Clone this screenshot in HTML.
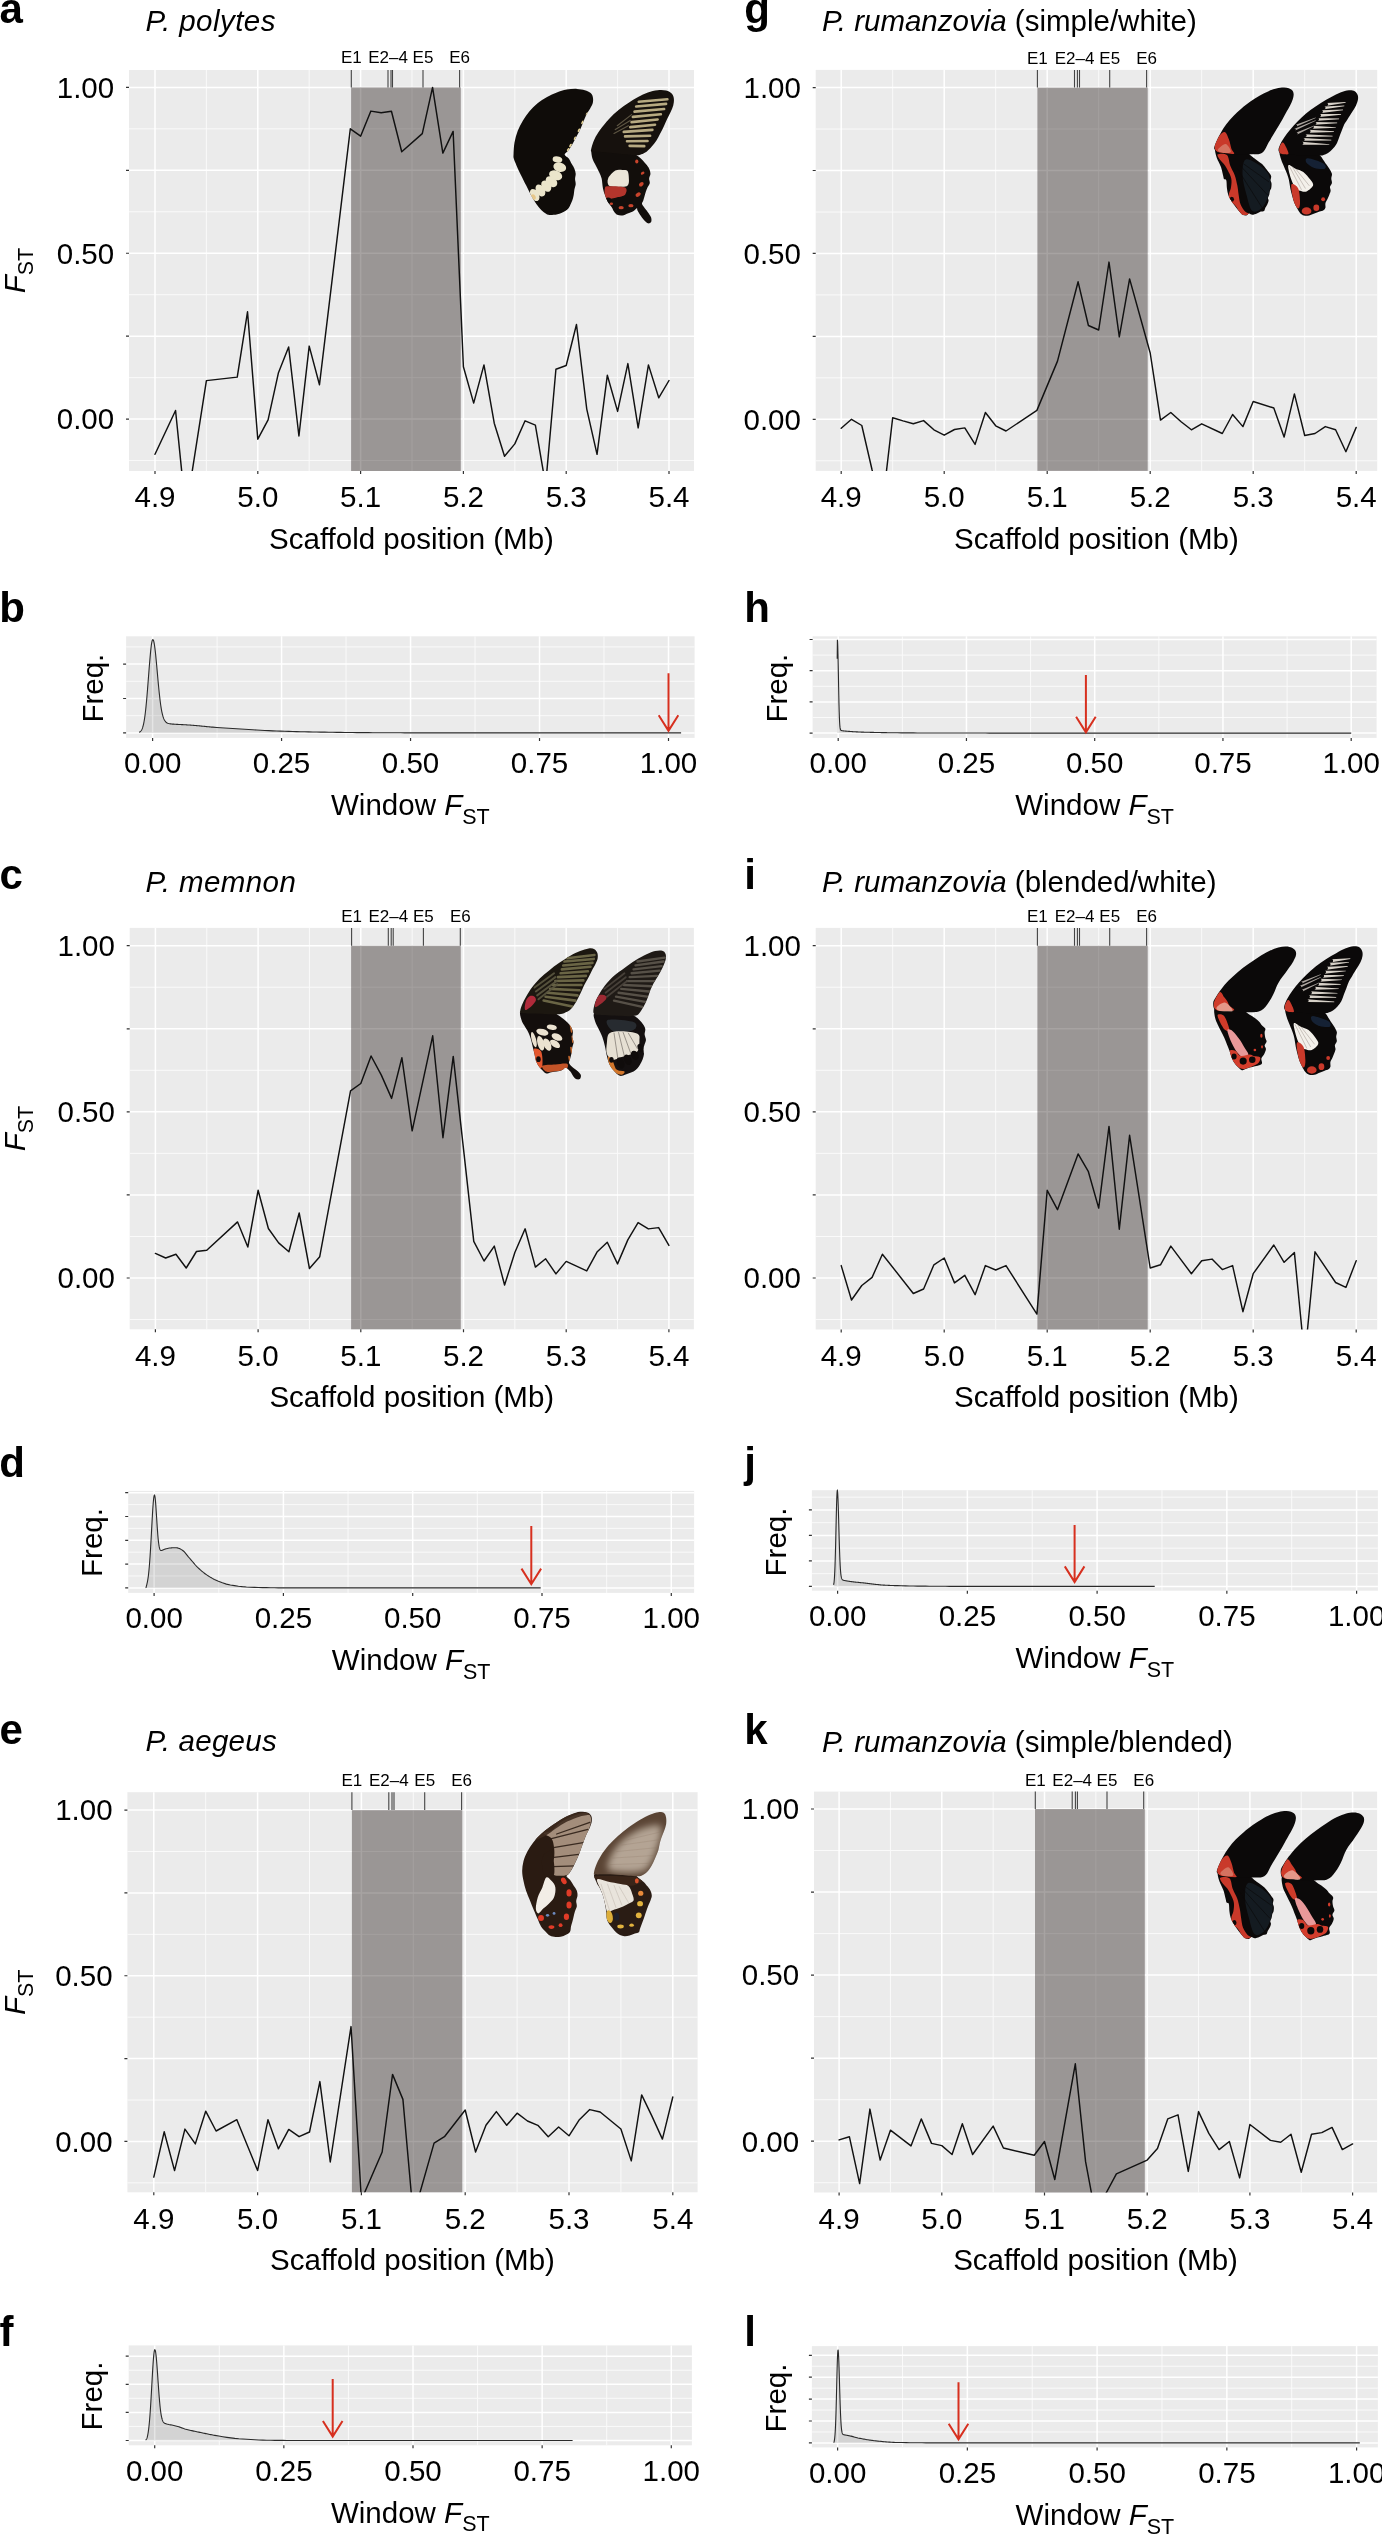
<!DOCTYPE html>
<html><head><meta charset="utf-8"><title>Figure</title>
<style>html,body{margin:0;padding:0;background:#fff;}svg{display:block;will-change:transform;}</style></head>
<body><svg width="1382" height="2535" viewBox="0 0 1382 2535">
<defs><filter id="bl60" x="-20%" y="-20%" width="140%" height="140%"><feGaussianBlur stdDeviation="60"/></filter></defs>
<rect width="1382" height="2535" fill="#fff"/>
<clipPath id="clipa"><rect x="129" y="70" width="565" height="401"/></clipPath>
<rect x="129" y="70" width="565" height="401" fill="#EBEBEB"/>
<path d="M206.4 70V471M309.2 70V471M412 70V471M514.8 70V471M617.6 70V471M129 460.56H694M129 377.64H694M129 294.71H694M129 211.79H694M129 128.86H694" stroke="#fafafa" stroke-width="1" fill="none"/>
<path d="M155 70V471M257.8 70V471M360.6 70V471M463.4 70V471M566.2 70V471M669 70V471M129 419.1H694M129 336.18H694M129 253.25H694M129 170.32H694M129 87.4H694" stroke="#ffffff" stroke-width="1.5" fill="none"/>
<rect x="351.1" y="87.4" width="109.7" height="383.6" fill="#0d0400" fill-opacity="0.365"/>
<path d="M351.3 70V87.4M388 70V87.4M391 70V87.4M392.5 70V87.4M423 70V87.4M459.6 70V87.4" stroke="#444" stroke-width="1.1" fill="none"/>
<text x="351.3" y="62.8" font-family='"Liberation Sans", sans-serif' font-size="17" text-anchor="middle">E1</text>
<text x="388" y="62.8" font-family='"Liberation Sans", sans-serif' font-size="17" text-anchor="middle">E2–4</text>
<text x="423" y="62.8" font-family='"Liberation Sans", sans-serif' font-size="17" text-anchor="middle">E5</text>
<text x="459.6" y="62.8" font-family='"Liberation Sans", sans-serif' font-size="17" text-anchor="middle">E6</text>
<path d="M155 454.3 L175.56 410.5 L185.84 512 L206.4 380.6 L237.24 377.1 L247.52 311.8 L257.8 439.2 L268.08 419.8 L278.36 373.1 L288.64 346.9 L298.92 436 L309.2 346.1 L319.48 384.7 L350.32 128.8 L360.6 136.2 L370.88 111.1 L381.16 112.7 L391.44 111.2 L401.72 151.8 L422.28 133.6 L432.56 87.4 L442.84 153.1 L453.12 131.4 L463.4 366.8 L473.68 403.1 L483.96 364.9 L494.24 423.2 L504.52 456.2 L514.8 443.9 L525.08 420.8 L535.36 425.1 L545.64 485 L555.92 369.2 L566.2 365.5 L576.48 324.5 L586.76 409.1 L597.04 454.3 L607.32 375.3 L617.6 411.4 L627.88 363.6 L638.16 427.9 L648.44 364.9 L658.72 397.8 L669 380.5" stroke="#111" stroke-width="1.45" fill="none" stroke-linejoin="round" stroke-linecap="round" clip-path="url(#clipa)"/>
<path d="M126 419.1H129M126 336.18H129M126 253.25H129M126 170.32H129M126 87.4H129M155 471V474M257.8 471V474M360.6 471V474M463.4 471V474M566.2 471V474M669 471V474" stroke="#333333" stroke-width="1.2" fill="none"/>
<text x="114.2" y="429.4" font-family='"Liberation Sans", sans-serif' font-size="29.5" text-anchor="end">0.00</text>
<text x="114.2" y="263.55" font-family='"Liberation Sans", sans-serif' font-size="29.5" text-anchor="end">0.50</text>
<text x="114.2" y="97.7" font-family='"Liberation Sans", sans-serif' font-size="29.5" text-anchor="end">1.00</text>
<text x="155" y="507.3" font-family='"Liberation Sans", sans-serif' font-size="29.5" text-anchor="middle">4.9</text>
<text x="257.8" y="507.3" font-family='"Liberation Sans", sans-serif' font-size="29.5" text-anchor="middle">5.0</text>
<text x="360.6" y="507.3" font-family='"Liberation Sans", sans-serif' font-size="29.5" text-anchor="middle">5.1</text>
<text x="463.4" y="507.3" font-family='"Liberation Sans", sans-serif' font-size="29.5" text-anchor="middle">5.2</text>
<text x="566.2" y="507.3" font-family='"Liberation Sans", sans-serif' font-size="29.5" text-anchor="middle">5.3</text>
<text x="669" y="507.3" font-family='"Liberation Sans", sans-serif' font-size="29.5" text-anchor="middle">5.4</text>
<text x="411.5" y="548.6" font-family='"Liberation Sans", sans-serif' font-size="29.5" text-anchor="middle">Scaffold position (Mb)</text>
<text transform="translate(24.6 270.5) rotate(-90)" font-family='"Liberation Sans", sans-serif' font-size="29.5" text-anchor="middle"><tspan font-style="italic">F</tspan><tspan font-size="21.5" dy="8.6">ST</tspan></text>
<text x="145.6" y="30.7" font-family='"Liberation Sans", sans-serif' font-size="29.5"><tspan font-style="italic" letter-spacing="0.45">P. polytes</tspan></text>
<g transform="translate(508 84) scale(0.065104)"><clipPath id="ca_left"><path d="M85 1080C87 1038 89 960 100 900C111 840 128 777 150 720C172 663 200 610 230 560C260 510 293 463 330 420C367 377 405 337 450 300C495 263 550 228 600 200C650 172 700 149 750 130C800 111 848 94 900 85C952 76 1013 73 1060 75C1107 77 1145 84 1180 95C1215 106 1249 121 1270 140C1291 159 1300 183 1305 210C1310 237 1308 272 1300 300C1292 328 1277 350 1260 380C1243 410 1218 443 1200 480C1182 517 1167 560 1150 600C1133 640 1118 682 1100 720C1082 758 1060 793 1040 830C1020 867 1000 907 980 940C960 973 938 1006 920 1030C902 1054 868 1067 870 1085C872 1103 912 1116 930 1140C948 1164 965 1203 980 1230C995 1257 1010 1275 1020 1300C1030 1325 1038 1353 1040 1380C1042 1407 1030 1433 1030 1460C1030 1487 1042 1513 1040 1540C1038 1567 1025 1593 1020 1620C1015 1647 1015 1673 1010 1700C1005 1727 998 1755 990 1780C982 1805 970 1828 960 1850C950 1872 943 1893 930 1910C917 1927 898 1938 880 1950C862 1962 840 1972 820 1980C800 1988 780 1995 760 2000C740 2005 723 2008 700 2010C677 2012 645 2017 620 2010C595 2003 573 1988 550 1970C527 1952 502 1925 480 1900C458 1875 442 1853 420 1820C398 1787 373 1743 350 1700C327 1657 305 1610 280 1560C255 1510 225 1452 200 1400C175 1348 148 1292 130 1250C112 1208 98 1178 90 1150C82 1122 83 1122 85 1080Z"/></clipPath><path d="M85 1080C87 1038 89 960 100 900C111 840 128 777 150 720C172 663 200 610 230 560C260 510 293 463 330 420C367 377 405 337 450 300C495 263 550 228 600 200C650 172 700 149 750 130C800 111 848 94 900 85C952 76 1013 73 1060 75C1107 77 1145 84 1180 95C1215 106 1249 121 1270 140C1291 159 1300 183 1305 210C1310 237 1308 272 1300 300C1292 328 1277 350 1260 380C1243 410 1218 443 1200 480C1182 517 1167 560 1150 600C1133 640 1118 682 1100 720C1082 758 1060 793 1040 830C1020 867 1000 907 980 940C960 973 938 1006 920 1030C902 1054 868 1067 870 1085C872 1103 912 1116 930 1140C948 1164 965 1203 980 1230C995 1257 1010 1275 1020 1300C1030 1325 1038 1353 1040 1380C1042 1407 1030 1433 1030 1460C1030 1487 1042 1513 1040 1540C1038 1567 1025 1593 1020 1620C1015 1647 1015 1673 1010 1700C1005 1727 998 1755 990 1780C982 1805 970 1828 960 1850C950 1872 943 1893 930 1910C917 1927 898 1938 880 1950C862 1962 840 1972 820 1980C800 1988 780 1995 760 2000C740 2005 723 2008 700 2010C677 2012 645 2017 620 2010C595 2003 573 1988 550 1970C527 1952 502 1925 480 1900C458 1875 442 1853 420 1820C398 1787 373 1743 350 1700C327 1657 305 1610 280 1560C255 1510 225 1452 200 1400C175 1348 148 1292 130 1250C112 1208 98 1178 90 1150C82 1122 83 1122 85 1080Z" fill="#0f0c09"/><g clip-path="url(#ca_left)"><ellipse cx="760" cy="1160" rx="75" ry="48" fill="#ebe5cb" transform="rotate(10 760 1160)"/><ellipse cx="795" cy="1278" rx="100" ry="72" fill="#ebe5cb" transform="rotate(15 795 1278)"/><ellipse cx="732" cy="1402" rx="105" ry="72" fill="#ebe5cb" transform="rotate(22 732 1402)"/><ellipse cx="668" cy="1500" rx="100" ry="72" fill="#ebe5cb" transform="rotate(40 668 1500)"/><ellipse cx="588" cy="1568" rx="95" ry="68" fill="#ebe5cb" transform="rotate(55 588 1568)"/><ellipse cx="498" cy="1635" rx="100" ry="66" fill="#ebe5cb" transform="rotate(60 498 1635)"/><ellipse cx="410" cy="1705" rx="100" ry="64" fill="#ebe5cb" transform="rotate(60 410 1705)"/><ellipse cx="385" cy="1740" rx="45" ry="40" fill="#e6c27e" opacity="0.85" transform="rotate(60 385 1740)"/><ellipse cx="1215" cy="460" rx="30" ry="16" fill="#e8d598" transform="rotate(-60 1215 460)"/><ellipse cx="1145" cy="590" rx="30" ry="16" fill="#e8d598" transform="rotate(-60 1145 590)"/><ellipse cx="1090" cy="710" rx="30" ry="16" fill="#e8d598" transform="rotate(-60 1090 710)"/><ellipse cx="1030" cy="835" rx="30" ry="16" fill="#e8d598" transform="rotate(-60 1030 835)"/><ellipse cx="960" cy="945" rx="30" ry="16" fill="#e8d598" transform="rotate(-60 960 945)"/><ellipse cx="925" cy="1010" rx="30" ry="16" fill="#e8d598" transform="rotate(-60 925 1010)"/></g></g><g transform="translate(586 84) scale(0.065104)"><clipPath id="fa_right"><path d="M80 1000C87 968 107 900 130 850C153 800 183 752 220 700C257 648 303 590 350 540C397 490 450 442 500 400C550 358 600 323 650 290C700 257 750 227 800 200C850 173 900 148 950 130C1000 112 1053 100 1100 95C1147 90 1193 91 1230 100C1267 109 1300 128 1320 150C1340 172 1347 200 1350 230C1353 260 1348 297 1340 330C1332 363 1315 397 1300 430C1285 463 1267 495 1250 530C1233 565 1218 602 1200 640C1182 678 1160 722 1140 760C1120 798 1102 837 1080 870C1058 903 1035 932 1010 960C985 988 957 1020 930 1040C903 1060 875 1071 850 1080C825 1089 822 1095 780 1095C738 1095 663 1086 600 1080C537 1074 467 1067 400 1060C333 1053 252 1043 200 1040C148 1037 110 1047 90 1040C70 1033 73 1032 80 1000Z"/></clipPath><clipPath id="ha_right"><path d="M80 1020C80 1042 88 1112 100 1150C112 1188 133 1217 150 1250C167 1283 185 1317 200 1350C215 1383 230 1408 240 1450C250 1492 252 1558 260 1600C268 1642 278 1667 290 1700C302 1733 312 1767 330 1800C348 1833 383 1873 400 1900C417 1927 417 1942 430 1960C443 1978 458 2000 480 2010C502 2020 533 2023 560 2020C587 2017 613 2000 640 1990C667 1980 697 1973 720 1960C743 1947 768 1913 780 1910C792 1907 782 1923 790 1940C798 1957 813 1985 830 2010C847 2035 870 2068 890 2090C910 2112 932 2135 950 2140C968 2145 992 2135 1000 2120C1008 2105 1008 2075 1000 2050C992 2025 968 1997 950 1970C932 1943 905 1912 890 1890C875 1868 862 1857 860 1840C858 1823 873 1810 880 1790C887 1770 893 1743 900 1720C907 1697 912 1673 920 1650C928 1627 940 1602 950 1580C960 1558 977 1542 980 1520C983 1498 968 1473 970 1450C972 1427 990 1405 990 1380C990 1355 982 1325 970 1300C958 1275 937 1252 920 1230C903 1208 890 1190 870 1170C850 1150 828 1128 800 1110C772 1092 750 1073 700 1060C650 1047 567 1037 500 1030C433 1023 367 1022 300 1020C233 1018 137 1015 100 1015C63 1015 80 998 80 1020Z"/></clipPath><path d="M80 1020C80 1042 88 1112 100 1150C112 1188 133 1217 150 1250C167 1283 185 1317 200 1350C215 1383 230 1408 240 1450C250 1492 252 1558 260 1600C268 1642 278 1667 290 1700C302 1733 312 1767 330 1800C348 1833 383 1873 400 1900C417 1927 417 1942 430 1960C443 1978 458 2000 480 2010C502 2020 533 2023 560 2020C587 2017 613 2000 640 1990C667 1980 697 1973 720 1960C743 1947 768 1913 780 1910C792 1907 782 1923 790 1940C798 1957 813 1985 830 2010C847 2035 870 2068 890 2090C910 2112 932 2135 950 2140C968 2145 992 2135 1000 2120C1008 2105 1008 2075 1000 2050C992 2025 968 1997 950 1970C932 1943 905 1912 890 1890C875 1868 862 1857 860 1840C858 1823 873 1810 880 1790C887 1770 893 1743 900 1720C907 1697 912 1673 920 1650C928 1627 940 1602 950 1580C960 1558 977 1542 980 1520C983 1498 968 1473 970 1450C972 1427 990 1405 990 1380C990 1355 982 1325 970 1300C958 1275 937 1252 920 1230C903 1208 890 1190 870 1170C850 1150 828 1128 800 1110C772 1092 750 1073 700 1060C650 1047 567 1037 500 1030C433 1023 367 1022 300 1020C233 1018 137 1015 100 1015C63 1015 80 998 80 1020Z" fill="#120e0b"/><g clip-path="url(#ha_right)"><path d="M340 1450C357 1412 413 1352 450 1330C487 1308 528 1318 560 1320C592 1322 623 1313 640 1340C657 1367 660 1443 660 1480C660 1517 657 1543 640 1560C623 1577 592 1577 560 1580C528 1583 485 1583 450 1580C415 1577 368 1582 350 1560C332 1538 323 1488 340 1450Z" fill="#ebe5d8"/><path d="M290 1600C298 1568 298 1572 350 1570C402 1568 558 1568 600 1590C642 1612 620 1675 600 1700C580 1725 513 1730 480 1740C447 1750 430 1757 400 1760C370 1763 318 1787 300 1760C282 1733 282 1632 290 1600Z" fill="#b3352c"/><ellipse cx="340" cy="1790" rx="50" ry="45" fill="#0d0a08"/><ellipse cx="780" cy="1190" rx="25" ry="30" fill="#c8442c"/><ellipse cx="870" cy="1370" rx="30" ry="20" fill="#c8442c" transform="rotate(-30 870 1370)"/><ellipse cx="850" cy="1540" rx="40" ry="28" fill="#c8442c" transform="rotate(-40 850 1540)"/><ellipse cx="800" cy="1700" rx="42" ry="30" fill="#c8442c" transform="rotate(-30 800 1700)"/><ellipse cx="690" cy="1870" rx="40" ry="25" fill="#c8442c"/><ellipse cx="540" cy="1900" rx="40" ry="25" fill="#c8442c"/><ellipse cx="390" cy="1840" rx="25" ry="20" fill="#c8442c"/></g><path d="M80 1000C87 968 107 900 130 850C153 800 183 752 220 700C257 648 303 590 350 540C397 490 450 442 500 400C550 358 600 323 650 290C700 257 750 227 800 200C850 173 900 148 950 130C1000 112 1053 100 1100 95C1147 90 1193 91 1230 100C1267 109 1300 128 1320 150C1340 172 1347 200 1350 230C1353 260 1348 297 1340 330C1332 363 1315 397 1300 430C1285 463 1267 495 1250 530C1233 565 1218 602 1200 640C1182 678 1160 722 1140 760C1120 798 1102 837 1080 870C1058 903 1035 932 1010 960C985 988 957 1020 930 1040C903 1060 875 1071 850 1080C825 1089 822 1095 780 1095C738 1095 663 1086 600 1080C537 1074 467 1067 400 1060C333 1053 252 1043 200 1040C148 1037 110 1047 90 1040C70 1033 73 1032 80 1000Z" fill="#16110d"/><g clip-path="url(#fa_right)"><path d="M580 735L1020 705M600 805L985 795M630 880L945 875M670 950L895 955M680 662L1060 625M700 585L1100 545M720 505L1150 465M745 425L1200 385M770 345L1230 305M810 272L1250 235" stroke="#c5b78c" stroke-width="40" stroke-linecap="round" fill="none" opacity="0.92"/><path d="M480 640L700 470M450 700L680 560M430 760L650 640" stroke="#8c8266" stroke-width="18" stroke-linecap="round" fill="none" opacity="0.6"/></g></g>
<clipPath id="clipc"><rect x="129.7" y="927.9" width="564.2" height="401.4"/></clipPath>
<rect x="129.7" y="927.9" width="564.2" height="401.4" fill="#EBEBEB"/>
<path d="M206.75 927.9V1329.3M309.45 927.9V1329.3M412.15 927.9V1329.3M514.85 927.9V1329.3M617.55 927.9V1329.3M129.7 1319.54H693.9M129.7 1236.46H693.9M129.7 1153.39H693.9M129.7 1070.31H693.9M129.7 987.24H693.9" stroke="#fafafa" stroke-width="1" fill="none"/>
<path d="M155.4 927.9V1329.3M258.1 927.9V1329.3M360.8 927.9V1329.3M463.5 927.9V1329.3M566.2 927.9V1329.3M668.9 927.9V1329.3M129.7 1278H693.9M129.7 1194.92H693.9M129.7 1111.85H693.9M129.7 1028.78H693.9M129.7 945.7H693.9" stroke="#ffffff" stroke-width="1.5" fill="none"/>
<rect x="351.1" y="945.7" width="109.7" height="383.6" fill="#0d0400" fill-opacity="0.365"/>
<path d="M351.6 927.9V945.7M388.3 927.9V945.7M391.2 927.9V945.7M393.2 927.9V945.7M423.4 927.9V945.7M460.3 927.9V945.7" stroke="#444" stroke-width="1.1" fill="none"/>
<text x="351.6" y="921.6" font-family='"Liberation Sans", sans-serif' font-size="17" text-anchor="middle">E1</text>
<text x="388.3" y="921.6" font-family='"Liberation Sans", sans-serif' font-size="17" text-anchor="middle">E2–4</text>
<text x="423.4" y="921.6" font-family='"Liberation Sans", sans-serif' font-size="17" text-anchor="middle">E5</text>
<text x="460.3" y="921.6" font-family='"Liberation Sans", sans-serif' font-size="17" text-anchor="middle">E6</text>
<path d="M155.4 1253.4 L165.67 1258 L175.94 1254.2 L186.21 1268 L196.48 1251.5 L206.75 1250.2 L237.56 1221.9 L247.83 1247 L258.1 1190.3 L268.37 1228.5 L278.64 1242.9 L288.91 1251.8 L299.18 1213 L309.45 1268.5 L319.72 1256.7 L350.53 1090.8 L360.8 1083.5 L371.07 1056 L381.34 1075.1 L391.61 1098.4 L401.88 1057.7 L412.15 1130.8 L432.69 1035.8 L442.96 1137.7 L453.23 1056.4 L473.77 1241.3 L484.04 1261 L494.31 1246.1 L504.58 1285 L514.85 1252.5 L525.12 1228.8 L535.39 1267.1 L545.66 1258.8 L555.93 1273.9 L566.2 1261.4 L586.74 1270.9 L597.01 1252.1 L607.28 1242.3 L617.55 1263.9 L627.82 1239.9 L638.09 1222.6 L648.36 1228.9 L658.63 1227.6 L668.9 1245.4" stroke="#111" stroke-width="1.45" fill="none" stroke-linejoin="round" stroke-linecap="round" clip-path="url(#clipc)"/>
<path d="M126.7 1278H129.7M126.7 1194.92H129.7M126.7 1111.85H129.7M126.7 1028.78H129.7M126.7 945.7H129.7M155.4 1329.3V1332.3M258.1 1329.3V1332.3M360.8 1329.3V1332.3M463.5 1329.3V1332.3M566.2 1329.3V1332.3M668.9 1329.3V1332.3" stroke="#333333" stroke-width="1.2" fill="none"/>
<text x="114.9" y="1288.3" font-family='"Liberation Sans", sans-serif' font-size="29.5" text-anchor="end">0.00</text>
<text x="114.9" y="1122.15" font-family='"Liberation Sans", sans-serif' font-size="29.5" text-anchor="end">0.50</text>
<text x="114.9" y="956" font-family='"Liberation Sans", sans-serif' font-size="29.5" text-anchor="end">1.00</text>
<text x="155.4" y="1365.6" font-family='"Liberation Sans", sans-serif' font-size="29.5" text-anchor="middle">4.9</text>
<text x="258.1" y="1365.6" font-family='"Liberation Sans", sans-serif' font-size="29.5" text-anchor="middle">5.0</text>
<text x="360.8" y="1365.6" font-family='"Liberation Sans", sans-serif' font-size="29.5" text-anchor="middle">5.1</text>
<text x="463.5" y="1365.6" font-family='"Liberation Sans", sans-serif' font-size="29.5" text-anchor="middle">5.2</text>
<text x="566.2" y="1365.6" font-family='"Liberation Sans", sans-serif' font-size="29.5" text-anchor="middle">5.3</text>
<text x="668.9" y="1365.6" font-family='"Liberation Sans", sans-serif' font-size="29.5" text-anchor="middle">5.4</text>
<text x="411.8" y="1406.9" font-family='"Liberation Sans", sans-serif' font-size="29.5" text-anchor="middle">Scaffold position (Mb)</text>
<text transform="translate(24.6 1128.6) rotate(-90)" font-family='"Liberation Sans", sans-serif' font-size="29.5" text-anchor="middle"><tspan font-style="italic">F</tspan><tspan font-size="21.5" dy="8.6">ST</tspan></text>
<text x="145.6" y="891.6" font-family='"Liberation Sans", sans-serif' font-size="29.5"><tspan font-style="italic" letter-spacing="0.4">P. memnon</tspan></text>
<g transform="translate(515 942) scale(0.065104)"><clipPath id="fc_left"><path d="M80 1060C82 1038 95 997 110 960C125 923 145 883 170 840C195 797 225 747 260 700C295 653 337 603 380 560C423 517 470 480 520 440C570 400 625 358 680 320C735 282 797 240 850 210C903 180 953 158 1000 140C1047 122 1093 105 1130 100C1167 95 1198 98 1220 110C1242 122 1257 147 1265 170C1273 193 1274 223 1270 250C1266 277 1255 298 1240 330C1225 362 1200 402 1180 440C1160 478 1140 522 1120 560C1100 598 1078 633 1060 670C1042 707 1027 745 1010 780C993 815 978 847 960 880C942 913 920 952 900 980C880 1008 863 1032 840 1050C817 1068 787 1080 760 1090C733 1100 723 1107 680 1110C637 1113 563 1112 500 1110C437 1108 367 1103 300 1100C233 1097 137 1097 100 1090C63 1083 78 1082 80 1060Z"/></clipPath><clipPath id="hc_left"><path d="M90 1065C57 1088 92 1164 100 1200C108 1236 123 1250 140 1280C157 1310 183 1347 200 1380C217 1413 228 1443 240 1480C252 1517 260 1560 270 1600C280 1640 292 1683 300 1720C308 1757 310 1790 320 1820C330 1850 343 1875 360 1900C377 1925 400 1950 420 1970C440 1990 457 2015 480 2020C503 2025 533 2005 560 2000C587 1995 613 1995 640 1990C667 1985 697 1980 720 1970C743 1960 758 1927 780 1930C802 1933 830 1967 850 1990C870 2013 883 2050 900 2070C917 2090 933 2105 950 2110C967 2115 990 2112 1000 2100C1010 2088 1017 2060 1010 2040C1003 2020 982 2000 960 1980C938 1960 902 1940 880 1920C858 1900 835 1883 830 1860C825 1837 843 1807 850 1780C857 1753 865 1727 870 1700C875 1673 875 1647 880 1620C885 1593 900 1567 900 1540C900 1513 882 1487 880 1460C878 1433 893 1407 890 1380C887 1353 873 1323 860 1300C847 1277 830 1260 810 1240C790 1220 765 1200 740 1180C715 1160 692 1138 660 1120C628 1102 610 1079 550 1070C490 1061 377 1066 300 1065C223 1064 123 1042 90 1065Z"/></clipPath><path d="M90 1065C57 1088 92 1164 100 1200C108 1236 123 1250 140 1280C157 1310 183 1347 200 1380C217 1413 228 1443 240 1480C252 1517 260 1560 270 1600C280 1640 292 1683 300 1720C308 1757 310 1790 320 1820C330 1850 343 1875 360 1900C377 1925 400 1950 420 1970C440 1990 457 2015 480 2020C503 2025 533 2005 560 2000C587 1995 613 1995 640 1990C667 1985 697 1980 720 1970C743 1960 758 1927 780 1930C802 1933 830 1967 850 1990C870 2013 883 2050 900 2070C917 2090 933 2105 950 2110C967 2115 990 2112 1000 2100C1010 2088 1017 2060 1010 2040C1003 2020 982 2000 960 1980C938 1960 902 1940 880 1920C858 1900 835 1883 830 1860C825 1837 843 1807 850 1780C857 1753 865 1727 870 1700C875 1673 875 1647 880 1620C885 1593 900 1567 900 1540C900 1513 882 1487 880 1460C878 1433 893 1407 890 1380C887 1353 873 1323 860 1300C847 1277 830 1260 810 1240C790 1220 765 1200 740 1180C715 1160 692 1138 660 1120C628 1102 610 1079 550 1070C490 1061 377 1066 300 1065C223 1064 123 1042 90 1065Z" fill="#130e0c"/><g clip-path="url(#hc_left)"><ellipse cx="420" cy="1385" rx="95" ry="50" fill="#ebe2d0" transform="rotate(15 420 1385)"/><ellipse cx="565" cy="1310" rx="78" ry="38" fill="#ebe2d0" transform="rotate(10 565 1310)"/><ellipse cx="645" cy="1460" rx="88" ry="50" fill="#ebe2d0" transform="rotate(25 645 1460)"/><ellipse cx="395" cy="1555" rx="50" ry="115" fill="#ebe2d0" transform="rotate(-15 395 1555)"/><ellipse cx="495" cy="1575" rx="55" ry="100" fill="#ebe2d0" transform="rotate(-25 495 1575)"/><ellipse cx="615" cy="1565" rx="88" ry="48" fill="#ebe2d0" transform="rotate(35 615 1565)"/><ellipse cx="290" cy="1500" rx="34" ry="120" fill="#ebe2d0" transform="rotate(-15 290 1500)"/><path d="M280 1650C297 1622 377 1638 400 1680C423 1722 428 1855 420 1900C412 1945 370 1958 350 1950C330 1942 312 1900 300 1850C288 1800 263 1678 280 1650Z" fill="#e4572e"/><path d="M420 1900C443 1882 557 1885 620 1880C683 1875 773 1857 800 1870C827 1883 813 1940 780 1960C747 1980 650 1985 600 1990C550 1995 510 2005 480 1990C450 1975 397 1918 420 1900Z" fill="#e4602e" opacity="0.85"/><path d="M850 1260L870 1380M880 1450L890 1540M860 1620L870 1700M830 1760L840 1820" stroke="#e87a36" stroke-width="25" stroke-linecap="round" fill="none" opacity="0.85"/><ellipse cx="360" cy="1800" rx="35" ry="45" fill="#0f0b0a"/></g><path d="M80 1060C82 1038 95 997 110 960C125 923 145 883 170 840C195 797 225 747 260 700C295 653 337 603 380 560C423 517 470 480 520 440C570 400 625 358 680 320C735 282 797 240 850 210C903 180 953 158 1000 140C1047 122 1093 105 1130 100C1167 95 1198 98 1220 110C1242 122 1257 147 1265 170C1273 193 1274 223 1270 250C1266 277 1255 298 1240 330C1225 362 1200 402 1180 440C1160 478 1140 522 1120 560C1100 598 1078 633 1060 670C1042 707 1027 745 1010 780C993 815 978 847 960 880C942 913 920 952 900 980C880 1008 863 1032 840 1050C817 1068 787 1080 760 1090C733 1100 723 1107 680 1110C637 1113 563 1112 500 1110C437 1108 367 1103 300 1100C233 1097 137 1097 100 1090C63 1083 78 1082 80 1060Z" fill="#1c1710"/><g clip-path="url(#fc_left)"><path d="M440 900L880 990M470 840L930 900M500 780L960 820M540 720L990 740M580 660L1020 660M620 600L1050 590M660 540L1090 520M700 480L1120 450M720 420L1160 380M740 360L1190 320M760 300L1210 260M800 250L1220 200" stroke="#6f6949" stroke-width="40" stroke-linecap="round" fill="none" opacity="0.95"/><path d="M300 700L600 480M320 760L620 540M340 820L640 600M360 880L650 650" stroke="#5b5640" stroke-width="30" stroke-linecap="round" fill="none" opacity="0.9"/><path d="M150 1020C148 997 157 932 170 900C183 868 208 840 230 830C252 820 285 828 300 840C315 852 327 877 320 900C313 923 283 957 260 980C237 1003 198 1033 180 1040C162 1047 152 1043 150 1020Z" fill="#b02a3a"/></g></g><g transform="translate(588 942) scale(0.065104)"><clipPath id="fc_right"><path d="M90 1100C73 1073 88 1007 100 960C112 913 133 868 160 820C187 772 220 720 260 670C300 620 350 565 400 520C450 475 505 440 560 400C615 360 673 315 730 280C787 245 850 213 900 190C950 167 990 149 1030 140C1070 131 1113 128 1140 135C1167 142 1181 159 1190 180C1199 201 1200 230 1195 260C1190 290 1176 323 1160 360C1144 397 1120 443 1100 480C1080 517 1058 548 1040 580C1022 612 1007 635 990 670C973 705 955 752 940 790C925 828 915 865 900 900C885 935 867 970 850 1000C833 1030 818 1058 800 1080C782 1102 773 1120 740 1130C707 1140 657 1140 600 1140C543 1140 467 1133 400 1130C333 1127 252 1125 200 1120C148 1115 107 1127 90 1100Z"/></clipPath><clipPath id="hc_right"><path d="M100 1095C68 1116 100 1181 110 1220C120 1259 142 1290 160 1330C178 1370 203 1415 220 1460C237 1505 248 1552 260 1600C272 1648 278 1703 290 1750C302 1797 312 1842 330 1880C348 1918 375 1952 400 1980C425 2008 457 2038 480 2050C503 2062 517 2055 540 2050C563 2045 593 2030 620 2020C647 2010 677 2003 700 1990C723 1977 743 1958 760 1940C777 1922 787 1903 800 1880C813 1857 830 1827 840 1800C850 1773 858 1745 860 1720C862 1695 848 1675 850 1650C852 1625 863 1595 870 1570C877 1545 890 1525 890 1500C890 1475 872 1447 870 1420C868 1393 883 1365 880 1340C877 1315 865 1293 850 1270C835 1247 812 1222 790 1200C768 1178 752 1157 720 1140C688 1123 670 1108 600 1100C530 1092 383 1096 300 1095C217 1094 132 1074 100 1095Z"/></clipPath><path d="M100 1095C68 1116 100 1181 110 1220C120 1259 142 1290 160 1330C178 1370 203 1415 220 1460C237 1505 248 1552 260 1600C272 1648 278 1703 290 1750C302 1797 312 1842 330 1880C348 1918 375 1952 400 1980C425 2008 457 2038 480 2050C503 2062 517 2055 540 2050C563 2045 593 2030 620 2020C647 2010 677 2003 700 1990C723 1977 743 1958 760 1940C777 1922 787 1903 800 1880C813 1857 830 1827 840 1800C850 1773 858 1745 860 1720C862 1695 848 1675 850 1650C852 1625 863 1595 870 1570C877 1545 890 1525 890 1500C890 1475 872 1447 870 1420C868 1393 883 1365 880 1340C877 1315 865 1293 850 1270C835 1247 812 1222 790 1200C768 1178 752 1157 720 1140C688 1123 670 1108 600 1100C530 1092 383 1096 300 1095C217 1094 132 1074 100 1095Z" fill="#141010"/><g clip-path="url(#hc_right)"><path d="M300 1200C350 1175 633 1205 700 1230C767 1255 750 1325 700 1350C650 1375 467 1405 400 1380C333 1355 250 1225 300 1200Z" fill="#3a4650" opacity="0.5"/><path d="M330 1400C368 1370 448 1368 520 1370C592 1372 715 1385 760 1410C805 1435 790 1475 790 1520C790 1565 785 1645 760 1680C735 1715 683 1715 640 1730C597 1745 543 1757 500 1770C457 1783 415 1818 380 1810C345 1802 305 1763 290 1720C275 1677 283 1603 290 1550C297 1497 292 1430 330 1400Z" fill="#e6e0d3"/><path d="M400 1400L460 1800M470 1390L560 1760M540 1390L660 1720M620 1400L760 1640" stroke="#2a2320" stroke-width="7" stroke-linecap="round" fill="none" opacity="0.9"/><ellipse cx="500" cy="1860" rx="55" ry="90" fill="#100c0b" transform="rotate(-20 500 1860)"/><ellipse cx="610" cy="1810" rx="55" ry="85" fill="#100c0b" transform="rotate(-25 610 1810)"/><ellipse cx="720" cy="1740" rx="55" ry="75" fill="#100c0b" transform="rotate(-30 720 1740)"/><ellipse cx="810" cy="1630" rx="40" ry="70" fill="#100c0b" transform="rotate(-30 810 1630)"/><path d="M310 1760C318 1748 358 1797 380 1830C402 1863 410 1933 440 1960C470 1987 547 1977 560 1990C573 2003 543 2037 520 2040C497 2043 452 2033 420 2010C388 1987 348 1942 330 1900C312 1858 302 1772 310 1760Z" fill="#e7822f" opacity="0.9"/><ellipse cx="360" cy="1810" rx="35" ry="45" fill="#100c0b"/></g><path d="M90 1100C73 1073 88 1007 100 960C112 913 133 868 160 820C187 772 220 720 260 670C300 620 350 565 400 520C450 475 505 440 560 400C615 360 673 315 730 280C787 245 850 213 900 190C950 167 990 149 1030 140C1070 131 1113 128 1140 135C1167 142 1181 159 1190 180C1199 201 1200 230 1195 260C1190 290 1176 323 1160 360C1144 397 1120 443 1100 480C1080 517 1058 548 1040 580C1022 612 1007 635 990 670C973 705 955 752 940 790C925 828 915 865 900 900C885 935 867 970 850 1000C833 1030 818 1058 800 1080C782 1102 773 1120 740 1130C707 1140 657 1140 600 1140C543 1140 467 1133 400 1130C333 1127 252 1125 200 1120C148 1115 107 1127 90 1100Z" fill="#1f1a16"/><g clip-path="url(#fc_right)"><path d="M400 900L850 1000M430 840L880 920M470 780L910 840M510 720L940 760M550 660L980 680M600 600L1020 600M640 540L1060 520M670 480L1100 440M700 420L1130 370M730 360L1160 300M760 300L1180 240" stroke="#5a534a" stroke-width="36" stroke-linecap="round" fill="none" opacity="0.95"/><path d="M250 720L560 480M270 780L580 540M290 840L600 600" stroke="#4a443c" stroke-width="28" stroke-linecap="round" fill="none" opacity="0.9"/><path d="M110 1000C97 992 110 930 120 900C130 870 147 833 170 820C193 807 242 812 260 820C278 828 290 848 280 870C270 892 228 928 200 950C172 972 123 1008 110 1000Z" fill="#9c2a33"/></g></g>
<clipPath id="clipe"><rect x="127.4" y="1792.2" width="570.2" height="400.1"/></clipPath>
<rect x="127.4" y="1792.2" width="570.2" height="400.1" fill="#EBEBEB"/>
<path d="M205.7 1792.2V2192.3M309.5 1792.2V2192.3M413.3 1792.2V2192.3M517.1 1792.2V2192.3M620.9 1792.2V2192.3M127.4 2182.81H697.6M127.4 2099.99H697.6M127.4 2017.16H697.6M127.4 1934.34H697.6M127.4 1851.51H697.6" stroke="#fafafa" stroke-width="1" fill="none"/>
<path d="M153.8 1792.2V2192.3M257.6 1792.2V2192.3M361.4 1792.2V2192.3M465.2 1792.2V2192.3M569 1792.2V2192.3M672.8 1792.2V2192.3M127.4 2141.4H697.6M127.4 2058.57H697.6M127.4 1975.75H697.6M127.4 1892.92H697.6M127.4 1810.1H697.6" stroke="#ffffff" stroke-width="1.5" fill="none"/>
<rect x="351.9" y="1810.1" width="110.4" height="382.2" fill="#0d0400" fill-opacity="0.365"/>
<path d="M351.9 1792.2V1810.1M388.8 1792.2V1810.1M392 1792.2V1810.1M394 1792.2V1810.1M424.7 1792.2V1810.1M461.6 1792.2V1810.1" stroke="#444" stroke-width="1.1" fill="none"/>
<text x="351.9" y="1786.1" font-family='"Liberation Sans", sans-serif' font-size="17" text-anchor="middle">E1</text>
<text x="388.8" y="1786.1" font-family='"Liberation Sans", sans-serif' font-size="17" text-anchor="middle">E2–4</text>
<text x="424.7" y="1786.1" font-family='"Liberation Sans", sans-serif' font-size="17" text-anchor="middle">E5</text>
<text x="461.6" y="1786.1" font-family='"Liberation Sans", sans-serif' font-size="17" text-anchor="middle">E6</text>
<path d="M153.8 2177.1 L164.18 2131.8 L174.56 2170.6 L184.94 2129.1 L195.32 2143.9 L205.7 2111.2 L216.08 2131 L236.84 2119.7 L257.6 2170.6 L267.98 2119.7 L278.36 2148.8 L288.74 2129.4 L299.12 2136.7 L309.5 2132 L319.88 2081.6 L330.26 2162 L351.02 2026.6 L361.4 2200 L382.16 2152 L392.54 2074.4 L402.92 2099.4 L413.3 2216 L434.06 2143.1 L444.44 2136.7 L465.2 2110 L475.58 2152 L485.96 2125.3 L496.34 2111.6 L506.72 2125.3 L517.1 2113.2 L527.48 2121 L537.86 2125.3 L548.24 2136.7 L558.62 2127 L569 2135.8 L579.38 2119.7 L589.76 2109.6 L600.14 2112 L620.9 2129 L631.28 2160.9 L641.66 2094.9 L652.04 2116.4 L662.42 2139.1 L672.8 2097" stroke="#111" stroke-width="1.45" fill="none" stroke-linejoin="round" stroke-linecap="round" clip-path="url(#clipe)"/>
<path d="M124.4 2141.4H127.4M124.4 2058.57H127.4M124.4 1975.75H127.4M124.4 1892.92H127.4M124.4 1810.1H127.4M153.8 2192.3V2195.3M257.6 2192.3V2195.3M361.4 2192.3V2195.3M465.2 2192.3V2195.3M569 2192.3V2195.3M672.8 2192.3V2195.3" stroke="#333333" stroke-width="1.2" fill="none"/>
<text x="112.6" y="2151.7" font-family='"Liberation Sans", sans-serif' font-size="29.5" text-anchor="end">0.00</text>
<text x="112.6" y="1986.05" font-family='"Liberation Sans", sans-serif' font-size="29.5" text-anchor="end">0.50</text>
<text x="112.6" y="1820.4" font-family='"Liberation Sans", sans-serif' font-size="29.5" text-anchor="end">1.00</text>
<text x="153.8" y="2228.6" font-family='"Liberation Sans", sans-serif' font-size="29.5" text-anchor="middle">4.9</text>
<text x="257.6" y="2228.6" font-family='"Liberation Sans", sans-serif' font-size="29.5" text-anchor="middle">5.0</text>
<text x="361.4" y="2228.6" font-family='"Liberation Sans", sans-serif' font-size="29.5" text-anchor="middle">5.1</text>
<text x="465.2" y="2228.6" font-family='"Liberation Sans", sans-serif' font-size="29.5" text-anchor="middle">5.2</text>
<text x="569" y="2228.6" font-family='"Liberation Sans", sans-serif' font-size="29.5" text-anchor="middle">5.3</text>
<text x="672.8" y="2228.6" font-family='"Liberation Sans", sans-serif' font-size="29.5" text-anchor="middle">5.4</text>
<text x="412.5" y="2269.9" font-family='"Liberation Sans", sans-serif' font-size="29.5" text-anchor="middle">Scaffold position (Mb)</text>
<text transform="translate(24.6 1992.25) rotate(-90)" font-family='"Liberation Sans", sans-serif' font-size="29.5" text-anchor="middle"><tspan font-style="italic">F</tspan><tspan font-size="21.5" dy="8.6">ST</tspan></text>
<text x="145.6" y="1751.4" font-family='"Liberation Sans", sans-serif' font-size="29.5"><tspan font-style="italic" letter-spacing="0.25">P. aegeus</tspan></text>
<g transform="translate(515 1806) scale(0.065104)"><clipPath id="ce_left"><path d="M110 1000C110 950 117 900 130 850C143 800 165 748 190 700C215 652 245 605 280 560C315 515 357 470 400 430C443 390 490 357 540 320C590 283 647 242 700 210C753 178 810 150 860 130C910 110 958 95 1000 90C1042 85 1082 90 1110 100C1138 110 1158 128 1170 150C1182 172 1183 200 1180 230C1177 260 1163 297 1150 330C1137 363 1115 397 1100 430C1085 463 1073 495 1060 530C1047 565 1033 603 1020 640C1007 677 995 713 980 750C965 787 947 825 930 860C913 895 897 930 880 960C863 990 845 1020 830 1040C815 1060 787 1063 790 1080C793 1097 832 1117 850 1140C868 1163 883 1193 900 1220C917 1247 940 1273 950 1300C960 1327 962 1353 960 1380C958 1407 942 1433 940 1460C938 1487 953 1513 950 1540C947 1567 928 1593 920 1620C912 1647 907 1673 900 1700C893 1727 887 1755 880 1780C873 1805 865 1827 860 1850C855 1873 857 1902 850 1920C843 1938 835 1948 820 1960C805 1972 780 1982 760 1990C740 1998 727 2007 700 2010C673 2013 630 2015 600 2010C570 2005 543 1995 520 1980C497 1965 480 1942 460 1920C440 1898 418 1880 400 1850C382 1820 368 1782 350 1740C332 1698 310 1648 290 1600C270 1552 250 1500 230 1450C210 1400 187 1350 170 1300C153 1250 140 1200 130 1150C120 1100 110 1050 110 1000Z"/></clipPath><path d="M110 1000C110 950 117 900 130 850C143 800 165 748 190 700C215 652 245 605 280 560C315 515 357 470 400 430C443 390 490 357 540 320C590 283 647 242 700 210C753 178 810 150 860 130C910 110 958 95 1000 90C1042 85 1082 90 1110 100C1138 110 1158 128 1170 150C1182 172 1183 200 1180 230C1177 260 1163 297 1150 330C1137 363 1115 397 1100 430C1085 463 1073 495 1060 530C1047 565 1033 603 1020 640C1007 677 995 713 980 750C965 787 947 825 930 860C913 895 897 930 880 960C863 990 845 1020 830 1040C815 1060 787 1063 790 1080C793 1097 832 1117 850 1140C868 1163 883 1193 900 1220C917 1247 940 1273 950 1300C960 1327 962 1353 960 1380C958 1407 942 1433 940 1460C938 1487 953 1513 950 1540C947 1567 928 1593 920 1620C912 1647 907 1673 900 1700C893 1727 887 1755 880 1780C873 1805 865 1827 860 1850C855 1873 857 1902 850 1920C843 1938 835 1948 820 1960C805 1972 780 1982 760 1990C740 1998 727 2007 700 2010C673 2013 630 2015 600 2010C570 2005 543 1995 520 1980C497 1965 480 1942 460 1920C440 1898 418 1880 400 1850C382 1820 368 1782 350 1740C332 1698 310 1648 290 1600C270 1552 250 1500 230 1450C210 1400 187 1350 170 1300C153 1250 140 1200 130 1150C120 1100 110 1050 110 1000Z" fill="#2a1b12"/><g clip-path="url(#ce_left)"><path d="M440 420C440 400 517 408 560 380C603 352 643 288 700 250C757 212 833 173 900 150C967 127 1055 102 1100 110C1145 118 1165 155 1170 200C1175 245 1148 320 1130 380C1112 440 1085 497 1060 560C1035 623 1010 693 980 760C950 827 910 910 880 960C850 1010 847 1043 800 1060C753 1077 640 1078 600 1060C560 1042 560 993 560 950C560 907 593 852 600 800C607 748 607 690 600 640C593 590 587 537 560 500C533 463 440 440 440 420Z" fill="#a38d7b"/><path d="M560 500L1120 360M590 640L1070 560M600 790L1010 740M580 930L930 920M640 430L1150 250" stroke="#2e1f16" stroke-width="20" stroke-linecap="round" fill="none" opacity="0.9"/><path d="M420 800C438 740 530 658 560 700C590 742 618 990 600 1050C582 1110 480 1102 450 1060C420 1018 402 860 420 800Z" fill="#2a1b12"/><path d="M300 520C303 500 433 383 500 330C567 277 633 235 700 200C767 165 842 138 900 120C958 102 1008 93 1050 95C1092 97 1158 119 1150 130C1142 141 1058 142 1000 160C942 178 863 208 800 240C737 272 673 315 620 350C567 385 533 422 480 450C427 478 297 540 300 520Z" fill="#3d2a1e" opacity="0.9"/><path d="M480 1100C503 1083 537 1125 560 1150C583 1175 613 1208 620 1250C627 1292 617 1358 600 1400C583 1442 548 1470 520 1500C492 1530 457 1555 430 1580C403 1605 378 1650 360 1650C342 1650 322 1622 320 1580C318 1538 333 1455 350 1400C367 1345 398 1300 420 1250C442 1200 457 1117 480 1100Z" fill="#f2ede6"/><ellipse cx="750" cy="1150" rx="38" ry="55" fill="#e03b27" transform="rotate(-30 750 1150)"/><ellipse cx="830" cy="1335" rx="40" ry="55" fill="#e03b27"/><ellipse cx="830" cy="1520" rx="40" ry="55" fill="#e03b27"/><ellipse cx="790" cy="1700" rx="40" ry="50" fill="#e03b27"/><ellipse cx="400" cy="1720" rx="45" ry="45" fill="#e03b27"/><ellipse cx="560" cy="1860" rx="45" ry="28" fill="#e03b27"/><ellipse cx="700" cy="1830" rx="30" ry="30" fill="#e03b27"/><ellipse cx="500" cy="1680" rx="25" ry="22" fill="#6d8bbf"/><ellipse cx="600" cy="1650" rx="22" ry="22" fill="#6d8bbf"/></g></g><g transform="translate(588 1806) scale(0.065104)"><clipPath id="fe_right"><path d="M90 1040C90 1018 102 967 120 920C138 873 167 813 200 760C233 707 277 650 320 600C363 550 410 505 460 460C510 415 563 372 620 330C677 288 743 243 800 210C857 177 913 149 960 130C1007 111 1045 98 1080 95C1115 92 1150 96 1170 110C1190 124 1195 152 1200 180C1205 208 1205 247 1200 280C1195 313 1182 347 1170 380C1158 413 1142 447 1130 480C1118 513 1108 547 1100 580C1092 613 1090 647 1080 680C1070 713 1053 748 1040 780C1027 812 1015 840 1000 870C985 900 968 933 950 960C932 987 912 1012 890 1030C868 1048 845 1062 820 1070C795 1078 793 1082 740 1080C687 1078 573 1065 500 1060C427 1055 363 1052 300 1050C237 1048 155 1052 120 1050C85 1048 90 1062 90 1040Z"/></clipPath><clipPath id="he_right"><path d="M110 1035C65 1057 118 1132 130 1170C142 1208 163 1225 180 1260C197 1295 217 1340 230 1380C243 1420 252 1460 260 1500C268 1540 275 1580 280 1620C285 1660 282 1707 290 1740C298 1773 315 1797 330 1820C345 1843 363 1860 380 1880C397 1900 412 1923 430 1940C448 1957 468 1970 490 1980C512 1990 535 1998 560 2000C585 2002 613 1997 640 1990C667 1983 697 1968 720 1960C743 1952 767 1953 780 1940C793 1927 792 1903 800 1880C808 1857 820 1827 830 1800C840 1773 852 1743 860 1720C868 1697 873 1680 880 1660C887 1640 892 1623 900 1600C908 1577 920 1545 930 1520C940 1495 952 1473 960 1450C968 1427 980 1405 980 1380C980 1355 972 1325 960 1300C948 1275 927 1252 910 1230C893 1208 882 1190 860 1170C838 1150 807 1128 780 1110C753 1092 763 1072 700 1060C637 1048 498 1044 400 1040C302 1036 155 1013 110 1035Z"/></clipPath><path d="M110 1035C65 1057 118 1132 130 1170C142 1208 163 1225 180 1260C197 1295 217 1340 230 1380C243 1420 252 1460 260 1500C268 1540 275 1580 280 1620C285 1660 282 1707 290 1740C298 1773 315 1797 330 1820C345 1843 363 1860 380 1880C397 1900 412 1923 430 1940C448 1957 468 1970 490 1980C512 1990 535 1998 560 2000C585 2002 613 1997 640 1990C667 1983 697 1968 720 1960C743 1952 767 1953 780 1940C793 1927 792 1903 800 1880C808 1857 820 1827 830 1800C840 1773 852 1743 860 1720C868 1697 873 1680 880 1660C887 1640 892 1623 900 1600C908 1577 920 1545 930 1520C940 1495 952 1473 960 1450C968 1427 980 1405 980 1380C980 1355 972 1325 960 1300C948 1275 927 1252 910 1230C893 1208 882 1190 860 1170C838 1150 807 1128 780 1110C753 1092 763 1072 700 1060C637 1048 498 1044 400 1040C302 1036 155 1013 110 1035Z" fill="#2a1c14"/><g clip-path="url(#he_right)"><path d="M110 1080C193 1067 702 1077 800 1100C898 1123 783 1207 700 1220C617 1233 398 1203 300 1180C202 1157 27 1093 110 1080Z" fill="#3a2519"/><path d="M140 1130C157 1107 240 1148 300 1160C360 1172 447 1188 500 1200C553 1212 590 1205 620 1230C650 1255 667 1313 680 1350C693 1387 710 1425 700 1450C690 1475 653 1482 620 1500C587 1518 540 1543 500 1560C460 1577 413 1588 380 1600C347 1612 320 1647 300 1630C280 1613 277 1555 260 1500C243 1445 220 1362 200 1300C180 1238 123 1153 140 1130Z" fill="#e9e4dc"/><path d="M200 1200L330 1600M300 1200L430 1560M400 1220L520 1520M480 1240L620 1480" stroke="#9c8c80" stroke-width="6" stroke-linecap="round" fill="none" opacity="0.7"/><ellipse cx="330" cy="1700" rx="50" ry="100" fill="#dcae3a" transform="rotate(-10 330 1700)"/><ellipse cx="800" cy="1500" rx="45" ry="40" fill="#e2b33e"/><ellipse cx="780" cy="1680" rx="45" ry="45" fill="#e2b33e"/><ellipse cx="500" cy="1850" rx="50" ry="30" fill="#e2b33e"/><ellipse cx="670" cy="1830" rx="35" ry="25" fill="#e2b33e"/><ellipse cx="810" cy="1340" rx="40" ry="40" fill="#e88a3a"/><ellipse cx="750" cy="1150" rx="30" ry="40" fill="#d9532c"/><ellipse cx="440" cy="1700" rx="40" ry="60" fill="#1b2030" opacity="0.8"/></g><path d="M90 1040C90 1018 102 967 120 920C138 873 167 813 200 760C233 707 277 650 320 600C363 550 410 505 460 460C510 415 563 372 620 330C677 288 743 243 800 210C857 177 913 149 960 130C1007 111 1045 98 1080 95C1115 92 1150 96 1170 110C1190 124 1195 152 1200 180C1205 208 1205 247 1200 280C1195 313 1182 347 1170 380C1158 413 1142 447 1130 480C1118 513 1108 547 1100 580C1092 613 1090 647 1080 680C1070 713 1053 748 1040 780C1027 812 1015 840 1000 870C985 900 968 933 950 960C932 987 912 1012 890 1030C868 1048 845 1062 820 1070C795 1078 793 1082 740 1080C687 1078 573 1065 500 1060C427 1055 363 1052 300 1050C237 1048 155 1052 120 1050C85 1048 90 1062 90 1040Z" fill="#5a4434"/><g clip-path="url(#fe_right)"><g filter="url(#bl60)"><path d="M300 950C293 902 343 788 380 720C417 652 463 593 520 540C577 487 653 437 720 400C787 363 857 337 920 320C983 303 1067 278 1100 300C1133 322 1127 392 1120 450C1113 508 1083 583 1060 650C1037 717 1010 795 980 850C950 905 927 952 880 980C833 1008 777 1015 700 1020C623 1025 487 1022 420 1010C353 998 307 998 300 950Z" fill="#b4a494"/></g><path d="M300 1000L900 1000M330 900L960 880M380 800L1010 760M440 700L1050 640M520 600L1080 520M600 520L1110 400" stroke="#8a7664" stroke-width="6" stroke-linecap="round" fill="none" opacity="0.6"/></g></g>
<clipPath id="clipg"><rect x="815.7" y="69.9" width="561.5" height="401"/></clipPath>
<rect x="815.7" y="69.9" width="561.5" height="401" fill="#EBEBEB"/>
<path d="M892.7 69.9V470.9M995.7 69.9V470.9M1098.7 69.9V470.9M1201.7 69.9V470.9M1304.7 69.9V470.9M815.7 460.76H1377.2M815.7 377.84H1377.2M815.7 294.91H1377.2M815.7 211.99H1377.2M815.7 129.06H1377.2" stroke="#fafafa" stroke-width="1" fill="none"/>
<path d="M841.2 69.9V470.9M944.2 69.9V470.9M1047.2 69.9V470.9M1150.2 69.9V470.9M1253.2 69.9V470.9M1356.2 69.9V470.9M815.7 419.3H1377.2M815.7 336.38H1377.2M815.7 253.45H1377.2M815.7 170.52H1377.2M815.7 87.6H1377.2" stroke="#ffffff" stroke-width="1.5" fill="none"/>
<rect x="1037.4" y="87.6" width="110.3" height="383.3" fill="#0d0400" fill-opacity="0.365"/>
<path d="M1037.4 69.9V87.6M1074.5 69.9V87.6M1077.4 69.9V87.6M1079.5 69.9V87.6M1109.7 69.9V87.6M1146.6 69.9V87.6" stroke="#444" stroke-width="1.1" fill="none"/>
<text x="1037.4" y="64.4" font-family='"Liberation Sans", sans-serif' font-size="17" text-anchor="middle">E1</text>
<text x="1074.5" y="64.4" font-family='"Liberation Sans", sans-serif' font-size="17" text-anchor="middle">E2–4</text>
<text x="1109.7" y="64.4" font-family='"Liberation Sans", sans-serif' font-size="17" text-anchor="middle">E5</text>
<text x="1146.6" y="64.4" font-family='"Liberation Sans", sans-serif' font-size="17" text-anchor="middle">E6</text>
<path d="M841.2 428.2 L851.5 419.3 L861.8 425.5 L872.1 470 L882.4 506 L892.7 417.7 L903 420.9 L913.3 423.8 L923.6 420.6 L933.9 429.8 L944.2 435.2 L954.5 429.5 L964.8 427.9 L975.1 444.4 L985.4 412.5 L995.7 425.8 L1006 431 L1036.9 410.4 L1057.5 361.1 L1078.1 281.8 L1088.4 325.5 L1098.7 330 L1109 262.1 L1119.3 336.8 L1129.6 278.9 L1150.2 353 L1160.5 420.1 L1170.8 412.5 L1181.1 421.7 L1191.4 429.8 L1201.7 423.8 L1222.3 433.5 L1232.6 414.5 L1242.9 426.6 L1253.2 401.5 L1273.8 408 L1284.1 437.1 L1294.4 393.9 L1304.7 435.5 L1315 433.5 L1325.3 426.6 L1335.6 429.8 L1345.9 451.7 L1356.2 427.4" stroke="#111" stroke-width="1.45" fill="none" stroke-linejoin="round" stroke-linecap="round" clip-path="url(#clipg)"/>
<path d="M812.7 419.3H815.7M812.7 336.38H815.7M812.7 253.45H815.7M812.7 170.52H815.7M812.7 87.6H815.7M841.2 470.9V473.9M944.2 470.9V473.9M1047.2 470.9V473.9M1150.2 470.9V473.9M1253.2 470.9V473.9M1356.2 470.9V473.9" stroke="#333333" stroke-width="1.2" fill="none"/>
<text x="800.9" y="429.6" font-family='"Liberation Sans", sans-serif' font-size="29.5" text-anchor="end">0.00</text>
<text x="800.9" y="263.75" font-family='"Liberation Sans", sans-serif' font-size="29.5" text-anchor="end">0.50</text>
<text x="800.9" y="97.9" font-family='"Liberation Sans", sans-serif' font-size="29.5" text-anchor="end">1.00</text>
<text x="841.2" y="507.2" font-family='"Liberation Sans", sans-serif' font-size="29.5" text-anchor="middle">4.9</text>
<text x="944.2" y="507.2" font-family='"Liberation Sans", sans-serif' font-size="29.5" text-anchor="middle">5.0</text>
<text x="1047.2" y="507.2" font-family='"Liberation Sans", sans-serif' font-size="29.5" text-anchor="middle">5.1</text>
<text x="1150.2" y="507.2" font-family='"Liberation Sans", sans-serif' font-size="29.5" text-anchor="middle">5.2</text>
<text x="1253.2" y="507.2" font-family='"Liberation Sans", sans-serif' font-size="29.5" text-anchor="middle">5.3</text>
<text x="1356.2" y="507.2" font-family='"Liberation Sans", sans-serif' font-size="29.5" text-anchor="middle">5.4</text>
<text x="1096.45" y="548.5" font-family='"Liberation Sans", sans-serif' font-size="29.5" text-anchor="middle">Scaffold position (Mb)</text>
<text x="821.9" y="30.7" font-family='"Liberation Sans", sans-serif' font-size="29.5"><tspan font-style="italic">P. rumanzovia</tspan> (simple/white)</text>
<g transform="translate(1210 84) scale(0.065104)"><clipPath id="fg_left"><path d="M65 975C69 953 84 916 100 880C116 844 135 803 160 760C185 717 217 665 250 620C283 575 322 530 360 490C398 450 437 417 480 380C523 343 573 303 620 270C667 237 713 207 760 180C807 153 857 128 900 110C943 92 982 79 1020 70C1058 61 1098 56 1130 55C1162 54 1188 58 1210 65C1232 72 1252 84 1265 100C1278 116 1284 137 1285 160C1286 183 1279 212 1270 240C1261 268 1245 300 1230 330C1215 360 1197 390 1180 420C1163 450 1147 480 1130 510C1113 540 1098 568 1080 600C1062 632 1040 667 1020 700C1000 733 980 767 960 800C940 833 917 870 900 900C883 930 873 957 860 980C847 1003 835 1025 820 1040C805 1055 790 1064 770 1070C750 1076 738 1077 700 1078C662 1079 593 1078 540 1078C487 1078 428 1080 380 1078C332 1076 293 1070 250 1065C207 1060 149 1054 120 1045C91 1036 84 1022 75 1010C66 998 61 997 65 975Z"/></clipPath><clipPath id="hg_left"><path d="M80 1010C72 1029 92 1090 100 1120C108 1150 118 1163 130 1190C142 1217 158 1245 170 1280C182 1315 192 1370 200 1400C208 1430 207 1447 215 1460C223 1473 242 1457 250 1480C258 1503 255 1563 260 1600C265 1637 270 1670 280 1700C290 1730 303 1752 320 1780C337 1808 358 1840 380 1870C402 1900 430 1937 450 1960C470 1983 482 2000 500 2010C518 2020 543 2023 560 2020C577 2017 585 1992 600 1990C615 1988 630 2010 650 2010C670 2010 698 1998 720 1990C742 1982 762 1967 780 1960C798 1953 818 1960 830 1950C842 1940 842 1917 850 1900C858 1883 872 1868 880 1850C888 1832 898 1807 900 1790C902 1773 888 1765 890 1750C892 1735 905 1718 910 1700C915 1682 915 1657 920 1640C925 1623 936 1618 940 1600C944 1582 947 1550 945 1530C943 1510 931 1498 930 1480C929 1462 942 1437 940 1420C938 1403 933 1400 920 1380C907 1360 880 1325 860 1300C840 1275 823 1252 800 1230C777 1208 747 1190 720 1170C693 1150 667 1132 640 1110C613 1088 592 1057 560 1040C528 1023 493 1016 450 1010C407 1004 350 1006 300 1005C250 1004 187 1004 150 1005C113 1006 88 991 80 1010Z"/></clipPath><path d="M80 1010C72 1029 92 1090 100 1120C108 1150 118 1163 130 1190C142 1217 158 1245 170 1280C182 1315 192 1370 200 1400C208 1430 207 1447 215 1460C223 1473 242 1457 250 1480C258 1503 255 1563 260 1600C265 1637 270 1670 280 1700C290 1730 303 1752 320 1780C337 1808 358 1840 380 1870C402 1900 430 1937 450 1960C470 1983 482 2000 500 2010C518 2020 543 2023 560 2020C577 2017 585 1992 600 1990C615 1988 630 2010 650 2010C670 2010 698 1998 720 1990C742 1982 762 1967 780 1960C798 1953 818 1960 830 1950C842 1940 842 1917 850 1900C858 1883 872 1868 880 1850C888 1832 898 1807 900 1790C902 1773 888 1765 890 1750C892 1735 905 1718 910 1700C915 1682 915 1657 920 1640C925 1623 936 1618 940 1600C944 1582 947 1550 945 1530C943 1510 931 1498 930 1480C929 1462 942 1437 940 1420C938 1403 933 1400 920 1380C907 1360 880 1325 860 1300C840 1275 823 1252 800 1230C777 1208 747 1190 720 1170C693 1150 667 1132 640 1110C613 1088 592 1057 560 1040C528 1023 493 1016 450 1010C407 1004 350 1006 300 1005C250 1004 187 1004 150 1005C113 1006 88 991 80 1010Z" fill="#0b0909"/><g clip-path="url(#hg_left)"><path d="M550 1160C600 1140 738 1232 800 1280C862 1328 903 1380 920 1450C937 1520 920 1625 900 1700C880 1775 842 1858 800 1900C758 1942 690 1983 650 1950C610 1917 585 1792 560 1700C535 1608 502 1490 500 1400C498 1310 500 1180 550 1160Z" fill="#1d2a35" opacity="0.55"/><path d="M420 1300L800 1900M470 1260L880 1700M520 1230L900 1500" stroke="#0b0909" stroke-width="14" stroke-linecap="round" fill="none" opacity="0.7"/><path d="M120 1080C138 1068 228 1062 260 1090C292 1118 290 1198 310 1250C330 1302 362 1348 380 1400C398 1452 410 1510 420 1560C430 1610 432 1652 440 1700C448 1748 453 1807 470 1850C487 1893 518 1936 540 1960C562 1984 602 1987 600 1995C598 2003 553 2013 530 2010C507 2007 482 1997 460 1975C438 1953 422 1909 400 1880C378 1851 348 1830 330 1800C312 1770 292 1733 290 1700C288 1667 313 1637 320 1600C327 1563 333 1517 330 1480C327 1443 317 1418 300 1380C283 1342 255 1287 230 1250C205 1213 168 1188 150 1160C132 1132 102 1092 120 1080Z" fill="#c9392a"/><ellipse cx="335" cy="1765" rx="62" ry="75" fill="#c9392a"/><ellipse cx="335" cy="1770" rx="34" ry="40" fill="#0b0909"/><ellipse cx="520" cy="1990" rx="45" ry="25" fill="#c9392a"/></g><path d="M65 975C69 953 84 916 100 880C116 844 135 803 160 760C185 717 217 665 250 620C283 575 322 530 360 490C398 450 437 417 480 380C523 343 573 303 620 270C667 237 713 207 760 180C807 153 857 128 900 110C943 92 982 79 1020 70C1058 61 1098 56 1130 55C1162 54 1188 58 1210 65C1232 72 1252 84 1265 100C1278 116 1284 137 1285 160C1286 183 1279 212 1270 240C1261 268 1245 300 1230 330C1215 360 1197 390 1180 420C1163 450 1147 480 1130 510C1113 540 1098 568 1080 600C1062 632 1040 667 1020 700C1000 733 980 767 960 800C940 833 917 870 900 900C883 930 873 957 860 980C847 1003 835 1025 820 1040C805 1055 790 1064 770 1070C750 1076 738 1077 700 1078C662 1079 593 1078 540 1078C487 1078 428 1080 380 1078C332 1076 293 1070 250 1065C207 1060 149 1054 120 1045C91 1036 84 1022 75 1010C66 998 61 997 65 975Z" fill="#0b0909"/><g clip-path="url(#fg_left)"><path d="M70 960C73 918 113 837 140 800C167 763 205 732 230 740C255 748 273 807 290 850C307 893 317 963 330 1000C343 1037 383 1058 370 1070C357 1082 292 1078 250 1075C208 1072 150 1069 120 1050C90 1031 67 1002 70 960Z" fill="#c9392a"/><path d="M120 1010C127 987 207 915 240 920C273 925 327 1017 320 1040C313 1063 233 1065 200 1060C167 1055 113 1033 120 1010Z" fill="#dd9a86" opacity="0.6"/></g></g><g transform="translate(1274 84) scale(0.065104)"><clipPath id="fg_right"><path d="M70 1000C75 970 98 920 120 880C142 840 170 800 200 760C230 720 263 680 300 640C337 600 377 560 420 520C463 480 510 438 560 400C610 362 667 323 720 290C773 257 830 227 880 200C930 173 975 148 1020 130C1065 112 1113 98 1150 95C1187 92 1218 98 1240 110C1262 122 1277 148 1285 170C1293 192 1294 213 1290 240C1286 267 1275 298 1260 330C1245 362 1222 395 1200 430C1178 465 1150 508 1130 540C1110 572 1095 590 1080 620C1065 650 1053 687 1040 720C1027 753 1013 787 1000 820C987 853 977 890 960 920C943 950 922 977 900 1000C878 1023 853 1045 830 1060C807 1075 782 1083 760 1090C738 1097 760 1099 700 1100C640 1101 492 1098 400 1095C308 1092 202 1086 150 1080C98 1074 103 1073 90 1060C77 1047 65 1030 70 1000Z"/></clipPath><clipPath id="hg_right"><path d="M90 1040C75 1059 100 1123 110 1160C120 1197 135 1223 150 1260C165 1297 187 1343 200 1380C213 1417 222 1443 230 1480C238 1517 242 1560 250 1600C258 1640 270 1683 280 1720C290 1757 298 1790 310 1820C322 1850 335 1873 350 1900C365 1927 382 1960 400 1980C418 2000 437 2013 460 2020C483 2027 513 2025 540 2020C567 2015 593 2000 620 1990C647 1980 677 1968 700 1960C723 1952 745 1950 760 1940C775 1930 785 1918 790 1900C795 1882 785 1852 790 1830C795 1808 810 1792 820 1770C830 1748 842 1722 850 1700C858 1678 868 1660 870 1640C872 1620 857 1600 860 1580C863 1560 887 1542 890 1520C893 1498 880 1473 880 1450C880 1427 895 1405 890 1380C885 1355 865 1325 850 1300C835 1275 815 1252 800 1230C785 1208 777 1193 760 1170C743 1147 727 1110 700 1090C673 1070 650 1057 600 1050C550 1043 467 1051 400 1050C333 1049 252 1047 200 1045C148 1043 105 1021 90 1040Z"/></clipPath><path d="M90 1040C75 1059 100 1123 110 1160C120 1197 135 1223 150 1260C165 1297 187 1343 200 1380C213 1417 222 1443 230 1480C238 1517 242 1560 250 1600C258 1640 270 1683 280 1720C290 1757 298 1790 310 1820C322 1850 335 1873 350 1900C365 1927 382 1960 400 1980C418 2000 437 2013 460 2020C483 2027 513 2025 540 2020C567 2015 593 2000 620 1990C647 1980 677 1968 700 1960C723 1952 745 1950 760 1940C775 1930 785 1918 790 1900C795 1882 785 1852 790 1830C795 1808 810 1792 820 1770C830 1748 842 1722 850 1700C858 1678 868 1660 870 1640C872 1620 857 1600 860 1580C863 1560 887 1542 890 1520C893 1498 880 1473 880 1450C880 1427 895 1405 890 1380C885 1355 865 1325 850 1300C835 1275 815 1252 800 1230C785 1208 777 1193 760 1170C743 1147 727 1110 700 1090C673 1070 650 1057 600 1050C550 1043 467 1051 400 1050C333 1049 252 1047 200 1045C148 1043 105 1021 90 1040Z" fill="#0b0909"/><g clip-path="url(#hg_right)"><path d="M520 1140C563 1142 717 1193 760 1220C803 1247 803 1288 780 1300C757 1312 667 1305 620 1290C573 1275 517 1235 500 1210C483 1185 477 1138 520 1140Z" fill="#1c3252" opacity="0.6"/><path d="M220 1250C232 1225 292 1283 330 1300C368 1317 412 1322 450 1350C488 1378 535 1435 560 1470C585 1505 610 1530 600 1560C590 1590 533 1637 500 1650C467 1663 428 1648 400 1640C372 1632 353 1632 330 1600C307 1568 278 1508 260 1450C242 1392 208 1275 220 1250Z" fill="#f3f0ea"/><path d="M240 1270L420 1620M280 1270L480 1600M330 1300L540 1560" stroke="#6b5a55" stroke-width="6" stroke-linecap="round" fill="none" opacity="0.8"/><path d="M270 1540C285 1523 348 1557 370 1600C392 1643 398 1748 400 1800C402 1852 393 1900 380 1910C367 1920 337 1895 320 1860C303 1825 288 1753 280 1700C272 1647 255 1557 270 1540Z" fill="#c9392a"/><ellipse cx="500" cy="1950" rx="75" ry="55" fill="#c9392a"/><ellipse cx="650" cy="1900" rx="45" ry="50" fill="#c9392a"/><ellipse cx="755" cy="1770" rx="30" ry="30" fill="#c9392a"/></g><path d="M70 1000C75 970 98 920 120 880C142 840 170 800 200 760C230 720 263 680 300 640C337 600 377 560 420 520C463 480 510 438 560 400C610 362 667 323 720 290C773 257 830 227 880 200C930 173 975 148 1020 130C1065 112 1113 98 1150 95C1187 92 1218 98 1240 110C1262 122 1277 148 1285 170C1293 192 1294 213 1290 240C1286 267 1275 298 1260 330C1245 362 1222 395 1200 430C1178 465 1150 508 1130 540C1110 572 1095 590 1080 620C1065 650 1053 687 1040 720C1027 753 1013 787 1000 820C987 853 977 890 960 920C943 950 922 977 900 1000C878 1023 853 1045 830 1060C807 1075 782 1083 760 1090C738 1097 760 1099 700 1100C640 1101 492 1098 400 1095C308 1092 202 1086 150 1080C98 1074 103 1073 90 1060C77 1047 65 1030 70 1000Z" fill="#0b0909"/><g clip-path="url(#fg_right)"><path d="M429 932L850 935L850 925L431 888A22 22 0 0 1 429 932ZM449 872L880 867L880 857L451 828A22 22 0 0 1 449 872ZM480 814L900 805L900 795L480 770A22 22 0 0 1 480 814ZM540 747L920 737L920 727L540 703A22 22 0 0 1 540 747ZM590 686L950 673L950 663L590 642A22 22 0 0 1 590 686ZM630 626L970 603L970 593L630 582A22 22 0 0 1 630 626ZM671 566L1000 541L1000 531L669 522A22 22 0 0 1 671 566ZM701 506L1030 471L1030 461L699 462A22 22 0 0 1 701 506ZM732 446L1060 403L1060 393L728 402A22 22 0 0 1 732 446ZM772 388L1080 341L1080 331L768 344A22 22 0 0 1 772 388ZM812 336L1101 287L1099 277L808 292A22 22 0 0 1 812 336Z" fill="#e8e2d8" opacity="0.92"/><path d="M326 714L642 564L638 556L314 686A15 15 0 0 1 326 714ZM356 774L602 654L598 646L344 746A15 15 0 0 1 356 774ZM346 654L641 524L639 516L334 626A15 15 0 0 1 346 654Z" fill="#d2cbc3" opacity="0.8"/><path d="M80 990C85 961 113 905 130 900C147 895 165 930 180 960C195 990 233 1061 220 1080C207 1099 123 1090 100 1075C77 1060 75 1019 80 990Z" fill="#c9392a"/></g></g>
<clipPath id="clipi"><rect x="815.7" y="927.9" width="561.5" height="401.6"/></clipPath>
<rect x="815.7" y="927.9" width="561.5" height="401.6" fill="#EBEBEB"/>
<path d="M892.7 927.9V1329.5M995.7 927.9V1329.5M1098.7 927.9V1329.5M1201.7 927.9V1329.5M1304.7 927.9V1329.5M815.7 1319.54H1377.2M815.7 1236.46H1377.2M815.7 1153.39H1377.2M815.7 1070.31H1377.2M815.7 987.24H1377.2" stroke="#fafafa" stroke-width="1" fill="none"/>
<path d="M841.2 927.9V1329.5M944.2 927.9V1329.5M1047.2 927.9V1329.5M1150.2 927.9V1329.5M1253.2 927.9V1329.5M1356.2 927.9V1329.5M815.7 1278H1377.2M815.7 1194.92H1377.2M815.7 1111.85H1377.2M815.7 1028.78H1377.2M815.7 945.7H1377.2" stroke="#ffffff" stroke-width="1.5" fill="none"/>
<rect x="1037.4" y="945.7" width="110.3" height="383.8" fill="#0d0400" fill-opacity="0.365"/>
<path d="M1037.4 927.9V945.7M1074.5 927.9V945.7M1077.4 927.9V945.7M1079.5 927.9V945.7M1109.7 927.9V945.7M1146.6 927.9V945.7" stroke="#444" stroke-width="1.1" fill="none"/>
<text x="1037.4" y="922.4" font-family='"Liberation Sans", sans-serif' font-size="17" text-anchor="middle">E1</text>
<text x="1074.5" y="922.4" font-family='"Liberation Sans", sans-serif' font-size="17" text-anchor="middle">E2–4</text>
<text x="1109.7" y="922.4" font-family='"Liberation Sans", sans-serif' font-size="17" text-anchor="middle">E5</text>
<text x="1146.6" y="922.4" font-family='"Liberation Sans", sans-serif' font-size="17" text-anchor="middle">E6</text>
<path d="M841.2 1265.6 L851.5 1300 L861.8 1285.5 L872.1 1277.4 L882.4 1254.2 L913.3 1293.5 L923.6 1289 L933.9 1264.8 L944.2 1258 L954.5 1282.9 L964.8 1275.3 L975.1 1294.7 L985.4 1265.6 L995.7 1270 L1006 1265.6 L1036.9 1314.1 L1047.2 1190.3 L1057.5 1209.7 L1078.1 1153.9 L1088.4 1171.7 L1098.7 1208.1 L1109 1126.4 L1119.3 1229.2 L1129.6 1135.3 L1150.2 1268 L1160.5 1264.8 L1170.8 1246.1 L1191.4 1273.7 L1201.7 1260.7 L1212 1259.1 L1222.3 1269.6 L1232.6 1265.6 L1242.9 1311.7 L1253.2 1273.7 L1273.8 1245 L1284.1 1262.3 L1294.4 1252.6 L1304.7 1358.6 L1315 1251.8 L1335.6 1282.5 L1345.9 1287.4 L1356.2 1260.7" stroke="#111" stroke-width="1.45" fill="none" stroke-linejoin="round" stroke-linecap="round" clip-path="url(#clipi)"/>
<path d="M812.7 1278H815.7M812.7 1194.92H815.7M812.7 1111.85H815.7M812.7 1028.78H815.7M812.7 945.7H815.7M841.2 1329.5V1332.5M944.2 1329.5V1332.5M1047.2 1329.5V1332.5M1150.2 1329.5V1332.5M1253.2 1329.5V1332.5M1356.2 1329.5V1332.5" stroke="#333333" stroke-width="1.2" fill="none"/>
<text x="800.9" y="1288.3" font-family='"Liberation Sans", sans-serif' font-size="29.5" text-anchor="end">0.00</text>
<text x="800.9" y="1122.15" font-family='"Liberation Sans", sans-serif' font-size="29.5" text-anchor="end">0.50</text>
<text x="800.9" y="956" font-family='"Liberation Sans", sans-serif' font-size="29.5" text-anchor="end">1.00</text>
<text x="841.2" y="1365.8" font-family='"Liberation Sans", sans-serif' font-size="29.5" text-anchor="middle">4.9</text>
<text x="944.2" y="1365.8" font-family='"Liberation Sans", sans-serif' font-size="29.5" text-anchor="middle">5.0</text>
<text x="1047.2" y="1365.8" font-family='"Liberation Sans", sans-serif' font-size="29.5" text-anchor="middle">5.1</text>
<text x="1150.2" y="1365.8" font-family='"Liberation Sans", sans-serif' font-size="29.5" text-anchor="middle">5.2</text>
<text x="1253.2" y="1365.8" font-family='"Liberation Sans", sans-serif' font-size="29.5" text-anchor="middle">5.3</text>
<text x="1356.2" y="1365.8" font-family='"Liberation Sans", sans-serif' font-size="29.5" text-anchor="middle">5.4</text>
<text x="1096.45" y="1407.1" font-family='"Liberation Sans", sans-serif' font-size="29.5" text-anchor="middle">Scaffold position (Mb)</text>
<text x="821.9" y="891.8" font-family='"Liberation Sans", sans-serif' font-size="29.5"><tspan font-style="italic">P. rumanzovia</tspan> (blended/white)</text>
<g transform="translate(1208 940) scale(0.065104)"><clipPath id="fi_left"><path d="M80 970C80 936 100 915 120 880C140 845 167 803 200 760C233 717 277 665 320 620C363 575 410 532 460 490C510 448 567 408 620 370C673 332 727 293 780 260C833 227 890 194 940 170C990 146 1037 127 1080 115C1123 103 1165 99 1200 100C1235 101 1266 108 1290 120C1314 132 1335 150 1345 170C1355 190 1356 213 1350 240C1344 267 1327 300 1310 330C1293 360 1272 388 1250 420C1228 452 1203 488 1180 520C1157 552 1130 580 1110 610C1090 640 1075 668 1060 700C1045 732 1035 767 1020 800C1005 833 988 868 970 900C952 932 930 963 910 990C890 1017 872 1042 850 1060C828 1078 805 1092 780 1100C755 1108 747 1108 700 1110C653 1112 567 1112 500 1110C433 1108 363 1104 300 1100C237 1096 157 1107 120 1085C83 1063 80 1004 80 970Z"/></clipPath><clipPath id="hi_left"><path d="M100 1060C85 1083 102 1160 110 1200C118 1240 135 1267 150 1300C165 1333 183 1367 200 1400C217 1433 235 1467 250 1500C265 1533 277 1567 290 1600C303 1633 318 1667 330 1700C342 1733 348 1770 360 1800C372 1830 383 1855 400 1880C417 1905 440 1930 460 1950C480 1970 503 1993 520 2000C537 2007 540 1997 560 1990C580 1983 613 1968 640 1960C667 1952 693 1947 720 1940C747 1933 782 1928 800 1920C818 1912 827 1907 830 1890C833 1873 815 1842 820 1820C825 1798 848 1783 860 1760C872 1737 888 1703 890 1680C892 1657 868 1640 870 1620C872 1600 898 1580 900 1560C902 1540 885 1523 880 1500C875 1477 870 1443 870 1420C870 1397 888 1380 880 1360C872 1340 835 1317 820 1300C805 1283 807 1277 790 1260C773 1243 745 1218 720 1200C695 1182 670 1170 640 1150C610 1130 580 1095 540 1080C500 1065 457 1063 400 1060C343 1057 250 1060 200 1060C150 1060 115 1037 100 1060Z"/></clipPath><path d="M100 1060C85 1083 102 1160 110 1200C118 1240 135 1267 150 1300C165 1333 183 1367 200 1400C217 1433 235 1467 250 1500C265 1533 277 1567 290 1600C303 1633 318 1667 330 1700C342 1733 348 1770 360 1800C372 1830 383 1855 400 1880C417 1905 440 1930 460 1950C480 1970 503 1993 520 2000C537 2007 540 1997 560 1990C580 1983 613 1968 640 1960C667 1952 693 1947 720 1940C747 1933 782 1928 800 1920C818 1912 827 1907 830 1890C833 1873 815 1842 820 1820C825 1798 848 1783 860 1760C872 1737 888 1703 890 1680C892 1657 868 1640 870 1620C872 1600 898 1580 900 1560C902 1540 885 1523 880 1500C875 1477 870 1443 870 1420C870 1397 888 1380 880 1360C872 1340 835 1317 820 1300C805 1283 807 1277 790 1260C773 1243 745 1218 720 1200C695 1182 670 1170 640 1150C610 1130 580 1095 540 1080C500 1065 457 1063 400 1060C343 1057 250 1060 200 1060C150 1060 115 1037 100 1060Z" fill="#0b0909"/><g clip-path="url(#hi_left)"><path d="M150 1150C162 1137 220 1132 250 1170C280 1208 328 1345 330 1380C332 1415 285 1402 260 1380C235 1358 198 1288 180 1250C162 1212 138 1163 150 1150Z" fill="#cf3b2a"/><path d="M300 1380C308 1363 350 1377 380 1400C410 1423 450 1478 480 1520C510 1562 537 1610 560 1650C583 1690 623 1735 620 1760C617 1785 565 1802 540 1800C515 1798 493 1775 470 1750C447 1725 423 1692 400 1650C377 1608 347 1545 330 1500C313 1455 292 1397 300 1380Z" fill="#e8999a"/><path d="M330 1700C342 1683 392 1687 420 1700C448 1713 463 1770 500 1780C537 1790 607 1760 640 1760C673 1760 673 1773 700 1780C727 1787 787 1783 800 1800C813 1817 797 1858 780 1880C763 1902 737 1913 700 1930C663 1947 598 1975 560 1980C522 1985 497 1977 470 1960C443 1943 420 1907 400 1880C380 1853 362 1830 350 1800C338 1770 318 1717 330 1700Z" fill="#d33d2c"/><ellipse cx="400" cy="1790" rx="40" ry="45" fill="#0b0909"/><ellipse cx="540" cy="1860" rx="55" ry="55" fill="#0b0909"/><ellipse cx="680" cy="1840" rx="50" ry="50" fill="#0b0909"/><ellipse cx="820" cy="1470" rx="18" ry="30" fill="#d33d2c"/><ellipse cx="830" cy="1640" rx="15" ry="25" fill="#d33d2c"/><ellipse cx="720" cy="1690" rx="20" ry="20" fill="#d33d2c"/></g><path d="M80 970C80 936 100 915 120 880C140 845 167 803 200 760C233 717 277 665 320 620C363 575 410 532 460 490C510 448 567 408 620 370C673 332 727 293 780 260C833 227 890 194 940 170C990 146 1037 127 1080 115C1123 103 1165 99 1200 100C1235 101 1266 108 1290 120C1314 132 1335 150 1345 170C1355 190 1356 213 1350 240C1344 267 1327 300 1310 330C1293 360 1272 388 1250 420C1228 452 1203 488 1180 520C1157 552 1130 580 1110 610C1090 640 1075 668 1060 700C1045 732 1035 767 1020 800C1005 833 988 868 970 900C952 932 930 963 910 990C890 1017 872 1042 850 1060C828 1078 805 1092 780 1100C755 1108 747 1108 700 1110C653 1112 567 1112 500 1110C433 1108 363 1104 300 1100C237 1096 157 1107 120 1085C83 1063 80 1004 80 970Z" fill="#0b0909"/><g clip-path="url(#fi_left)"><path d="M90 970C102 927 153 815 180 800C207 785 230 855 250 880C270 905 287 928 300 950C313 972 313 988 330 1010C347 1032 422 1067 400 1080C378 1093 248 1093 200 1090C152 1087 128 1080 110 1060C92 1040 78 1013 90 970Z" fill="#cf3b2a"/><path d="M130 1040C140 1018 218 952 260 960C302 968 390 1068 380 1090C370 1112 242 1103 200 1095C158 1087 120 1062 130 1040Z" fill="#e8b0a0" opacity="0.8"/></g></g><g transform="translate(1284.20 946.20) scale(0.064180 0.066753) translate(-70 -95)"><clipPath id="fi_right"><path d="M70 1000C75 970 98 920 120 880C142 840 170 800 200 760C230 720 263 680 300 640C337 600 377 560 420 520C463 480 510 438 560 400C610 362 667 323 720 290C773 257 830 227 880 200C930 173 975 148 1020 130C1065 112 1113 98 1150 95C1187 92 1218 98 1240 110C1262 122 1277 148 1285 170C1293 192 1294 213 1290 240C1286 267 1275 298 1260 330C1245 362 1222 395 1200 430C1178 465 1150 508 1130 540C1110 572 1095 590 1080 620C1065 650 1053 687 1040 720C1027 753 1013 787 1000 820C987 853 977 890 960 920C943 950 922 977 900 1000C878 1023 853 1045 830 1060C807 1075 782 1083 760 1090C738 1097 760 1099 700 1100C640 1101 492 1098 400 1095C308 1092 202 1086 150 1080C98 1074 103 1073 90 1060C77 1047 65 1030 70 1000Z"/></clipPath><clipPath id="hi_right"><path d="M90 1040C75 1059 100 1123 110 1160C120 1197 135 1223 150 1260C165 1297 187 1343 200 1380C213 1417 222 1443 230 1480C238 1517 242 1560 250 1600C258 1640 270 1683 280 1720C290 1757 298 1790 310 1820C322 1850 335 1873 350 1900C365 1927 382 1960 400 1980C418 2000 437 2013 460 2020C483 2027 513 2025 540 2020C567 2015 593 2000 620 1990C647 1980 677 1968 700 1960C723 1952 745 1950 760 1940C775 1930 785 1918 790 1900C795 1882 785 1852 790 1830C795 1808 810 1792 820 1770C830 1748 842 1722 850 1700C858 1678 868 1660 870 1640C872 1620 857 1600 860 1580C863 1560 887 1542 890 1520C893 1498 880 1473 880 1450C880 1427 895 1405 890 1380C885 1355 865 1325 850 1300C835 1275 815 1252 800 1230C785 1208 777 1193 760 1170C743 1147 727 1110 700 1090C673 1070 650 1057 600 1050C550 1043 467 1051 400 1050C333 1049 252 1047 200 1045C148 1043 105 1021 90 1040Z"/></clipPath><path d="M90 1040C75 1059 100 1123 110 1160C120 1197 135 1223 150 1260C165 1297 187 1343 200 1380C213 1417 222 1443 230 1480C238 1517 242 1560 250 1600C258 1640 270 1683 280 1720C290 1757 298 1790 310 1820C322 1850 335 1873 350 1900C365 1927 382 1960 400 1980C418 2000 437 2013 460 2020C483 2027 513 2025 540 2020C567 2015 593 2000 620 1990C647 1980 677 1968 700 1960C723 1952 745 1950 760 1940C775 1930 785 1918 790 1900C795 1882 785 1852 790 1830C795 1808 810 1792 820 1770C830 1748 842 1722 850 1700C858 1678 868 1660 870 1640C872 1620 857 1600 860 1580C863 1560 887 1542 890 1520C893 1498 880 1473 880 1450C880 1427 895 1405 890 1380C885 1355 865 1325 850 1300C835 1275 815 1252 800 1230C785 1208 777 1193 760 1170C743 1147 727 1110 700 1090C673 1070 650 1057 600 1050C550 1043 467 1051 400 1050C333 1049 252 1047 200 1045C148 1043 105 1021 90 1040Z" fill="#0b0909"/><g clip-path="url(#hi_right)"><path d="M520 1140C563 1142 717 1193 760 1220C803 1247 803 1288 780 1300C757 1312 667 1305 620 1290C573 1275 517 1235 500 1210C483 1185 477 1138 520 1140Z" fill="#1c3252" opacity="0.6"/><path d="M220 1250C232 1225 292 1283 330 1300C368 1317 412 1322 450 1350C488 1378 535 1435 560 1470C585 1505 610 1530 600 1560C590 1590 533 1637 500 1650C467 1663 428 1648 400 1640C372 1632 353 1632 330 1600C307 1568 278 1508 260 1450C242 1392 208 1275 220 1250Z" fill="#f3f0ea"/><path d="M240 1270L420 1620M280 1270L480 1600M330 1300L540 1560" stroke="#6b5a55" stroke-width="6" stroke-linecap="round" fill="none" opacity="0.8"/><path d="M270 1540C285 1523 348 1557 370 1600C392 1643 398 1748 400 1800C402 1852 393 1900 380 1910C367 1920 337 1895 320 1860C303 1825 288 1753 280 1700C272 1647 255 1557 270 1540Z" fill="#c9392a"/><ellipse cx="500" cy="1950" rx="75" ry="55" fill="#c9392a"/><ellipse cx="650" cy="1900" rx="45" ry="50" fill="#c9392a"/><ellipse cx="755" cy="1770" rx="30" ry="30" fill="#c9392a"/></g><path d="M70 1000C75 970 98 920 120 880C142 840 170 800 200 760C230 720 263 680 300 640C337 600 377 560 420 520C463 480 510 438 560 400C610 362 667 323 720 290C773 257 830 227 880 200C930 173 975 148 1020 130C1065 112 1113 98 1150 95C1187 92 1218 98 1240 110C1262 122 1277 148 1285 170C1293 192 1294 213 1290 240C1286 267 1275 298 1260 330C1245 362 1222 395 1200 430C1178 465 1150 508 1130 540C1110 572 1095 590 1080 620C1065 650 1053 687 1040 720C1027 753 1013 787 1000 820C987 853 977 890 960 920C943 950 922 977 900 1000C878 1023 853 1045 830 1060C807 1075 782 1083 760 1090C738 1097 760 1099 700 1100C640 1101 492 1098 400 1095C308 1092 202 1086 150 1080C98 1074 103 1073 90 1060C77 1047 65 1030 70 1000Z" fill="#0b0909"/><g clip-path="url(#fi_right)"><path d="M429 932L850 935L850 925L431 888A22 22 0 0 1 429 932ZM449 872L880 867L880 857L451 828A22 22 0 0 1 449 872ZM480 814L900 805L900 795L480 770A22 22 0 0 1 480 814ZM540 747L920 737L920 727L540 703A22 22 0 0 1 540 747ZM590 686L950 673L950 663L590 642A22 22 0 0 1 590 686ZM630 626L970 603L970 593L630 582A22 22 0 0 1 630 626ZM671 566L1000 541L1000 531L669 522A22 22 0 0 1 671 566ZM701 506L1030 471L1030 461L699 462A22 22 0 0 1 701 506ZM732 446L1060 403L1060 393L728 402A22 22 0 0 1 732 446ZM772 388L1080 341L1080 331L768 344A22 22 0 0 1 772 388ZM812 336L1101 287L1099 277L808 292A22 22 0 0 1 812 336Z" fill="#e8e2d8" opacity="0.92"/><path d="M326 714L642 564L638 556L314 686A15 15 0 0 1 326 714ZM356 774L602 654L598 646L344 746A15 15 0 0 1 356 774ZM346 654L641 524L639 516L334 626A15 15 0 0 1 346 654Z" fill="#d2cbc3" opacity="0.8"/><path d="M80 990C85 961 113 905 130 900C147 895 165 930 180 960C195 990 233 1061 220 1080C207 1099 123 1090 100 1075C77 1060 75 1019 80 990Z" fill="#c9392a"/></g></g>
<clipPath id="clipk"><rect x="814" y="1791.6" width="563.1" height="400.9"/></clipPath>
<rect x="814" y="1791.6" width="563.1" height="400.9" fill="#EBEBEB"/>
<path d="M890.45 1791.6V2192.5M993.15 1791.6V2192.5M1095.85 1791.6V2192.5M1198.55 1791.6V2192.5M1301.25 1791.6V2192.5M814 2182.72H1377.1M814 2099.67H1377.1M814 2016.62H1377.1M814 1933.57H1377.1M814 1850.53H1377.1" stroke="#fafafa" stroke-width="1" fill="none"/>
<path d="M839.1 1791.6V2192.5M941.8 1791.6V2192.5M1044.5 1791.6V2192.5M1147.2 1791.6V2192.5M1249.9 1791.6V2192.5M1352.6 1791.6V2192.5M814 2141.2H1377.1M814 2058.15H1377.1M814 1975.1H1377.1M814 1892.05H1377.1M814 1809H1377.1" stroke="#ffffff" stroke-width="1.5" fill="none"/>
<rect x="1035" y="1809" width="109.8" height="383.5" fill="#0d0400" fill-opacity="0.365"/>
<path d="M1035.3 1791.6V1809M1072.2 1791.6V1809M1075.4 1791.6V1809M1077.4 1791.6V1809M1107 1791.6V1809M1143.7 1791.6V1809" stroke="#444" stroke-width="1.1" fill="none"/>
<text x="1035.3" y="1786.1" font-family='"Liberation Sans", sans-serif' font-size="17" text-anchor="middle">E1</text>
<text x="1072.2" y="1786.1" font-family='"Liberation Sans", sans-serif' font-size="17" text-anchor="middle">E2–4</text>
<text x="1107" y="1786.1" font-family='"Liberation Sans", sans-serif' font-size="17" text-anchor="middle">E5</text>
<text x="1143.7" y="1786.1" font-family='"Liberation Sans", sans-serif' font-size="17" text-anchor="middle">E6</text>
<path d="M839.1 2139.9 L849.37 2136.7 L859.64 2183.6 L869.91 2109.1 L880.18 2160.1 L890.45 2130.2 L910.99 2145.9 L921.26 2118.9 L931.53 2143.4 L941.8 2145.6 L952.07 2154.5 L962.34 2123.7 L972.61 2154.5 L993.15 2126.1 L1003.42 2148 L1034.23 2155.3 L1044.5 2141.5 L1054.77 2179.5 L1075.31 2063.8 L1085.58 2161.7 L1095.85 2216.4 L1106.12 2193 L1116.39 2173.9 L1147.2 2160.1 L1157.47 2148.5 L1167.74 2118.9 L1178.01 2114.8 L1188.28 2171.4 L1198.55 2111.6 L1208.82 2133.4 L1219.09 2149.6 L1229.36 2141.5 L1239.63 2177.9 L1249.9 2124.5 L1270.44 2140.4 L1280.71 2142.3 L1290.98 2134.2 L1301.25 2172.2 L1311.52 2134.2 L1321.79 2132.6 L1332.06 2127.4 L1342.33 2149.6 L1352.6 2143.9" stroke="#111" stroke-width="1.45" fill="none" stroke-linejoin="round" stroke-linecap="round" clip-path="url(#clipk)"/>
<path d="M811 2141.2H814M811 2058.15H814M811 1975.1H814M811 1892.05H814M811 1809H814M839.1 2192.5V2195.5M941.8 2192.5V2195.5M1044.5 2192.5V2195.5M1147.2 2192.5V2195.5M1249.9 2192.5V2195.5M1352.6 2192.5V2195.5" stroke="#333333" stroke-width="1.2" fill="none"/>
<text x="799.2" y="2151.5" font-family='"Liberation Sans", sans-serif' font-size="29.5" text-anchor="end">0.00</text>
<text x="799.2" y="1985.4" font-family='"Liberation Sans", sans-serif' font-size="29.5" text-anchor="end">0.50</text>
<text x="799.2" y="1819.3" font-family='"Liberation Sans", sans-serif' font-size="29.5" text-anchor="end">1.00</text>
<text x="839.1" y="2228.8" font-family='"Liberation Sans", sans-serif' font-size="29.5" text-anchor="middle">4.9</text>
<text x="941.8" y="2228.8" font-family='"Liberation Sans", sans-serif' font-size="29.5" text-anchor="middle">5.0</text>
<text x="1044.5" y="2228.8" font-family='"Liberation Sans", sans-serif' font-size="29.5" text-anchor="middle">5.1</text>
<text x="1147.2" y="2228.8" font-family='"Liberation Sans", sans-serif' font-size="29.5" text-anchor="middle">5.2</text>
<text x="1249.9" y="2228.8" font-family='"Liberation Sans", sans-serif' font-size="29.5" text-anchor="middle">5.3</text>
<text x="1352.6" y="2228.8" font-family='"Liberation Sans", sans-serif' font-size="29.5" text-anchor="middle">5.4</text>
<text x="1095.55" y="2270.1" font-family='"Liberation Sans", sans-serif' font-size="29.5" text-anchor="middle">Scaffold position (Mb)</text>
<text x="821.9" y="1752" font-family='"Liberation Sans", sans-serif' font-size="29.5"><tspan font-style="italic">P. rumanzovia</tspan> (simple/blended)</text>
<g transform="translate(1216.80 1811.00) scale(0.064836 0.065089) translate(-65 -55)"><clipPath id="fk_left"><path d="M65 975C69 953 84 916 100 880C116 844 135 803 160 760C185 717 217 665 250 620C283 575 322 530 360 490C398 450 437 417 480 380C523 343 573 303 620 270C667 237 713 207 760 180C807 153 857 128 900 110C943 92 982 79 1020 70C1058 61 1098 56 1130 55C1162 54 1188 58 1210 65C1232 72 1252 84 1265 100C1278 116 1284 137 1285 160C1286 183 1279 212 1270 240C1261 268 1245 300 1230 330C1215 360 1197 390 1180 420C1163 450 1147 480 1130 510C1113 540 1098 568 1080 600C1062 632 1040 667 1020 700C1000 733 980 767 960 800C940 833 917 870 900 900C883 930 873 957 860 980C847 1003 835 1025 820 1040C805 1055 790 1064 770 1070C750 1076 738 1077 700 1078C662 1079 593 1078 540 1078C487 1078 428 1080 380 1078C332 1076 293 1070 250 1065C207 1060 149 1054 120 1045C91 1036 84 1022 75 1010C66 998 61 997 65 975Z"/></clipPath><clipPath id="hk_left"><path d="M80 1010C72 1029 92 1090 100 1120C108 1150 118 1163 130 1190C142 1217 158 1245 170 1280C182 1315 192 1370 200 1400C208 1430 207 1447 215 1460C223 1473 242 1457 250 1480C258 1503 255 1563 260 1600C265 1637 270 1670 280 1700C290 1730 303 1752 320 1780C337 1808 358 1840 380 1870C402 1900 430 1937 450 1960C470 1983 482 2000 500 2010C518 2020 543 2023 560 2020C577 2017 585 1992 600 1990C615 1988 630 2010 650 2010C670 2010 698 1998 720 1990C742 1982 762 1967 780 1960C798 1953 818 1960 830 1950C842 1940 842 1917 850 1900C858 1883 872 1868 880 1850C888 1832 898 1807 900 1790C902 1773 888 1765 890 1750C892 1735 905 1718 910 1700C915 1682 915 1657 920 1640C925 1623 936 1618 940 1600C944 1582 947 1550 945 1530C943 1510 931 1498 930 1480C929 1462 942 1437 940 1420C938 1403 933 1400 920 1380C907 1360 880 1325 860 1300C840 1275 823 1252 800 1230C777 1208 747 1190 720 1170C693 1150 667 1132 640 1110C613 1088 592 1057 560 1040C528 1023 493 1016 450 1010C407 1004 350 1006 300 1005C250 1004 187 1004 150 1005C113 1006 88 991 80 1010Z"/></clipPath><path d="M80 1010C72 1029 92 1090 100 1120C108 1150 118 1163 130 1190C142 1217 158 1245 170 1280C182 1315 192 1370 200 1400C208 1430 207 1447 215 1460C223 1473 242 1457 250 1480C258 1503 255 1563 260 1600C265 1637 270 1670 280 1700C290 1730 303 1752 320 1780C337 1808 358 1840 380 1870C402 1900 430 1937 450 1960C470 1983 482 2000 500 2010C518 2020 543 2023 560 2020C577 2017 585 1992 600 1990C615 1988 630 2010 650 2010C670 2010 698 1998 720 1990C742 1982 762 1967 780 1960C798 1953 818 1960 830 1950C842 1940 842 1917 850 1900C858 1883 872 1868 880 1850C888 1832 898 1807 900 1790C902 1773 888 1765 890 1750C892 1735 905 1718 910 1700C915 1682 915 1657 920 1640C925 1623 936 1618 940 1600C944 1582 947 1550 945 1530C943 1510 931 1498 930 1480C929 1462 942 1437 940 1420C938 1403 933 1400 920 1380C907 1360 880 1325 860 1300C840 1275 823 1252 800 1230C777 1208 747 1190 720 1170C693 1150 667 1132 640 1110C613 1088 592 1057 560 1040C528 1023 493 1016 450 1010C407 1004 350 1006 300 1005C250 1004 187 1004 150 1005C113 1006 88 991 80 1010Z" fill="#0b0909"/><g clip-path="url(#hk_left)"><path d="M550 1160C600 1140 738 1232 800 1280C862 1328 903 1380 920 1450C937 1520 920 1625 900 1700C880 1775 842 1858 800 1900C758 1942 690 1983 650 1950C610 1917 585 1792 560 1700C535 1608 502 1490 500 1400C498 1310 500 1180 550 1160Z" fill="#1d2a35" opacity="0.55"/><path d="M420 1300L800 1900M470 1260L880 1700M520 1230L900 1500" stroke="#0b0909" stroke-width="14" stroke-linecap="round" fill="none" opacity="0.7"/><path d="M120 1080C138 1068 228 1062 260 1090C292 1118 290 1198 310 1250C330 1302 362 1348 380 1400C398 1452 410 1510 420 1560C430 1610 432 1652 440 1700C448 1748 453 1807 470 1850C487 1893 518 1936 540 1960C562 1984 602 1987 600 1995C598 2003 553 2013 530 2010C507 2007 482 1997 460 1975C438 1953 422 1909 400 1880C378 1851 348 1830 330 1800C312 1770 292 1733 290 1700C288 1667 313 1637 320 1600C327 1563 333 1517 330 1480C327 1443 317 1418 300 1380C283 1342 255 1287 230 1250C205 1213 168 1188 150 1160C132 1132 102 1092 120 1080Z" fill="#c9392a"/><ellipse cx="335" cy="1765" rx="62" ry="75" fill="#c9392a"/><ellipse cx="335" cy="1770" rx="34" ry="40" fill="#0b0909"/><ellipse cx="520" cy="1990" rx="45" ry="25" fill="#c9392a"/></g><path d="M65 975C69 953 84 916 100 880C116 844 135 803 160 760C185 717 217 665 250 620C283 575 322 530 360 490C398 450 437 417 480 380C523 343 573 303 620 270C667 237 713 207 760 180C807 153 857 128 900 110C943 92 982 79 1020 70C1058 61 1098 56 1130 55C1162 54 1188 58 1210 65C1232 72 1252 84 1265 100C1278 116 1284 137 1285 160C1286 183 1279 212 1270 240C1261 268 1245 300 1230 330C1215 360 1197 390 1180 420C1163 450 1147 480 1130 510C1113 540 1098 568 1080 600C1062 632 1040 667 1020 700C1000 733 980 767 960 800C940 833 917 870 900 900C883 930 873 957 860 980C847 1003 835 1025 820 1040C805 1055 790 1064 770 1070C750 1076 738 1077 700 1078C662 1079 593 1078 540 1078C487 1078 428 1080 380 1078C332 1076 293 1070 250 1065C207 1060 149 1054 120 1045C91 1036 84 1022 75 1010C66 998 61 997 65 975Z" fill="#0b0909"/><g clip-path="url(#fk_left)"><path d="M70 960C73 918 113 837 140 800C167 763 205 732 230 740C255 748 273 807 290 850C307 893 317 963 330 1000C343 1037 383 1058 370 1070C357 1082 292 1078 250 1075C208 1072 150 1069 120 1050C90 1031 67 1002 70 960Z" fill="#c9392a"/><path d="M120 1010C127 987 207 915 240 920C273 925 327 1017 320 1040C313 1063 233 1065 200 1060C167 1055 113 1033 120 1010Z" fill="#dd9a86" opacity="0.6"/></g></g><g transform="translate(1280.70 1812.40) scale(0.065512 0.067263) translate(-80 -100)"><clipPath id="fk_right"><path d="M80 970C80 936 100 915 120 880C140 845 167 803 200 760C233 717 277 665 320 620C363 575 410 532 460 490C510 448 567 408 620 370C673 332 727 293 780 260C833 227 890 194 940 170C990 146 1037 127 1080 115C1123 103 1165 99 1200 100C1235 101 1266 108 1290 120C1314 132 1335 150 1345 170C1355 190 1356 213 1350 240C1344 267 1327 300 1310 330C1293 360 1272 388 1250 420C1228 452 1203 488 1180 520C1157 552 1130 580 1110 610C1090 640 1075 668 1060 700C1045 732 1035 767 1020 800C1005 833 988 868 970 900C952 932 930 963 910 990C890 1017 872 1042 850 1060C828 1078 805 1092 780 1100C755 1108 747 1108 700 1110C653 1112 567 1112 500 1110C433 1108 363 1104 300 1100C237 1096 157 1107 120 1085C83 1063 80 1004 80 970Z"/></clipPath><clipPath id="hk_right"><path d="M100 1060C85 1083 102 1160 110 1200C118 1240 135 1267 150 1300C165 1333 183 1367 200 1400C217 1433 235 1467 250 1500C265 1533 277 1567 290 1600C303 1633 318 1667 330 1700C342 1733 348 1770 360 1800C372 1830 383 1855 400 1880C417 1905 440 1930 460 1950C480 1970 503 1993 520 2000C537 2007 540 1997 560 1990C580 1983 613 1968 640 1960C667 1952 693 1947 720 1940C747 1933 782 1928 800 1920C818 1912 827 1907 830 1890C833 1873 815 1842 820 1820C825 1798 848 1783 860 1760C872 1737 888 1703 890 1680C892 1657 868 1640 870 1620C872 1600 898 1580 900 1560C902 1540 885 1523 880 1500C875 1477 870 1443 870 1420C870 1397 888 1380 880 1360C872 1340 835 1317 820 1300C805 1283 807 1277 790 1260C773 1243 745 1218 720 1200C695 1182 670 1170 640 1150C610 1130 580 1095 540 1080C500 1065 457 1063 400 1060C343 1057 250 1060 200 1060C150 1060 115 1037 100 1060Z"/></clipPath><path d="M100 1060C85 1083 102 1160 110 1200C118 1240 135 1267 150 1300C165 1333 183 1367 200 1400C217 1433 235 1467 250 1500C265 1533 277 1567 290 1600C303 1633 318 1667 330 1700C342 1733 348 1770 360 1800C372 1830 383 1855 400 1880C417 1905 440 1930 460 1950C480 1970 503 1993 520 2000C537 2007 540 1997 560 1990C580 1983 613 1968 640 1960C667 1952 693 1947 720 1940C747 1933 782 1928 800 1920C818 1912 827 1907 830 1890C833 1873 815 1842 820 1820C825 1798 848 1783 860 1760C872 1737 888 1703 890 1680C892 1657 868 1640 870 1620C872 1600 898 1580 900 1560C902 1540 885 1523 880 1500C875 1477 870 1443 870 1420C870 1397 888 1380 880 1360C872 1340 835 1317 820 1300C805 1283 807 1277 790 1260C773 1243 745 1218 720 1200C695 1182 670 1170 640 1150C610 1130 580 1095 540 1080C500 1065 457 1063 400 1060C343 1057 250 1060 200 1060C150 1060 115 1037 100 1060Z" fill="#0b0909"/><g clip-path="url(#hk_right)"><path d="M150 1150C162 1137 220 1132 250 1170C280 1208 328 1345 330 1380C332 1415 285 1402 260 1380C235 1358 198 1288 180 1250C162 1212 138 1163 150 1150Z" fill="#cf3b2a"/><path d="M300 1380C308 1363 350 1377 380 1400C410 1423 450 1478 480 1520C510 1562 537 1610 560 1650C583 1690 623 1735 620 1760C617 1785 565 1802 540 1800C515 1798 493 1775 470 1750C447 1725 423 1692 400 1650C377 1608 347 1545 330 1500C313 1455 292 1397 300 1380Z" fill="#e8999a"/><path d="M330 1700C342 1683 392 1687 420 1700C448 1713 463 1770 500 1780C537 1790 607 1760 640 1760C673 1760 673 1773 700 1780C727 1787 787 1783 800 1800C813 1817 797 1858 780 1880C763 1902 737 1913 700 1930C663 1947 598 1975 560 1980C522 1985 497 1977 470 1960C443 1943 420 1907 400 1880C380 1853 362 1830 350 1800C338 1770 318 1717 330 1700Z" fill="#d33d2c"/><ellipse cx="400" cy="1790" rx="40" ry="45" fill="#0b0909"/><ellipse cx="540" cy="1860" rx="55" ry="55" fill="#0b0909"/><ellipse cx="680" cy="1840" rx="50" ry="50" fill="#0b0909"/><ellipse cx="820" cy="1470" rx="18" ry="30" fill="#d33d2c"/><ellipse cx="830" cy="1640" rx="15" ry="25" fill="#d33d2c"/><ellipse cx="720" cy="1690" rx="20" ry="20" fill="#d33d2c"/></g><path d="M80 970C80 936 100 915 120 880C140 845 167 803 200 760C233 717 277 665 320 620C363 575 410 532 460 490C510 448 567 408 620 370C673 332 727 293 780 260C833 227 890 194 940 170C990 146 1037 127 1080 115C1123 103 1165 99 1200 100C1235 101 1266 108 1290 120C1314 132 1335 150 1345 170C1355 190 1356 213 1350 240C1344 267 1327 300 1310 330C1293 360 1272 388 1250 420C1228 452 1203 488 1180 520C1157 552 1130 580 1110 610C1090 640 1075 668 1060 700C1045 732 1035 767 1020 800C1005 833 988 868 970 900C952 932 930 963 910 990C890 1017 872 1042 850 1060C828 1078 805 1092 780 1100C755 1108 747 1108 700 1110C653 1112 567 1112 500 1110C433 1108 363 1104 300 1100C237 1096 157 1107 120 1085C83 1063 80 1004 80 970Z" fill="#0b0909"/><g clip-path="url(#fk_right)"><path d="M90 970C102 927 153 815 180 800C207 785 230 855 250 880C270 905 287 928 300 950C313 972 313 988 330 1010C347 1032 422 1067 400 1080C378 1093 248 1093 200 1090C152 1087 128 1080 110 1060C92 1040 78 1013 90 970Z" fill="#cf3b2a"/><path d="M130 1040C140 1018 218 952 260 960C302 968 390 1068 380 1090C370 1112 242 1103 200 1095C158 1087 120 1062 130 1040Z" fill="#e8b0a0" opacity="0.8"/></g></g>
<rect x="126.1" y="636.3" width="568.5" height="101.6" fill="#EBEBEB"/>
<path d="M217.09 636.3V737.9M346.06 636.3V737.9M475.04 636.3V737.9M604.01 636.3V737.9M126.1 715.7H694.6M126.1 681.3H694.6M126.1 646.9H694.6" stroke="#fafafa" stroke-width="1" fill="none"/>
<path d="M152.6 636.3V737.9M281.57 636.3V737.9M410.55 636.3V737.9M539.52 636.3V737.9M668.5 636.3V737.9M126.1 732.9H694.6M126.1 698.5H694.6M126.1 664.1H694.6" stroke="#ffffff" stroke-width="1.5" fill="none"/>
<path d="M139.10 732.38 L140.10 731.82 L141.10 730.77 L141.30 730.48 L141.50 730.15 L141.70 729.79 L141.90 729.38 L142.10 728.93 L142.30 728.43 L142.50 727.89 L142.70 727.28 L142.90 726.62 L143.10 725.90 L143.30 725.12 L143.50 724.26 L143.70 723.33 L143.90 722.33 L144.10 721.24 L144.30 720.08 L144.50 718.83 L144.70 717.50 L144.90 716.07 L145.10 714.56 L145.30 712.95 L145.50 711.25 L145.70 709.47 L145.90 707.59 L146.10 705.62 L146.30 703.57 L146.50 701.43 L146.70 699.22 L146.90 696.93 L147.10 694.57 L147.30 692.15 L147.50 689.68 L147.70 687.15 L147.90 684.60 L148.10 682.01 L148.30 679.41 L148.50 676.80 L148.70 674.20 L148.90 671.61 L149.10 669.06 L149.30 666.55 L149.50 664.10 L149.70 661.72 L149.90 659.42 L150.10 657.12 L150.30 654.83 L150.50 652.66 L150.70 650.62 L150.90 648.73 L151.10 647.00 L151.30 645.43 L151.50 644.03 L151.70 642.82 L151.90 641.80 L152.10 640.98 L152.30 640.35 L152.50 639.93 L152.70 639.71 L152.90 639.67 L153.10 639.80 L153.30 640.10 L153.50 640.56 L153.70 641.19 L153.90 641.98 L154.10 642.92 L154.30 644.01 L154.50 645.24 L154.70 646.60 L154.90 648.09 L155.10 649.70 L155.30 651.42 L155.50 653.24 L155.70 655.14 L155.90 657.13 L156.10 659.19 L156.30 661.30 L156.50 663.45 L156.70 665.64 L156.90 667.86 L157.10 670.09 L157.30 672.33 L157.50 674.56 L157.70 676.79 L157.90 678.99 L158.10 681.18 L158.30 683.33 L158.50 685.44 L158.70 687.51 L158.90 689.53 L159.10 691.50 L159.30 693.42 L159.50 695.27 L159.70 697.06 L159.90 698.79 L160.10 700.45 L160.30 702.04 L160.50 703.55 L160.70 704.98 L160.90 706.34 L161.10 707.63 L161.30 708.84 L161.50 709.98 L161.70 711.05 L161.90 712.05 L162.10 712.98 L162.30 713.86 L162.50 714.67 L162.70 715.42 L162.90 716.12 L163.10 716.77 L163.30 717.37 L163.50 717.92 L163.70 718.44 L163.90 718.91 L164.10 719.34 L164.30 719.75 L164.50 720.12 L164.70 720.46 L165.70 721.88 L166.70 722.78 L167.70 723.28 L168.70 723.58 L169.70 723.78 L170.70 723.90 L171.70 724.00 L172.70 724.08 L173.70 724.15 L174.70 724.21 L175.70 724.27 L176.70 724.33 L177.70 724.39 L178.70 724.44 L179.70 724.50 L180.70 724.55 L181.70 724.60 L182.70 724.65 L183.70 724.71 L184.70 724.76 L185.70 724.82 L186.70 724.87 L187.70 724.93 L188.70 725.00 L189.70 725.06 L190.70 725.13 L191.70 725.21 L192.70 725.29 L193.70 725.37 L194.70 725.45 L195.70 725.54 L196.70 725.63 L197.70 725.72 L198.70 725.82 L199.70 725.92 L200.70 726.01 L201.70 726.11 L202.70 726.21 L203.70 726.31 L204.70 726.41 L205.70 726.51 L206.70 726.61 L207.70 726.71 L208.70 726.81 L209.70 726.90 L210.70 726.99 L211.70 727.08 L212.70 727.17 L216.70 727.49 L220.70 727.78 L224.70 728.05 L228.70 728.31 L232.70 728.56 L236.70 728.80 L240.70 729.05 L244.70 729.29 L248.70 729.54 L252.70 729.79 L256.70 730.03 L260.70 730.26 L264.70 730.47 L268.70 730.66 L272.70 730.83 L276.70 730.97 L280.70 731.11 L284.70 731.24 L288.70 731.36 L292.70 731.48 L296.70 731.59 L300.70 731.69 L304.70 731.78 L308.70 731.87 L312.70 731.95 L316.70 732.02 L320.70 732.10 L324.70 732.17 L328.70 732.23 L332.70 732.30 L336.70 732.36 L340.70 732.42 L344.70 732.47 L348.70 732.51 L352.70 732.55 L356.70 732.59 L360.70 732.61 L364.70 732.64 L368.70 732.66 L372.70 732.69 L376.70 732.71 L380.70 732.73 L384.70 732.75 L388.70 732.77 L392.70 732.79 L396.70 732.80 L400.70 732.81 L404.70 732.83 L408.70 732.84 L412.70 732.84 L416.70 732.85 L420.70 732.85 L424.70 732.85 L428.70 732.85 L432.70 732.86 L436.70 732.86 L440.70 732.86 L444.70 732.86 L448.70 732.86 L452.70 732.86 L456.70 732.86 L460.70 732.87 L464.70 732.87 L468.70 732.87 L472.70 732.87 L476.70 732.87 L480.70 732.87 L484.70 732.87 L488.70 732.87 L492.70 732.87 L496.70 732.87 L500.70 732.88 L504.70 732.88 L508.70 732.88 L512.70 732.88 L516.70 732.88 L520.70 732.88 L524.70 732.88 L528.70 732.88 L532.70 732.88 L536.70 732.88 L540.70 732.88 L544.70 732.88 L548.70 732.88 L552.70 732.88 L556.70 732.88 L560.70 732.88 L564.70 732.89 L568.70 732.89 L572.70 732.89 L576.70 732.89 L580.70 732.89 L584.70 732.89 L588.70 732.89 L592.70 732.89 L596.70 732.89 L600.70 732.89 L604.70 732.89 L608.70 732.89 L612.70 732.89 L616.70 732.89 L620.70 732.89 L624.70 732.89 L628.70 732.89 L632.70 732.89 L636.70 732.89 L640.70 732.89 L644.70 732.89 L648.70 732.89 L652.70 732.90 L656.70 732.90 L660.70 732.90 L664.70 732.90 L668.70 732.90 L672.70 732.90 L676.70 732.90 L680.70 732.90 L681.10 732.90 L681.1 732.9 L139.1 732.9Z" fill="#000" fill-opacity="0.1" stroke="none"/>
<path d="M139.10 732.38 L140.10 731.82 L141.10 730.77 L141.30 730.48 L141.50 730.15 L141.70 729.79 L141.90 729.38 L142.10 728.93 L142.30 728.43 L142.50 727.89 L142.70 727.28 L142.90 726.62 L143.10 725.90 L143.30 725.12 L143.50 724.26 L143.70 723.33 L143.90 722.33 L144.10 721.24 L144.30 720.08 L144.50 718.83 L144.70 717.50 L144.90 716.07 L145.10 714.56 L145.30 712.95 L145.50 711.25 L145.70 709.47 L145.90 707.59 L146.10 705.62 L146.30 703.57 L146.50 701.43 L146.70 699.22 L146.90 696.93 L147.10 694.57 L147.30 692.15 L147.50 689.68 L147.70 687.15 L147.90 684.60 L148.10 682.01 L148.30 679.41 L148.50 676.80 L148.70 674.20 L148.90 671.61 L149.10 669.06 L149.30 666.55 L149.50 664.10 L149.70 661.72 L149.90 659.42 L150.10 657.12 L150.30 654.83 L150.50 652.66 L150.70 650.62 L150.90 648.73 L151.10 647.00 L151.30 645.43 L151.50 644.03 L151.70 642.82 L151.90 641.80 L152.10 640.98 L152.30 640.35 L152.50 639.93 L152.70 639.71 L152.90 639.67 L153.10 639.80 L153.30 640.10 L153.50 640.56 L153.70 641.19 L153.90 641.98 L154.10 642.92 L154.30 644.01 L154.50 645.24 L154.70 646.60 L154.90 648.09 L155.10 649.70 L155.30 651.42 L155.50 653.24 L155.70 655.14 L155.90 657.13 L156.10 659.19 L156.30 661.30 L156.50 663.45 L156.70 665.64 L156.90 667.86 L157.10 670.09 L157.30 672.33 L157.50 674.56 L157.70 676.79 L157.90 678.99 L158.10 681.18 L158.30 683.33 L158.50 685.44 L158.70 687.51 L158.90 689.53 L159.10 691.50 L159.30 693.42 L159.50 695.27 L159.70 697.06 L159.90 698.79 L160.10 700.45 L160.30 702.04 L160.50 703.55 L160.70 704.98 L160.90 706.34 L161.10 707.63 L161.30 708.84 L161.50 709.98 L161.70 711.05 L161.90 712.05 L162.10 712.98 L162.30 713.86 L162.50 714.67 L162.70 715.42 L162.90 716.12 L163.10 716.77 L163.30 717.37 L163.50 717.92 L163.70 718.44 L163.90 718.91 L164.10 719.34 L164.30 719.75 L164.50 720.12 L164.70 720.46 L165.70 721.88 L166.70 722.78 L167.70 723.28 L168.70 723.58 L169.70 723.78 L170.70 723.90 L171.70 724.00 L172.70 724.08 L173.70 724.15 L174.70 724.21 L175.70 724.27 L176.70 724.33 L177.70 724.39 L178.70 724.44 L179.70 724.50 L180.70 724.55 L181.70 724.60 L182.70 724.65 L183.70 724.71 L184.70 724.76 L185.70 724.82 L186.70 724.87 L187.70 724.93 L188.70 725.00 L189.70 725.06 L190.70 725.13 L191.70 725.21 L192.70 725.29 L193.70 725.37 L194.70 725.45 L195.70 725.54 L196.70 725.63 L197.70 725.72 L198.70 725.82 L199.70 725.92 L200.70 726.01 L201.70 726.11 L202.70 726.21 L203.70 726.31 L204.70 726.41 L205.70 726.51 L206.70 726.61 L207.70 726.71 L208.70 726.81 L209.70 726.90 L210.70 726.99 L211.70 727.08 L212.70 727.17 L216.70 727.49 L220.70 727.78 L224.70 728.05 L228.70 728.31 L232.70 728.56 L236.70 728.80 L240.70 729.05 L244.70 729.29 L248.70 729.54 L252.70 729.79 L256.70 730.03 L260.70 730.26 L264.70 730.47 L268.70 730.66 L272.70 730.83 L276.70 730.97 L280.70 731.11 L284.70 731.24 L288.70 731.36 L292.70 731.48 L296.70 731.59 L300.70 731.69 L304.70 731.78 L308.70 731.87 L312.70 731.95 L316.70 732.02 L320.70 732.10 L324.70 732.17 L328.70 732.23 L332.70 732.30 L336.70 732.36 L340.70 732.42 L344.70 732.47 L348.70 732.51 L352.70 732.55 L356.70 732.59 L360.70 732.61 L364.70 732.64 L368.70 732.66 L372.70 732.69 L376.70 732.71 L380.70 732.73 L384.70 732.75 L388.70 732.77 L392.70 732.79 L396.70 732.80 L400.70 732.81 L404.70 732.83 L408.70 732.84 L412.70 732.84 L416.70 732.85 L420.70 732.85 L424.70 732.85 L428.70 732.85 L432.70 732.86 L436.70 732.86 L440.70 732.86 L444.70 732.86 L448.70 732.86 L452.70 732.86 L456.70 732.86 L460.70 732.87 L464.70 732.87 L468.70 732.87 L472.70 732.87 L476.70 732.87 L480.70 732.87 L484.70 732.87 L488.70 732.87 L492.70 732.87 L496.70 732.87 L500.70 732.88 L504.70 732.88 L508.70 732.88 L512.70 732.88 L516.70 732.88 L520.70 732.88 L524.70 732.88 L528.70 732.88 L532.70 732.88 L536.70 732.88 L540.70 732.88 L544.70 732.88 L548.70 732.88 L552.70 732.88 L556.70 732.88 L560.70 732.88 L564.70 732.89 L568.70 732.89 L572.70 732.89 L576.70 732.89 L580.70 732.89 L584.70 732.89 L588.70 732.89 L592.70 732.89 L596.70 732.89 L600.70 732.89 L604.70 732.89 L608.70 732.89 L612.70 732.89 L616.70 732.89 L620.70 732.89 L624.70 732.89 L628.70 732.89 L632.70 732.89 L636.70 732.89 L640.70 732.89 L644.70 732.89 L648.70 732.89 L652.70 732.90 L656.70 732.90 L660.70 732.90 L664.70 732.90 L668.70 732.90 L672.70 732.90 L676.70 732.90 L680.70 732.90 L681.10 732.90" stroke="#2a2a2a" stroke-width="1.1" fill="none"/>
<path d="M668.5 673.2V729.9M658.7 715.3L668.5 730.9L678.3 715.3" stroke="#d7301f" stroke-width="2" fill="none"/>
<path d="M123.1 732.9H126.1M123.1 698.5H126.1M123.1 664.1H126.1M152.6 737.9V740.9M281.57 737.9V740.9M410.55 737.9V740.9M539.52 737.9V740.9M668.5 737.9V740.9" stroke="#333333" stroke-width="1.2" fill="none"/>
<text x="152.6" y="773.2" font-family='"Liberation Sans", sans-serif' font-size="29.5" text-anchor="middle">0.00</text>
<text x="281.57" y="773.2" font-family='"Liberation Sans", sans-serif' font-size="29.5" text-anchor="middle">0.25</text>
<text x="410.55" y="773.2" font-family='"Liberation Sans", sans-serif' font-size="29.5" text-anchor="middle">0.50</text>
<text x="539.52" y="773.2" font-family='"Liberation Sans", sans-serif' font-size="29.5" text-anchor="middle">0.75</text>
<text x="668.5" y="773.2" font-family='"Liberation Sans", sans-serif' font-size="29.5" text-anchor="middle">1.00</text>
<text x="410.35" y="815.4" font-family='"Liberation Sans", sans-serif' font-size="29.5" text-anchor="middle">Window <tspan font-style="italic">F</tspan><tspan font-size="21.5" dy="8.6">ST</tspan></text>
<text transform="translate(102.8 688.2) rotate(-90)" font-family='"Liberation Sans", sans-serif' font-size="29.5" text-anchor="middle">Freq.</text>
<rect x="128.2" y="1490.9" width="565.9" height="102" fill="#EBEBEB"/>
<path d="M218.75 1490.9V1592.9M348.05 1490.9V1592.9M477.35 1490.9V1592.9M606.65 1490.9V1592.9M128.2 1576H694.1M128.2 1552.2H694.1M128.2 1528.4H694.1M128.2 1504.6H694.1" stroke="#fafafa" stroke-width="1" fill="none"/>
<path d="M154.1 1490.9V1592.9M283.4 1490.9V1592.9M412.7 1490.9V1592.9M542 1490.9V1592.9M671.3 1490.9V1592.9M128.2 1587.9H694.1M128.2 1564.1H694.1M128.2 1540.3H694.1M128.2 1516.5H694.1M128.2 1492.7H694.1" stroke="#ffffff" stroke-width="1.5" fill="none"/>
<path d="M145.60 1587.66 L145.80 1587.59 L146.00 1587.50 L146.20 1586.80 L146.40 1586.08 L146.60 1585.34 L146.80 1584.56 L147.00 1583.73 L147.20 1582.85 L147.40 1581.89 L147.60 1580.85 L147.80 1579.70 L148.00 1578.44 L148.20 1577.05 L148.40 1575.50 L148.60 1573.79 L148.80 1571.92 L149.00 1569.89 L149.20 1567.69 L149.40 1565.32 L149.60 1562.78 L149.80 1560.07 L150.00 1557.20 L150.20 1554.17 L150.40 1551.00 L150.60 1547.70 L150.80 1544.30 L151.00 1540.80 L151.20 1537.23 L151.40 1533.57 L151.60 1529.87 L151.80 1526.16 L152.00 1522.47 L152.20 1518.85 L152.40 1515.34 L152.60 1511.99 L152.80 1508.83 L153.00 1505.92 L153.20 1503.28 L153.40 1500.97 L153.60 1499.00 L153.80 1497.41 L154.00 1496.22 L154.20 1495.44 L154.40 1495.07 L154.60 1495.19 L154.80 1495.81 L155.00 1496.89 L155.20 1498.41 L155.40 1500.33 L155.60 1502.60 L155.80 1505.16 L156.00 1507.96 L156.20 1510.93 L156.40 1514.03 L156.60 1517.18 L156.80 1520.35 L157.00 1523.46 L157.20 1526.49 L157.40 1529.39 L157.60 1532.13 L157.80 1534.69 L158.00 1537.05 L158.20 1539.19 L158.40 1541.11 L158.60 1542.81 L158.80 1544.30 L159.00 1545.59 L159.20 1546.69 L159.40 1547.60 L159.60 1548.36 L159.80 1548.97 L160.00 1549.45 L160.20 1549.82 L160.40 1550.10 L160.60 1550.29 L160.80 1550.41 L161.00 1550.48 L161.20 1550.51 L161.40 1550.50 L161.60 1550.47 L161.80 1550.42 L162.00 1550.35 L162.20 1550.28 L162.40 1550.21 L162.60 1550.13 L162.80 1550.05 L163.00 1549.96 L163.20 1549.87 L163.40 1549.78 L163.60 1549.69 L163.80 1549.60 L164.00 1549.51 L164.20 1549.42 L164.40 1549.34 L164.60 1549.26 L164.80 1549.18 L165.00 1549.11 L165.20 1549.04 L165.40 1548.97 L165.60 1548.90 L165.80 1548.84 L166.00 1548.78 L166.20 1548.73 L166.40 1548.67 L167.40 1548.44 L168.40 1548.24 L169.40 1548.07 L170.40 1547.95 L171.40 1547.87 L172.40 1547.81 L173.40 1547.76 L174.40 1547.73 L175.40 1547.70 L176.40 1547.72 L177.40 1547.88 L178.40 1548.18 L179.40 1548.60 L180.40 1549.09 L181.40 1549.63 L182.40 1550.20 L183.40 1550.99 L184.40 1551.98 L185.40 1553.10 L186.40 1554.32 L187.40 1555.57 L188.40 1556.81 L189.40 1557.99 L190.40 1559.12 L191.40 1560.29 L192.40 1561.48 L193.40 1562.68 L194.40 1563.86 L195.40 1565.00 L196.40 1566.08 L197.40 1567.10 L198.40 1568.07 L199.40 1569.01 L200.40 1569.92 L201.40 1570.79 L202.40 1571.63 L203.40 1572.44 L204.40 1573.20 L205.40 1573.94 L206.40 1574.66 L207.40 1575.35 L208.40 1576.01 L209.40 1576.64 L210.40 1577.24 L211.40 1577.81 L212.40 1578.36 L213.40 1578.89 L214.40 1579.40 L218.40 1581.26 L222.40 1582.80 L226.40 1584.11 L230.40 1584.95 L234.40 1585.61 L238.40 1586.19 L242.40 1586.65 L246.40 1587.00 L250.40 1587.21 L254.40 1587.34 L258.40 1587.47 L262.40 1587.58 L266.40 1587.67 L270.40 1587.74 L274.40 1587.80 L278.40 1587.83 L282.40 1587.85 L286.40 1587.85 L290.40 1587.85 L294.40 1587.86 L298.40 1587.86 L302.40 1587.86 L306.40 1587.86 L310.40 1587.86 L314.40 1587.86 L318.40 1587.87 L322.40 1587.87 L326.40 1587.87 L330.40 1587.87 L334.40 1587.87 L338.40 1587.87 L342.40 1587.87 L346.40 1587.87 L350.40 1587.87 L354.40 1587.88 L358.40 1587.88 L362.40 1587.88 L366.40 1587.88 L370.40 1587.88 L374.40 1587.88 L378.40 1587.88 L382.40 1587.88 L386.40 1587.88 L390.40 1587.88 L394.40 1587.88 L398.40 1587.88 L402.40 1587.88 L406.40 1587.88 L410.40 1587.89 L414.40 1587.89 L418.40 1587.89 L422.40 1587.89 L426.40 1587.89 L430.40 1587.89 L434.40 1587.89 L438.40 1587.89 L442.40 1587.89 L446.40 1587.89 L450.40 1587.89 L454.40 1587.89 L458.40 1587.89 L462.40 1587.89 L466.40 1587.89 L470.40 1587.89 L474.40 1587.89 L478.40 1587.89 L482.40 1587.89 L486.40 1587.89 L490.40 1587.89 L494.40 1587.89 L498.40 1587.89 L502.40 1587.89 L506.40 1587.89 L510.40 1587.90 L514.40 1587.90 L518.40 1587.90 L522.40 1587.90 L526.40 1587.90 L530.40 1587.90 L534.40 1587.90 L538.40 1587.90 L540.70 1587.90 L540.7 1587.9 L145.6 1587.9Z" fill="#000" fill-opacity="0.1" stroke="none"/>
<path d="M145.60 1587.66 L145.80 1587.59 L146.00 1587.50 L146.20 1586.80 L146.40 1586.08 L146.60 1585.34 L146.80 1584.56 L147.00 1583.73 L147.20 1582.85 L147.40 1581.89 L147.60 1580.85 L147.80 1579.70 L148.00 1578.44 L148.20 1577.05 L148.40 1575.50 L148.60 1573.79 L148.80 1571.92 L149.00 1569.89 L149.20 1567.69 L149.40 1565.32 L149.60 1562.78 L149.80 1560.07 L150.00 1557.20 L150.20 1554.17 L150.40 1551.00 L150.60 1547.70 L150.80 1544.30 L151.00 1540.80 L151.20 1537.23 L151.40 1533.57 L151.60 1529.87 L151.80 1526.16 L152.00 1522.47 L152.20 1518.85 L152.40 1515.34 L152.60 1511.99 L152.80 1508.83 L153.00 1505.92 L153.20 1503.28 L153.40 1500.97 L153.60 1499.00 L153.80 1497.41 L154.00 1496.22 L154.20 1495.44 L154.40 1495.07 L154.60 1495.19 L154.80 1495.81 L155.00 1496.89 L155.20 1498.41 L155.40 1500.33 L155.60 1502.60 L155.80 1505.16 L156.00 1507.96 L156.20 1510.93 L156.40 1514.03 L156.60 1517.18 L156.80 1520.35 L157.00 1523.46 L157.20 1526.49 L157.40 1529.39 L157.60 1532.13 L157.80 1534.69 L158.00 1537.05 L158.20 1539.19 L158.40 1541.11 L158.60 1542.81 L158.80 1544.30 L159.00 1545.59 L159.20 1546.69 L159.40 1547.60 L159.60 1548.36 L159.80 1548.97 L160.00 1549.45 L160.20 1549.82 L160.40 1550.10 L160.60 1550.29 L160.80 1550.41 L161.00 1550.48 L161.20 1550.51 L161.40 1550.50 L161.60 1550.47 L161.80 1550.42 L162.00 1550.35 L162.20 1550.28 L162.40 1550.21 L162.60 1550.13 L162.80 1550.05 L163.00 1549.96 L163.20 1549.87 L163.40 1549.78 L163.60 1549.69 L163.80 1549.60 L164.00 1549.51 L164.20 1549.42 L164.40 1549.34 L164.60 1549.26 L164.80 1549.18 L165.00 1549.11 L165.20 1549.04 L165.40 1548.97 L165.60 1548.90 L165.80 1548.84 L166.00 1548.78 L166.20 1548.73 L166.40 1548.67 L167.40 1548.44 L168.40 1548.24 L169.40 1548.07 L170.40 1547.95 L171.40 1547.87 L172.40 1547.81 L173.40 1547.76 L174.40 1547.73 L175.40 1547.70 L176.40 1547.72 L177.40 1547.88 L178.40 1548.18 L179.40 1548.60 L180.40 1549.09 L181.40 1549.63 L182.40 1550.20 L183.40 1550.99 L184.40 1551.98 L185.40 1553.10 L186.40 1554.32 L187.40 1555.57 L188.40 1556.81 L189.40 1557.99 L190.40 1559.12 L191.40 1560.29 L192.40 1561.48 L193.40 1562.68 L194.40 1563.86 L195.40 1565.00 L196.40 1566.08 L197.40 1567.10 L198.40 1568.07 L199.40 1569.01 L200.40 1569.92 L201.40 1570.79 L202.40 1571.63 L203.40 1572.44 L204.40 1573.20 L205.40 1573.94 L206.40 1574.66 L207.40 1575.35 L208.40 1576.01 L209.40 1576.64 L210.40 1577.24 L211.40 1577.81 L212.40 1578.36 L213.40 1578.89 L214.40 1579.40 L218.40 1581.26 L222.40 1582.80 L226.40 1584.11 L230.40 1584.95 L234.40 1585.61 L238.40 1586.19 L242.40 1586.65 L246.40 1587.00 L250.40 1587.21 L254.40 1587.34 L258.40 1587.47 L262.40 1587.58 L266.40 1587.67 L270.40 1587.74 L274.40 1587.80 L278.40 1587.83 L282.40 1587.85 L286.40 1587.85 L290.40 1587.85 L294.40 1587.86 L298.40 1587.86 L302.40 1587.86 L306.40 1587.86 L310.40 1587.86 L314.40 1587.86 L318.40 1587.87 L322.40 1587.87 L326.40 1587.87 L330.40 1587.87 L334.40 1587.87 L338.40 1587.87 L342.40 1587.87 L346.40 1587.87 L350.40 1587.87 L354.40 1587.88 L358.40 1587.88 L362.40 1587.88 L366.40 1587.88 L370.40 1587.88 L374.40 1587.88 L378.40 1587.88 L382.40 1587.88 L386.40 1587.88 L390.40 1587.88 L394.40 1587.88 L398.40 1587.88 L402.40 1587.88 L406.40 1587.88 L410.40 1587.89 L414.40 1587.89 L418.40 1587.89 L422.40 1587.89 L426.40 1587.89 L430.40 1587.89 L434.40 1587.89 L438.40 1587.89 L442.40 1587.89 L446.40 1587.89 L450.40 1587.89 L454.40 1587.89 L458.40 1587.89 L462.40 1587.89 L466.40 1587.89 L470.40 1587.89 L474.40 1587.89 L478.40 1587.89 L482.40 1587.89 L486.40 1587.89 L490.40 1587.89 L494.40 1587.89 L498.40 1587.89 L502.40 1587.89 L506.40 1587.89 L510.40 1587.90 L514.40 1587.90 L518.40 1587.90 L522.40 1587.90 L526.40 1587.90 L530.40 1587.90 L534.40 1587.90 L538.40 1587.90 L540.70 1587.90" stroke="#2a2a2a" stroke-width="1.1" fill="none"/>
<path d="M531.3 1526V1583.2M521.5 1568.6L531.3 1584.2L541.1 1568.6" stroke="#d7301f" stroke-width="2" fill="none"/>
<path d="M125.2 1587.9H128.2M125.2 1564.1H128.2M125.2 1540.3H128.2M125.2 1516.5H128.2M125.2 1492.7H128.2M154.1 1592.9V1595.9M283.4 1592.9V1595.9M412.7 1592.9V1595.9M542 1592.9V1595.9M671.3 1592.9V1595.9" stroke="#333333" stroke-width="1.2" fill="none"/>
<text x="154.1" y="1628.2" font-family='"Liberation Sans", sans-serif' font-size="29.5" text-anchor="middle">0.00</text>
<text x="283.4" y="1628.2" font-family='"Liberation Sans", sans-serif' font-size="29.5" text-anchor="middle">0.25</text>
<text x="412.7" y="1628.2" font-family='"Liberation Sans", sans-serif' font-size="29.5" text-anchor="middle">0.50</text>
<text x="542" y="1628.2" font-family='"Liberation Sans", sans-serif' font-size="29.5" text-anchor="middle">0.75</text>
<text x="671.3" y="1628.2" font-family='"Liberation Sans", sans-serif' font-size="29.5" text-anchor="middle">1.00</text>
<text x="411.15" y="1670.4" font-family='"Liberation Sans", sans-serif' font-size="29.5" text-anchor="middle">Window <tspan font-style="italic">F</tspan><tspan font-size="21.5" dy="8.6">ST</tspan></text>
<text transform="translate(102 1542.5) rotate(-90)" font-family='"Liberation Sans", sans-serif' font-size="29.5" text-anchor="middle">Freq.</text>
<rect x="128.7" y="2345.4" width="563.2" height="99.9" fill="#EBEBEB"/>
<path d="M219.27 2345.4V2445.3M348.42 2345.4V2445.3M477.57 2345.4V2445.3M606.72 2345.4V2445.3M128.7 2426.45H691.9M128.7 2398.35H691.9M128.7 2370.25H691.9" stroke="#fafafa" stroke-width="1" fill="none"/>
<path d="M154.7 2345.4V2445.3M283.85 2345.4V2445.3M413 2345.4V2445.3M542.15 2345.4V2445.3M671.3 2345.4V2445.3M128.7 2440.5H691.9M128.7 2412.4H691.9M128.7 2384.3H691.9M128.7 2356.2H691.9" stroke="#ffffff" stroke-width="1.5" fill="none"/>
<path d="M145.60 2439.92 L145.80 2439.79 L146.00 2439.62 L146.20 2439.42 L146.40 2439.18 L146.60 2438.90 L146.80 2438.57 L147.00 2438.17 L147.20 2437.41 L147.40 2436.57 L147.60 2435.65 L147.80 2434.64 L148.00 2433.52 L148.20 2432.29 L148.40 2430.93 L148.60 2429.45 L148.80 2427.82 L149.00 2426.04 L149.20 2424.11 L149.40 2422.02 L149.60 2419.76 L149.80 2417.33 L150.00 2414.74 L150.20 2411.98 L150.40 2409.06 L150.60 2405.99 L150.80 2402.79 L151.00 2399.46 L151.20 2396.03 L151.40 2392.50 L151.60 2388.92 L151.80 2385.30 L152.00 2381.68 L152.20 2378.09 L152.40 2374.57 L152.60 2371.15 L152.80 2367.87 L153.00 2364.76 L153.20 2361.86 L153.40 2359.21 L153.60 2356.84 L153.80 2354.77 L154.00 2353.03 L154.20 2351.64 L154.40 2350.62 L154.60 2349.98 L154.80 2349.71 L155.00 2349.80 L155.20 2350.21 L155.40 2350.93 L155.60 2351.95 L155.80 2353.27 L156.00 2354.85 L156.20 2356.68 L156.40 2358.74 L156.60 2361.00 L156.80 2363.44 L157.00 2366.02 L157.20 2368.73 L157.40 2371.53 L157.60 2374.40 L157.80 2377.30 L158.00 2380.22 L158.20 2383.13 L158.40 2386.01 L158.60 2388.84 L158.80 2391.60 L159.00 2394.28 L159.20 2396.86 L159.40 2399.31 L159.60 2401.63 L159.80 2403.81 L160.00 2405.84 L160.20 2407.73 L160.40 2409.48 L160.60 2411.08 L160.80 2412.55 L161.00 2413.88 L161.20 2415.08 L161.40 2416.17 L161.60 2417.14 L161.80 2418.00 L162.00 2418.77 L162.20 2419.45 L162.40 2420.04 L162.60 2420.56 L162.80 2421.02 L163.00 2421.41 L163.20 2421.76 L163.40 2422.06 L163.60 2422.32 L163.80 2422.54 L164.00 2422.74 L164.20 2422.91 L164.40 2423.05 L164.60 2423.18 L164.80 2423.29 L165.00 2423.39 L165.20 2423.48 L165.40 2423.56 L165.60 2423.63 L165.80 2423.70 L166.00 2423.76 L166.20 2423.82 L166.40 2423.88 L166.60 2423.93 L166.80 2423.99 L167.80 2424.23 L168.80 2424.47 L169.80 2424.68 L170.80 2424.87 L171.80 2425.07 L172.80 2425.28 L173.80 2425.50 L174.80 2425.72 L175.80 2425.96 L176.80 2426.21 L177.80 2426.48 L178.80 2426.79 L179.80 2427.14 L180.80 2427.50 L181.80 2427.88 L182.80 2428.25 L183.80 2428.60 L184.80 2428.91 L185.80 2429.19 L186.80 2429.46 L187.80 2429.71 L188.80 2429.96 L189.80 2430.20 L190.80 2430.44 L191.80 2430.66 L192.80 2430.88 L193.80 2431.10 L194.80 2431.31 L195.80 2431.52 L196.80 2431.73 L197.80 2431.93 L198.80 2432.14 L199.80 2432.34 L200.80 2432.55 L201.80 2432.75 L202.80 2432.96 L203.80 2433.17 L204.80 2433.38 L205.80 2433.60 L206.80 2433.81 L207.80 2434.02 L208.80 2434.23 L209.80 2434.43 L210.80 2434.63 L211.80 2434.83 L212.80 2435.03 L213.80 2435.22 L214.80 2435.40 L218.80 2436.08 L222.80 2436.72 L226.80 2437.34 L230.80 2437.90 L234.80 2438.39 L238.80 2438.76 L242.80 2439.04 L246.80 2439.30 L250.80 2439.54 L254.80 2439.75 L258.80 2439.94 L262.80 2440.09 L266.80 2440.21 L270.80 2440.29 L274.80 2440.33 L278.80 2440.37 L282.80 2440.40 L286.80 2440.43 L290.80 2440.46 L294.80 2440.47 L298.80 2440.48 L302.80 2440.48 L306.80 2440.48 L310.80 2440.48 L314.80 2440.48 L318.80 2440.48 L322.80 2440.48 L326.80 2440.48 L330.80 2440.49 L334.80 2440.49 L338.80 2440.49 L342.80 2440.49 L346.80 2440.49 L350.80 2440.49 L354.80 2440.49 L358.80 2440.49 L362.80 2440.49 L366.80 2440.49 L370.80 2440.49 L374.80 2440.49 L378.80 2440.49 L382.80 2440.49 L386.80 2440.49 L390.80 2440.49 L394.80 2440.49 L398.80 2440.49 L402.80 2440.49 L406.80 2440.49 L410.80 2440.49 L414.80 2440.49 L418.80 2440.49 L422.80 2440.49 L426.80 2440.49 L430.80 2440.49 L434.80 2440.49 L438.80 2440.49 L442.80 2440.49 L446.80 2440.49 L450.80 2440.49 L454.80 2440.49 L458.80 2440.50 L462.80 2440.50 L466.80 2440.50 L470.80 2440.50 L474.80 2440.50 L478.80 2440.50 L482.80 2440.50 L486.80 2440.50 L490.80 2440.50 L494.80 2440.50 L498.80 2440.50 L502.80 2440.50 L506.80 2440.50 L510.80 2440.50 L514.80 2440.50 L518.80 2440.50 L522.80 2440.50 L526.80 2440.50 L530.80 2440.50 L534.80 2440.50 L538.80 2440.50 L542.80 2440.50 L546.80 2440.50 L550.80 2440.50 L554.80 2440.50 L558.80 2440.50 L562.80 2440.50 L566.80 2440.50 L570.80 2440.50 L572.60 2440.50 L572.6 2440.5 L145.6 2440.5Z" fill="#000" fill-opacity="0.1" stroke="none"/>
<path d="M145.60 2439.92 L145.80 2439.79 L146.00 2439.62 L146.20 2439.42 L146.40 2439.18 L146.60 2438.90 L146.80 2438.57 L147.00 2438.17 L147.20 2437.41 L147.40 2436.57 L147.60 2435.65 L147.80 2434.64 L148.00 2433.52 L148.20 2432.29 L148.40 2430.93 L148.60 2429.45 L148.80 2427.82 L149.00 2426.04 L149.20 2424.11 L149.40 2422.02 L149.60 2419.76 L149.80 2417.33 L150.00 2414.74 L150.20 2411.98 L150.40 2409.06 L150.60 2405.99 L150.80 2402.79 L151.00 2399.46 L151.20 2396.03 L151.40 2392.50 L151.60 2388.92 L151.80 2385.30 L152.00 2381.68 L152.20 2378.09 L152.40 2374.57 L152.60 2371.15 L152.80 2367.87 L153.00 2364.76 L153.20 2361.86 L153.40 2359.21 L153.60 2356.84 L153.80 2354.77 L154.00 2353.03 L154.20 2351.64 L154.40 2350.62 L154.60 2349.98 L154.80 2349.71 L155.00 2349.80 L155.20 2350.21 L155.40 2350.93 L155.60 2351.95 L155.80 2353.27 L156.00 2354.85 L156.20 2356.68 L156.40 2358.74 L156.60 2361.00 L156.80 2363.44 L157.00 2366.02 L157.20 2368.73 L157.40 2371.53 L157.60 2374.40 L157.80 2377.30 L158.00 2380.22 L158.20 2383.13 L158.40 2386.01 L158.60 2388.84 L158.80 2391.60 L159.00 2394.28 L159.20 2396.86 L159.40 2399.31 L159.60 2401.63 L159.80 2403.81 L160.00 2405.84 L160.20 2407.73 L160.40 2409.48 L160.60 2411.08 L160.80 2412.55 L161.00 2413.88 L161.20 2415.08 L161.40 2416.17 L161.60 2417.14 L161.80 2418.00 L162.00 2418.77 L162.20 2419.45 L162.40 2420.04 L162.60 2420.56 L162.80 2421.02 L163.00 2421.41 L163.20 2421.76 L163.40 2422.06 L163.60 2422.32 L163.80 2422.54 L164.00 2422.74 L164.20 2422.91 L164.40 2423.05 L164.60 2423.18 L164.80 2423.29 L165.00 2423.39 L165.20 2423.48 L165.40 2423.56 L165.60 2423.63 L165.80 2423.70 L166.00 2423.76 L166.20 2423.82 L166.40 2423.88 L166.60 2423.93 L166.80 2423.99 L167.80 2424.23 L168.80 2424.47 L169.80 2424.68 L170.80 2424.87 L171.80 2425.07 L172.80 2425.28 L173.80 2425.50 L174.80 2425.72 L175.80 2425.96 L176.80 2426.21 L177.80 2426.48 L178.80 2426.79 L179.80 2427.14 L180.80 2427.50 L181.80 2427.88 L182.80 2428.25 L183.80 2428.60 L184.80 2428.91 L185.80 2429.19 L186.80 2429.46 L187.80 2429.71 L188.80 2429.96 L189.80 2430.20 L190.80 2430.44 L191.80 2430.66 L192.80 2430.88 L193.80 2431.10 L194.80 2431.31 L195.80 2431.52 L196.80 2431.73 L197.80 2431.93 L198.80 2432.14 L199.80 2432.34 L200.80 2432.55 L201.80 2432.75 L202.80 2432.96 L203.80 2433.17 L204.80 2433.38 L205.80 2433.60 L206.80 2433.81 L207.80 2434.02 L208.80 2434.23 L209.80 2434.43 L210.80 2434.63 L211.80 2434.83 L212.80 2435.03 L213.80 2435.22 L214.80 2435.40 L218.80 2436.08 L222.80 2436.72 L226.80 2437.34 L230.80 2437.90 L234.80 2438.39 L238.80 2438.76 L242.80 2439.04 L246.80 2439.30 L250.80 2439.54 L254.80 2439.75 L258.80 2439.94 L262.80 2440.09 L266.80 2440.21 L270.80 2440.29 L274.80 2440.33 L278.80 2440.37 L282.80 2440.40 L286.80 2440.43 L290.80 2440.46 L294.80 2440.47 L298.80 2440.48 L302.80 2440.48 L306.80 2440.48 L310.80 2440.48 L314.80 2440.48 L318.80 2440.48 L322.80 2440.48 L326.80 2440.48 L330.80 2440.49 L334.80 2440.49 L338.80 2440.49 L342.80 2440.49 L346.80 2440.49 L350.80 2440.49 L354.80 2440.49 L358.80 2440.49 L362.80 2440.49 L366.80 2440.49 L370.80 2440.49 L374.80 2440.49 L378.80 2440.49 L382.80 2440.49 L386.80 2440.49 L390.80 2440.49 L394.80 2440.49 L398.80 2440.49 L402.80 2440.49 L406.80 2440.49 L410.80 2440.49 L414.80 2440.49 L418.80 2440.49 L422.80 2440.49 L426.80 2440.49 L430.80 2440.49 L434.80 2440.49 L438.80 2440.49 L442.80 2440.49 L446.80 2440.49 L450.80 2440.49 L454.80 2440.49 L458.80 2440.50 L462.80 2440.50 L466.80 2440.50 L470.80 2440.50 L474.80 2440.50 L478.80 2440.50 L482.80 2440.50 L486.80 2440.50 L490.80 2440.50 L494.80 2440.50 L498.80 2440.50 L502.80 2440.50 L506.80 2440.50 L510.80 2440.50 L514.80 2440.50 L518.80 2440.50 L522.80 2440.50 L526.80 2440.50 L530.80 2440.50 L534.80 2440.50 L538.80 2440.50 L542.80 2440.50 L546.80 2440.50 L550.80 2440.50 L554.80 2440.50 L558.80 2440.50 L562.80 2440.50 L566.80 2440.50 L570.80 2440.50 L572.60 2440.50" stroke="#2a2a2a" stroke-width="1.1" fill="none"/>
<path d="M332.7 2379.1V2435.6M322.9 2421L332.7 2436.6L342.5 2421" stroke="#d7301f" stroke-width="2" fill="none"/>
<path d="M125.7 2440.5H128.7M125.7 2412.4H128.7M125.7 2384.3H128.7M125.7 2356.2H128.7M154.7 2445.3V2448.3M283.85 2445.3V2448.3M413 2445.3V2448.3M542.15 2445.3V2448.3M671.3 2445.3V2448.3" stroke="#333333" stroke-width="1.2" fill="none"/>
<text x="154.7" y="2480.6" font-family='"Liberation Sans", sans-serif' font-size="29.5" text-anchor="middle">0.00</text>
<text x="283.85" y="2480.6" font-family='"Liberation Sans", sans-serif' font-size="29.5" text-anchor="middle">0.25</text>
<text x="413" y="2480.6" font-family='"Liberation Sans", sans-serif' font-size="29.5" text-anchor="middle">0.50</text>
<text x="542.15" y="2480.6" font-family='"Liberation Sans", sans-serif' font-size="29.5" text-anchor="middle">0.75</text>
<text x="671.3" y="2480.6" font-family='"Liberation Sans", sans-serif' font-size="29.5" text-anchor="middle">1.00</text>
<text x="410.3" y="2522.8" font-family='"Liberation Sans", sans-serif' font-size="29.5" text-anchor="middle">Window <tspan font-style="italic">F</tspan><tspan font-size="21.5" dy="8.6">ST</tspan></text>
<text transform="translate(102 2396) rotate(-90)" font-family='"Liberation Sans", sans-serif' font-size="29.5" text-anchor="middle">Freq.</text>
<rect x="812.6" y="636.3" width="564" height="101.6" fill="#EBEBEB"/>
<path d="M902.33 636.3V737.9M1030.58 636.3V737.9M1158.83 636.3V737.9M1287.08 636.3V737.9M812.6 717.5H1376.6M812.6 686.3H1376.6M812.6 655.1H1376.6" stroke="#fafafa" stroke-width="1" fill="none"/>
<path d="M838.2 636.3V737.9M966.45 636.3V737.9M1094.7 636.3V737.9M1222.95 636.3V737.9M1351.2 636.3V737.9M812.6 733.1H1376.6M812.6 701.9H1376.6M812.6 670.7H1376.6M812.6 639.5H1376.6" stroke="#ffffff" stroke-width="1.5" fill="none"/>
<path d="M837.20 658.84 L837.40 639.80 L837.60 641.04 L837.80 645.81 L838.00 653.64 L838.20 663.58 L838.40 674.51 L838.60 685.47 L838.80 695.69 L839.00 704.62 L839.20 711.98 L839.40 717.75 L839.60 722.05 L839.80 725.10 L840.00 727.16 L840.20 728.50 L840.40 729.34 L840.60 729.84 L840.80 730.14 L841.00 730.32 L841.20 730.43 L841.40 730.51 L841.60 730.57 L841.80 730.62 L842.00 730.67 L842.20 730.71 L842.40 730.75 L842.60 730.79 L842.80 730.82 L843.00 730.85 L843.20 730.88 L843.40 730.90 L843.60 730.92 L843.80 730.94 L844.00 730.96 L844.20 730.98 L844.40 730.99 L844.60 731.01 L844.80 731.03 L845.00 731.05 L845.20 731.07 L845.40 731.08 L845.60 731.10 L845.80 731.12 L846.00 731.14 L846.20 731.15 L846.40 731.17 L846.60 731.19 L846.80 731.21 L847.00 731.22 L847.20 731.24 L847.40 731.26 L847.60 731.27 L847.80 731.29 L848.00 731.30 L848.20 731.32 L848.40 731.34 L848.60 731.35 L848.80 731.37 L849.00 731.38 L849.20 731.40 L849.40 731.41 L850.40 731.49 L851.40 731.56 L852.40 731.62 L853.40 731.69 L854.40 731.75 L855.40 731.80 L856.40 731.86 L857.40 731.91 L858.40 731.96 L859.40 732.00 L860.40 732.04 L861.40 732.08 L862.40 732.12 L863.40 732.15 L864.40 732.18 L865.40 732.21 L866.40 732.23 L867.40 732.26 L868.40 732.29 L869.40 732.31 L870.40 732.34 L871.40 732.36 L872.40 732.39 L873.40 732.41 L874.40 732.43 L875.40 732.46 L876.40 732.48 L877.40 732.50 L878.40 732.52 L879.40 732.54 L880.40 732.56 L881.40 732.58 L882.40 732.60 L883.40 732.62 L884.40 732.64 L885.40 732.65 L886.40 732.67 L887.40 732.69 L888.40 732.70 L889.40 732.72 L890.40 732.73 L891.40 732.75 L892.40 732.76 L893.40 732.77 L894.40 732.79 L895.40 732.80 L896.40 732.81 L897.40 732.82 L901.40 732.86 L905.40 732.89 L909.40 732.90 L913.40 732.92 L917.40 732.93 L921.40 732.95 L925.40 732.96 L929.40 732.97 L933.40 732.98 L937.40 732.99 L941.40 733.00 L945.40 733.01 L949.40 733.02 L953.40 733.03 L957.40 733.04 L961.40 733.05 L965.40 733.05 L969.40 733.06 L973.40 733.06 L977.40 733.07 L981.40 733.07 L985.40 733.07 L989.40 733.08 L993.40 733.08 L997.40 733.08 L1001.40 733.08 L1005.40 733.08 L1009.40 733.08 L1013.40 733.08 L1017.40 733.08 L1021.40 733.08 L1025.40 733.08 L1029.40 733.08 L1033.40 733.08 L1037.40 733.08 L1041.40 733.08 L1045.40 733.09 L1049.40 733.09 L1053.40 733.09 L1057.40 733.09 L1061.40 733.09 L1065.40 733.09 L1069.40 733.09 L1073.40 733.09 L1077.40 733.09 L1081.40 733.09 L1085.40 733.09 L1089.40 733.09 L1093.40 733.09 L1097.40 733.09 L1101.40 733.09 L1105.40 733.09 L1109.40 733.09 L1113.40 733.09 L1117.40 733.09 L1121.40 733.09 L1125.40 733.09 L1129.40 733.09 L1133.40 733.09 L1137.40 733.09 L1141.40 733.09 L1145.40 733.09 L1149.40 733.09 L1153.40 733.09 L1157.40 733.09 L1161.40 733.09 L1165.40 733.09 L1169.40 733.09 L1173.40 733.09 L1177.40 733.09 L1181.40 733.09 L1185.40 733.09 L1189.40 733.09 L1193.40 733.09 L1197.40 733.09 L1201.40 733.09 L1205.40 733.09 L1209.40 733.09 L1213.40 733.09 L1217.40 733.09 L1221.40 733.09 L1225.40 733.10 L1229.40 733.10 L1233.40 733.10 L1237.40 733.10 L1241.40 733.10 L1245.40 733.10 L1249.40 733.10 L1253.40 733.10 L1257.40 733.10 L1261.40 733.10 L1265.40 733.10 L1269.40 733.10 L1273.40 733.10 L1277.40 733.10 L1281.40 733.10 L1285.40 733.10 L1289.40 733.10 L1293.40 733.10 L1297.40 733.10 L1301.40 733.10 L1305.40 733.10 L1309.40 733.10 L1313.40 733.10 L1317.40 733.10 L1321.40 733.10 L1325.40 733.10 L1329.40 733.10 L1333.40 733.10 L1337.40 733.10 L1341.40 733.10 L1345.40 733.10 L1349.40 733.10 L1351.20 733.10 L1351.2 733.1 L837.2 733.1Z" fill="#000" fill-opacity="0.1" stroke="none"/>
<path d="M837.20 658.84 L837.40 639.80 L837.60 641.04 L837.80 645.81 L838.00 653.64 L838.20 663.58 L838.40 674.51 L838.60 685.47 L838.80 695.69 L839.00 704.62 L839.20 711.98 L839.40 717.75 L839.60 722.05 L839.80 725.10 L840.00 727.16 L840.20 728.50 L840.40 729.34 L840.60 729.84 L840.80 730.14 L841.00 730.32 L841.20 730.43 L841.40 730.51 L841.60 730.57 L841.80 730.62 L842.00 730.67 L842.20 730.71 L842.40 730.75 L842.60 730.79 L842.80 730.82 L843.00 730.85 L843.20 730.88 L843.40 730.90 L843.60 730.92 L843.80 730.94 L844.00 730.96 L844.20 730.98 L844.40 730.99 L844.60 731.01 L844.80 731.03 L845.00 731.05 L845.20 731.07 L845.40 731.08 L845.60 731.10 L845.80 731.12 L846.00 731.14 L846.20 731.15 L846.40 731.17 L846.60 731.19 L846.80 731.21 L847.00 731.22 L847.20 731.24 L847.40 731.26 L847.60 731.27 L847.80 731.29 L848.00 731.30 L848.20 731.32 L848.40 731.34 L848.60 731.35 L848.80 731.37 L849.00 731.38 L849.20 731.40 L849.40 731.41 L850.40 731.49 L851.40 731.56 L852.40 731.62 L853.40 731.69 L854.40 731.75 L855.40 731.80 L856.40 731.86 L857.40 731.91 L858.40 731.96 L859.40 732.00 L860.40 732.04 L861.40 732.08 L862.40 732.12 L863.40 732.15 L864.40 732.18 L865.40 732.21 L866.40 732.23 L867.40 732.26 L868.40 732.29 L869.40 732.31 L870.40 732.34 L871.40 732.36 L872.40 732.39 L873.40 732.41 L874.40 732.43 L875.40 732.46 L876.40 732.48 L877.40 732.50 L878.40 732.52 L879.40 732.54 L880.40 732.56 L881.40 732.58 L882.40 732.60 L883.40 732.62 L884.40 732.64 L885.40 732.65 L886.40 732.67 L887.40 732.69 L888.40 732.70 L889.40 732.72 L890.40 732.73 L891.40 732.75 L892.40 732.76 L893.40 732.77 L894.40 732.79 L895.40 732.80 L896.40 732.81 L897.40 732.82 L901.40 732.86 L905.40 732.89 L909.40 732.90 L913.40 732.92 L917.40 732.93 L921.40 732.95 L925.40 732.96 L929.40 732.97 L933.40 732.98 L937.40 732.99 L941.40 733.00 L945.40 733.01 L949.40 733.02 L953.40 733.03 L957.40 733.04 L961.40 733.05 L965.40 733.05 L969.40 733.06 L973.40 733.06 L977.40 733.07 L981.40 733.07 L985.40 733.07 L989.40 733.08 L993.40 733.08 L997.40 733.08 L1001.40 733.08 L1005.40 733.08 L1009.40 733.08 L1013.40 733.08 L1017.40 733.08 L1021.40 733.08 L1025.40 733.08 L1029.40 733.08 L1033.40 733.08 L1037.40 733.08 L1041.40 733.08 L1045.40 733.09 L1049.40 733.09 L1053.40 733.09 L1057.40 733.09 L1061.40 733.09 L1065.40 733.09 L1069.40 733.09 L1073.40 733.09 L1077.40 733.09 L1081.40 733.09 L1085.40 733.09 L1089.40 733.09 L1093.40 733.09 L1097.40 733.09 L1101.40 733.09 L1105.40 733.09 L1109.40 733.09 L1113.40 733.09 L1117.40 733.09 L1121.40 733.09 L1125.40 733.09 L1129.40 733.09 L1133.40 733.09 L1137.40 733.09 L1141.40 733.09 L1145.40 733.09 L1149.40 733.09 L1153.40 733.09 L1157.40 733.09 L1161.40 733.09 L1165.40 733.09 L1169.40 733.09 L1173.40 733.09 L1177.40 733.09 L1181.40 733.09 L1185.40 733.09 L1189.40 733.09 L1193.40 733.09 L1197.40 733.09 L1201.40 733.09 L1205.40 733.09 L1209.40 733.09 L1213.40 733.09 L1217.40 733.09 L1221.40 733.09 L1225.40 733.10 L1229.40 733.10 L1233.40 733.10 L1237.40 733.10 L1241.40 733.10 L1245.40 733.10 L1249.40 733.10 L1253.40 733.10 L1257.40 733.10 L1261.40 733.10 L1265.40 733.10 L1269.40 733.10 L1273.40 733.10 L1277.40 733.10 L1281.40 733.10 L1285.40 733.10 L1289.40 733.10 L1293.40 733.10 L1297.40 733.10 L1301.40 733.10 L1305.40 733.10 L1309.40 733.10 L1313.40 733.10 L1317.40 733.10 L1321.40 733.10 L1325.40 733.10 L1329.40 733.10 L1333.40 733.10 L1337.40 733.10 L1341.40 733.10 L1345.40 733.10 L1349.40 733.10 L1351.20 733.10" stroke="#2a2a2a" stroke-width="1.1" fill="none"/>
<path d="M1085.9 674.9V731.4M1076.1 716.8L1085.9 732.4L1095.7 716.8" stroke="#d7301f" stroke-width="2" fill="none"/>
<path d="M809.6 733.1H812.6M809.6 701.9H812.6M809.6 670.7H812.6M809.6 639.5H812.6M838.2 737.9V740.9M966.45 737.9V740.9M1094.7 737.9V740.9M1222.95 737.9V740.9M1351.2 737.9V740.9" stroke="#333333" stroke-width="1.2" fill="none"/>
<text x="838.2" y="773.2" font-family='"Liberation Sans", sans-serif' font-size="29.5" text-anchor="middle">0.00</text>
<text x="966.45" y="773.2" font-family='"Liberation Sans", sans-serif' font-size="29.5" text-anchor="middle">0.25</text>
<text x="1094.7" y="773.2" font-family='"Liberation Sans", sans-serif' font-size="29.5" text-anchor="middle">0.50</text>
<text x="1222.95" y="773.2" font-family='"Liberation Sans", sans-serif' font-size="29.5" text-anchor="middle">0.75</text>
<text x="1351.2" y="773.2" font-family='"Liberation Sans", sans-serif' font-size="29.5" text-anchor="middle">1.00</text>
<text x="1094.6" y="815.4" font-family='"Liberation Sans", sans-serif' font-size="29.5" text-anchor="middle">Window <tspan font-style="italic">F</tspan><tspan font-size="21.5" dy="8.6">ST</tspan></text>
<text transform="translate(786.5 688.2) rotate(-90)" font-family='"Liberation Sans", sans-serif' font-size="29.5" text-anchor="middle">Freq.</text>
<rect x="811.9" y="1490.2" width="566" height="100.5" fill="#EBEBEB"/>
<path d="M902.48 1490.2V1590.7M1032.22 1490.2V1590.7M1161.97 1490.2V1590.7M1291.72 1490.2V1590.7M811.9 1573.65H1377.9M811.9 1548.15H1377.9M811.9 1522.65H1377.9M811.9 1497.15H1377.9" stroke="#fafafa" stroke-width="1" fill="none"/>
<path d="M837.6 1490.2V1590.7M967.35 1490.2V1590.7M1097.1 1490.2V1590.7M1226.85 1490.2V1590.7M1356.6 1490.2V1590.7M811.9 1586.4H1377.9M811.9 1560.9H1377.9M811.9 1535.4H1377.9M811.9 1509.9H1377.9" stroke="#ffffff" stroke-width="1.5" fill="none"/>
<path d="M833.60 1584.81 L833.80 1583.97 L834.00 1582.76 L834.20 1580.79 L834.40 1578.22 L834.60 1574.93 L834.80 1570.82 L835.00 1565.80 L835.20 1559.83 L835.40 1552.92 L835.60 1545.19 L835.80 1536.82 L836.00 1528.10 L836.20 1519.38 L836.40 1511.08 L836.60 1503.67 L836.80 1497.57 L837.00 1493.19 L837.20 1490.80 L837.40 1490.48 L837.60 1491.87 L837.80 1494.80 L838.00 1499.13 L838.20 1504.62 L838.40 1510.97 L838.60 1517.90 L838.80 1525.11 L839.00 1532.33 L839.20 1539.31 L839.40 1545.87 L839.60 1551.85 L839.80 1557.17 L840.00 1561.79 L840.20 1565.70 L840.40 1568.93 L840.60 1571.55 L840.80 1573.64 L841.00 1575.26 L841.20 1576.50 L841.40 1577.44 L841.60 1578.15 L841.80 1578.69 L842.00 1579.10 L842.20 1579.41 L842.40 1579.65 L842.60 1579.85 L842.80 1580.00 L843.00 1580.12 L843.20 1580.21 L843.40 1580.28 L843.60 1580.33 L843.80 1580.37 L844.00 1580.42 L844.20 1580.46 L844.40 1580.50 L844.60 1580.54 L844.80 1580.58 L845.00 1580.62 L845.20 1580.65 L845.40 1580.69 L845.60 1580.73 L845.80 1580.76 L846.00 1580.80 L846.20 1580.83 L846.40 1580.87 L846.60 1580.90 L846.80 1580.94 L847.00 1580.97 L847.20 1581.00 L847.40 1581.03 L847.60 1581.07 L847.80 1581.10 L848.00 1581.13 L848.20 1581.16 L848.40 1581.19 L848.60 1581.22 L848.80 1581.25 L849.00 1581.28 L849.20 1581.31 L849.40 1581.34 L850.40 1581.48 L851.40 1581.61 L852.40 1581.74 L853.40 1581.86 L854.40 1581.97 L855.40 1582.08 L856.40 1582.19 L857.40 1582.29 L858.40 1582.40 L859.40 1582.50 L860.40 1582.60 L861.40 1582.70 L862.40 1582.81 L863.40 1582.91 L864.40 1583.02 L865.40 1583.13 L866.40 1583.25 L867.40 1583.37 L868.40 1583.49 L869.40 1583.61 L870.40 1583.73 L871.40 1583.86 L872.40 1583.98 L873.40 1584.10 L874.40 1584.22 L875.40 1584.33 L876.40 1584.45 L877.40 1584.56 L878.40 1584.66 L879.40 1584.76 L880.40 1584.86 L881.40 1584.95 L882.40 1585.03 L883.40 1585.11 L884.40 1585.17 L885.40 1585.23 L886.40 1585.28 L887.40 1585.32 L888.40 1585.36 L889.40 1585.40 L890.40 1585.44 L891.40 1585.48 L892.40 1585.51 L893.40 1585.55 L894.40 1585.58 L895.40 1585.61 L896.40 1585.64 L897.40 1585.67 L901.40 1585.78 L905.40 1585.88 L909.40 1585.96 L913.40 1586.02 L917.40 1586.08 L921.40 1586.12 L925.40 1586.16 L929.40 1586.20 L933.40 1586.24 L937.40 1586.27 L941.40 1586.30 L945.40 1586.32 L949.40 1586.34 L953.40 1586.36 L957.40 1586.37 L961.40 1586.37 L965.40 1586.37 L969.40 1586.37 L973.40 1586.37 L977.40 1586.38 L981.40 1586.38 L985.40 1586.38 L989.40 1586.38 L993.40 1586.38 L997.40 1586.38 L1001.40 1586.38 L1005.40 1586.38 L1009.40 1586.38 L1013.40 1586.38 L1017.40 1586.39 L1021.40 1586.39 L1025.40 1586.39 L1029.40 1586.39 L1033.40 1586.39 L1037.40 1586.39 L1041.40 1586.39 L1045.40 1586.39 L1049.40 1586.39 L1053.40 1586.39 L1057.40 1586.39 L1061.40 1586.39 L1065.40 1586.39 L1069.40 1586.39 L1073.40 1586.39 L1077.40 1586.39 L1081.40 1586.39 L1085.40 1586.39 L1089.40 1586.39 L1093.40 1586.39 L1097.40 1586.39 L1101.40 1586.39 L1105.40 1586.39 L1109.40 1586.39 L1113.40 1586.40 L1117.40 1586.40 L1121.40 1586.40 L1125.40 1586.40 L1129.40 1586.40 L1133.40 1586.40 L1137.40 1586.40 L1141.40 1586.40 L1145.40 1586.40 L1149.40 1586.40 L1153.40 1586.40 L1154.70 1586.40 L1154.7 1586.4 L833.6 1586.4Z" fill="#000" fill-opacity="0.1" stroke="none"/>
<path d="M833.60 1584.81 L833.80 1583.97 L834.00 1582.76 L834.20 1580.79 L834.40 1578.22 L834.60 1574.93 L834.80 1570.82 L835.00 1565.80 L835.20 1559.83 L835.40 1552.92 L835.60 1545.19 L835.80 1536.82 L836.00 1528.10 L836.20 1519.38 L836.40 1511.08 L836.60 1503.67 L836.80 1497.57 L837.00 1493.19 L837.20 1490.80 L837.40 1490.48 L837.60 1491.87 L837.80 1494.80 L838.00 1499.13 L838.20 1504.62 L838.40 1510.97 L838.60 1517.90 L838.80 1525.11 L839.00 1532.33 L839.20 1539.31 L839.40 1545.87 L839.60 1551.85 L839.80 1557.17 L840.00 1561.79 L840.20 1565.70 L840.40 1568.93 L840.60 1571.55 L840.80 1573.64 L841.00 1575.26 L841.20 1576.50 L841.40 1577.44 L841.60 1578.15 L841.80 1578.69 L842.00 1579.10 L842.20 1579.41 L842.40 1579.65 L842.60 1579.85 L842.80 1580.00 L843.00 1580.12 L843.20 1580.21 L843.40 1580.28 L843.60 1580.33 L843.80 1580.37 L844.00 1580.42 L844.20 1580.46 L844.40 1580.50 L844.60 1580.54 L844.80 1580.58 L845.00 1580.62 L845.20 1580.65 L845.40 1580.69 L845.60 1580.73 L845.80 1580.76 L846.00 1580.80 L846.20 1580.83 L846.40 1580.87 L846.60 1580.90 L846.80 1580.94 L847.00 1580.97 L847.20 1581.00 L847.40 1581.03 L847.60 1581.07 L847.80 1581.10 L848.00 1581.13 L848.20 1581.16 L848.40 1581.19 L848.60 1581.22 L848.80 1581.25 L849.00 1581.28 L849.20 1581.31 L849.40 1581.34 L850.40 1581.48 L851.40 1581.61 L852.40 1581.74 L853.40 1581.86 L854.40 1581.97 L855.40 1582.08 L856.40 1582.19 L857.40 1582.29 L858.40 1582.40 L859.40 1582.50 L860.40 1582.60 L861.40 1582.70 L862.40 1582.81 L863.40 1582.91 L864.40 1583.02 L865.40 1583.13 L866.40 1583.25 L867.40 1583.37 L868.40 1583.49 L869.40 1583.61 L870.40 1583.73 L871.40 1583.86 L872.40 1583.98 L873.40 1584.10 L874.40 1584.22 L875.40 1584.33 L876.40 1584.45 L877.40 1584.56 L878.40 1584.66 L879.40 1584.76 L880.40 1584.86 L881.40 1584.95 L882.40 1585.03 L883.40 1585.11 L884.40 1585.17 L885.40 1585.23 L886.40 1585.28 L887.40 1585.32 L888.40 1585.36 L889.40 1585.40 L890.40 1585.44 L891.40 1585.48 L892.40 1585.51 L893.40 1585.55 L894.40 1585.58 L895.40 1585.61 L896.40 1585.64 L897.40 1585.67 L901.40 1585.78 L905.40 1585.88 L909.40 1585.96 L913.40 1586.02 L917.40 1586.08 L921.40 1586.12 L925.40 1586.16 L929.40 1586.20 L933.40 1586.24 L937.40 1586.27 L941.40 1586.30 L945.40 1586.32 L949.40 1586.34 L953.40 1586.36 L957.40 1586.37 L961.40 1586.37 L965.40 1586.37 L969.40 1586.37 L973.40 1586.37 L977.40 1586.38 L981.40 1586.38 L985.40 1586.38 L989.40 1586.38 L993.40 1586.38 L997.40 1586.38 L1001.40 1586.38 L1005.40 1586.38 L1009.40 1586.38 L1013.40 1586.38 L1017.40 1586.39 L1021.40 1586.39 L1025.40 1586.39 L1029.40 1586.39 L1033.40 1586.39 L1037.40 1586.39 L1041.40 1586.39 L1045.40 1586.39 L1049.40 1586.39 L1053.40 1586.39 L1057.40 1586.39 L1061.40 1586.39 L1065.40 1586.39 L1069.40 1586.39 L1073.40 1586.39 L1077.40 1586.39 L1081.40 1586.39 L1085.40 1586.39 L1089.40 1586.39 L1093.40 1586.39 L1097.40 1586.39 L1101.40 1586.39 L1105.40 1586.39 L1109.40 1586.39 L1113.40 1586.40 L1117.40 1586.40 L1121.40 1586.40 L1125.40 1586.40 L1129.40 1586.40 L1133.40 1586.40 L1137.40 1586.40 L1141.40 1586.40 L1145.40 1586.40 L1149.40 1586.40 L1153.40 1586.40 L1154.70 1586.40" stroke="#2a2a2a" stroke-width="1.1" fill="none"/>
<path d="M1074.6 1525.1V1581M1064.8 1566.4L1074.6 1582L1084.4 1566.4" stroke="#d7301f" stroke-width="2" fill="none"/>
<path d="M808.9 1586.4H811.9M808.9 1560.9H811.9M808.9 1535.4H811.9M808.9 1509.9H811.9M837.6 1590.7V1593.7M967.35 1590.7V1593.7M1097.1 1590.7V1593.7M1226.85 1590.7V1593.7M1356.6 1590.7V1593.7" stroke="#333333" stroke-width="1.2" fill="none"/>
<text x="837.6" y="1626" font-family='"Liberation Sans", sans-serif' font-size="29.5" text-anchor="middle">0.00</text>
<text x="967.35" y="1626" font-family='"Liberation Sans", sans-serif' font-size="29.5" text-anchor="middle">0.25</text>
<text x="1097.1" y="1626" font-family='"Liberation Sans", sans-serif' font-size="29.5" text-anchor="middle">0.50</text>
<text x="1226.85" y="1626" font-family='"Liberation Sans", sans-serif' font-size="29.5" text-anchor="middle">0.75</text>
<text x="1356.6" y="1626" font-family='"Liberation Sans", sans-serif' font-size="29.5" text-anchor="middle">1.00</text>
<text x="1094.9" y="1668.2" font-family='"Liberation Sans", sans-serif' font-size="29.5" text-anchor="middle">Window <tspan font-style="italic">F</tspan><tspan font-size="21.5" dy="8.6">ST</tspan></text>
<text transform="translate(786 1542) rotate(-90)" font-family='"Liberation Sans", sans-serif' font-size="29.5" text-anchor="middle">Freq.</text>
<rect x="811.9" y="2346.1" width="566" height="101.3" fill="#EBEBEB"/>
<path d="M902.48 2346.1V2447.4M1032.22 2346.1V2447.4M1161.97 2346.1V2447.4M1291.72 2346.1V2447.4M811.9 2431.95H1377.9M811.9 2410.05H1377.9M811.9 2388.15H1377.9M811.9 2366.25H1377.9" stroke="#fafafa" stroke-width="1" fill="none"/>
<path d="M837.6 2346.1V2447.4M967.35 2346.1V2447.4M1097.1 2346.1V2447.4M1226.85 2346.1V2447.4M1356.6 2346.1V2447.4M811.9 2442.9H1377.9M811.9 2421H1377.9M811.9 2399.1H1377.9M811.9 2377.2H1377.9M811.9 2355.3H1377.9" stroke="#ffffff" stroke-width="1.5" fill="none"/>
<path d="M833.60 2442.62 L833.80 2442.43 L834.00 2442.14 L834.20 2441.28 L834.40 2440.20 L834.60 2438.81 L834.80 2437.03 L835.00 2434.74 L835.20 2431.85 L835.40 2428.25 L835.60 2423.84 L835.80 2418.56 L836.00 2412.41 L836.20 2405.43 L836.40 2397.74 L836.60 2389.57 L836.80 2381.23 L837.00 2373.11 L837.20 2365.62 L837.40 2359.19 L837.60 2354.22 L837.80 2351.02 L838.00 2349.80 L838.20 2350.39 L838.40 2352.48 L838.60 2355.97 L838.80 2360.65 L839.00 2366.28 L839.20 2372.60 L839.40 2379.32 L839.60 2386.18 L839.80 2392.93 L840.00 2399.37 L840.20 2405.33 L840.40 2410.71 L840.60 2415.43 L840.80 2419.49 L841.00 2422.90 L841.20 2425.71 L841.40 2427.97 L841.60 2429.75 L841.80 2431.12 L842.00 2432.15 L842.20 2432.91 L842.40 2433.47 L842.60 2433.87 L842.80 2434.15 L843.00 2434.35 L843.20 2434.50 L843.40 2434.60 L843.60 2434.67 L843.80 2434.73 L844.00 2434.77 L844.20 2434.81 L844.40 2434.85 L844.60 2434.88 L844.80 2434.92 L845.00 2434.95 L845.20 2434.98 L845.40 2435.02 L845.60 2435.05 L845.80 2435.09 L846.00 2435.13 L846.20 2435.17 L846.40 2435.20 L846.60 2435.24 L846.80 2435.28 L847.00 2435.32 L847.20 2435.36 L847.40 2435.40 L847.60 2435.44 L847.80 2435.48 L848.00 2435.52 L848.20 2435.56 L848.40 2435.60 L848.60 2435.64 L848.80 2435.69 L849.00 2435.73 L849.20 2435.76 L849.40 2435.80 L849.60 2435.84 L849.80 2435.88 L850.00 2435.92 L851.00 2436.13 L852.00 2436.37 L853.00 2436.64 L854.00 2436.91 L855.00 2437.20 L856.00 2437.47 L857.00 2437.73 L858.00 2437.97 L859.00 2438.18 L860.00 2438.38 L861.00 2438.58 L862.00 2438.77 L863.00 2438.96 L864.00 2439.14 L865.00 2439.32 L866.00 2439.50 L867.00 2439.67 L868.00 2439.83 L869.00 2439.99 L870.00 2440.14 L871.00 2440.29 L872.00 2440.42 L873.00 2440.55 L874.00 2440.68 L875.00 2440.79 L876.00 2440.90 L877.00 2441.00 L878.00 2441.10 L879.00 2441.21 L880.00 2441.31 L881.00 2441.40 L882.00 2441.50 L883.00 2441.60 L884.00 2441.69 L885.00 2441.78 L886.00 2441.86 L887.00 2441.94 L888.00 2442.02 L889.00 2442.10 L890.00 2442.16 L891.00 2442.23 L892.00 2442.29 L893.00 2442.34 L894.00 2442.39 L895.00 2442.43 L896.00 2442.46 L897.00 2442.49 L898.00 2442.51 L902.00 2442.57 L906.00 2442.63 L910.00 2442.68 L914.00 2442.73 L918.00 2442.77 L922.00 2442.80 L926.00 2442.83 L930.00 2442.85 L934.00 2442.86 L938.00 2442.87 L942.00 2442.87 L946.00 2442.87 L950.00 2442.87 L954.00 2442.87 L958.00 2442.87 L962.00 2442.87 L966.00 2442.87 L970.00 2442.88 L974.00 2442.88 L978.00 2442.88 L982.00 2442.88 L986.00 2442.88 L990.00 2442.88 L994.00 2442.88 L998.00 2442.88 L1002.00 2442.88 L1006.00 2442.88 L1010.00 2442.88 L1014.00 2442.88 L1018.00 2442.88 L1022.00 2442.88 L1026.00 2442.88 L1030.00 2442.88 L1034.00 2442.88 L1038.00 2442.88 L1042.00 2442.88 L1046.00 2442.88 L1050.00 2442.89 L1054.00 2442.89 L1058.00 2442.89 L1062.00 2442.89 L1066.00 2442.89 L1070.00 2442.89 L1074.00 2442.89 L1078.00 2442.89 L1082.00 2442.89 L1086.00 2442.89 L1090.00 2442.89 L1094.00 2442.89 L1098.00 2442.89 L1102.00 2442.89 L1106.00 2442.89 L1110.00 2442.89 L1114.00 2442.89 L1118.00 2442.89 L1122.00 2442.89 L1126.00 2442.89 L1130.00 2442.89 L1134.00 2442.89 L1138.00 2442.89 L1142.00 2442.89 L1146.00 2442.89 L1150.00 2442.89 L1154.00 2442.89 L1158.00 2442.89 L1162.00 2442.89 L1166.00 2442.89 L1170.00 2442.89 L1174.00 2442.89 L1178.00 2442.89 L1182.00 2442.89 L1186.00 2442.89 L1190.00 2442.89 L1194.00 2442.89 L1198.00 2442.89 L1202.00 2442.89 L1206.00 2442.89 L1210.00 2442.89 L1214.00 2442.89 L1218.00 2442.89 L1222.00 2442.89 L1226.00 2442.89 L1230.00 2442.89 L1234.00 2442.89 L1238.00 2442.89 L1242.00 2442.89 L1246.00 2442.89 L1250.00 2442.89 L1254.00 2442.89 L1258.00 2442.90 L1262.00 2442.90 L1266.00 2442.90 L1270.00 2442.90 L1274.00 2442.90 L1278.00 2442.90 L1282.00 2442.90 L1286.00 2442.90 L1290.00 2442.90 L1294.00 2442.90 L1298.00 2442.90 L1302.00 2442.90 L1306.00 2442.90 L1310.00 2442.90 L1314.00 2442.90 L1318.00 2442.90 L1322.00 2442.90 L1326.00 2442.90 L1330.00 2442.90 L1334.00 2442.90 L1338.00 2442.90 L1342.00 2442.90 L1346.00 2442.90 L1350.00 2442.90 L1354.00 2442.90 L1358.00 2442.90 L1359.80 2442.90 L1359.8 2442.9 L833.6 2442.9Z" fill="#000" fill-opacity="0.1" stroke="none"/>
<path d="M833.60 2442.62 L833.80 2442.43 L834.00 2442.14 L834.20 2441.28 L834.40 2440.20 L834.60 2438.81 L834.80 2437.03 L835.00 2434.74 L835.20 2431.85 L835.40 2428.25 L835.60 2423.84 L835.80 2418.56 L836.00 2412.41 L836.20 2405.43 L836.40 2397.74 L836.60 2389.57 L836.80 2381.23 L837.00 2373.11 L837.20 2365.62 L837.40 2359.19 L837.60 2354.22 L837.80 2351.02 L838.00 2349.80 L838.20 2350.39 L838.40 2352.48 L838.60 2355.97 L838.80 2360.65 L839.00 2366.28 L839.20 2372.60 L839.40 2379.32 L839.60 2386.18 L839.80 2392.93 L840.00 2399.37 L840.20 2405.33 L840.40 2410.71 L840.60 2415.43 L840.80 2419.49 L841.00 2422.90 L841.20 2425.71 L841.40 2427.97 L841.60 2429.75 L841.80 2431.12 L842.00 2432.15 L842.20 2432.91 L842.40 2433.47 L842.60 2433.87 L842.80 2434.15 L843.00 2434.35 L843.20 2434.50 L843.40 2434.60 L843.60 2434.67 L843.80 2434.73 L844.00 2434.77 L844.20 2434.81 L844.40 2434.85 L844.60 2434.88 L844.80 2434.92 L845.00 2434.95 L845.20 2434.98 L845.40 2435.02 L845.60 2435.05 L845.80 2435.09 L846.00 2435.13 L846.20 2435.17 L846.40 2435.20 L846.60 2435.24 L846.80 2435.28 L847.00 2435.32 L847.20 2435.36 L847.40 2435.40 L847.60 2435.44 L847.80 2435.48 L848.00 2435.52 L848.20 2435.56 L848.40 2435.60 L848.60 2435.64 L848.80 2435.69 L849.00 2435.73 L849.20 2435.76 L849.40 2435.80 L849.60 2435.84 L849.80 2435.88 L850.00 2435.92 L851.00 2436.13 L852.00 2436.37 L853.00 2436.64 L854.00 2436.91 L855.00 2437.20 L856.00 2437.47 L857.00 2437.73 L858.00 2437.97 L859.00 2438.18 L860.00 2438.38 L861.00 2438.58 L862.00 2438.77 L863.00 2438.96 L864.00 2439.14 L865.00 2439.32 L866.00 2439.50 L867.00 2439.67 L868.00 2439.83 L869.00 2439.99 L870.00 2440.14 L871.00 2440.29 L872.00 2440.42 L873.00 2440.55 L874.00 2440.68 L875.00 2440.79 L876.00 2440.90 L877.00 2441.00 L878.00 2441.10 L879.00 2441.21 L880.00 2441.31 L881.00 2441.40 L882.00 2441.50 L883.00 2441.60 L884.00 2441.69 L885.00 2441.78 L886.00 2441.86 L887.00 2441.94 L888.00 2442.02 L889.00 2442.10 L890.00 2442.16 L891.00 2442.23 L892.00 2442.29 L893.00 2442.34 L894.00 2442.39 L895.00 2442.43 L896.00 2442.46 L897.00 2442.49 L898.00 2442.51 L902.00 2442.57 L906.00 2442.63 L910.00 2442.68 L914.00 2442.73 L918.00 2442.77 L922.00 2442.80 L926.00 2442.83 L930.00 2442.85 L934.00 2442.86 L938.00 2442.87 L942.00 2442.87 L946.00 2442.87 L950.00 2442.87 L954.00 2442.87 L958.00 2442.87 L962.00 2442.87 L966.00 2442.87 L970.00 2442.88 L974.00 2442.88 L978.00 2442.88 L982.00 2442.88 L986.00 2442.88 L990.00 2442.88 L994.00 2442.88 L998.00 2442.88 L1002.00 2442.88 L1006.00 2442.88 L1010.00 2442.88 L1014.00 2442.88 L1018.00 2442.88 L1022.00 2442.88 L1026.00 2442.88 L1030.00 2442.88 L1034.00 2442.88 L1038.00 2442.88 L1042.00 2442.88 L1046.00 2442.88 L1050.00 2442.89 L1054.00 2442.89 L1058.00 2442.89 L1062.00 2442.89 L1066.00 2442.89 L1070.00 2442.89 L1074.00 2442.89 L1078.00 2442.89 L1082.00 2442.89 L1086.00 2442.89 L1090.00 2442.89 L1094.00 2442.89 L1098.00 2442.89 L1102.00 2442.89 L1106.00 2442.89 L1110.00 2442.89 L1114.00 2442.89 L1118.00 2442.89 L1122.00 2442.89 L1126.00 2442.89 L1130.00 2442.89 L1134.00 2442.89 L1138.00 2442.89 L1142.00 2442.89 L1146.00 2442.89 L1150.00 2442.89 L1154.00 2442.89 L1158.00 2442.89 L1162.00 2442.89 L1166.00 2442.89 L1170.00 2442.89 L1174.00 2442.89 L1178.00 2442.89 L1182.00 2442.89 L1186.00 2442.89 L1190.00 2442.89 L1194.00 2442.89 L1198.00 2442.89 L1202.00 2442.89 L1206.00 2442.89 L1210.00 2442.89 L1214.00 2442.89 L1218.00 2442.89 L1222.00 2442.89 L1226.00 2442.89 L1230.00 2442.89 L1234.00 2442.89 L1238.00 2442.89 L1242.00 2442.89 L1246.00 2442.89 L1250.00 2442.89 L1254.00 2442.89 L1258.00 2442.90 L1262.00 2442.90 L1266.00 2442.90 L1270.00 2442.90 L1274.00 2442.90 L1278.00 2442.90 L1282.00 2442.90 L1286.00 2442.90 L1290.00 2442.90 L1294.00 2442.90 L1298.00 2442.90 L1302.00 2442.90 L1306.00 2442.90 L1310.00 2442.90 L1314.00 2442.90 L1318.00 2442.90 L1322.00 2442.90 L1326.00 2442.90 L1330.00 2442.90 L1334.00 2442.90 L1338.00 2442.90 L1342.00 2442.90 L1346.00 2442.90 L1350.00 2442.90 L1354.00 2442.90 L1358.00 2442.90 L1359.80 2442.90" stroke="#2a2a2a" stroke-width="1.1" fill="none"/>
<path d="M958.5 2382.3V2438.4M948.7 2423.8L958.5 2439.4L968.3 2423.8" stroke="#d7301f" stroke-width="2" fill="none"/>
<path d="M808.9 2442.9H811.9M808.9 2421H811.9M808.9 2399.1H811.9M808.9 2377.2H811.9M808.9 2355.3H811.9M837.6 2447.4V2450.4M967.35 2447.4V2450.4M1097.1 2447.4V2450.4M1226.85 2447.4V2450.4M1356.6 2447.4V2450.4" stroke="#333333" stroke-width="1.2" fill="none"/>
<text x="837.6" y="2482.7" font-family='"Liberation Sans", sans-serif' font-size="29.5" text-anchor="middle">0.00</text>
<text x="967.35" y="2482.7" font-family='"Liberation Sans", sans-serif' font-size="29.5" text-anchor="middle">0.25</text>
<text x="1097.1" y="2482.7" font-family='"Liberation Sans", sans-serif' font-size="29.5" text-anchor="middle">0.50</text>
<text x="1226.85" y="2482.7" font-family='"Liberation Sans", sans-serif' font-size="29.5" text-anchor="middle">0.75</text>
<text x="1356.6" y="2482.7" font-family='"Liberation Sans", sans-serif' font-size="29.5" text-anchor="middle">1.00</text>
<text x="1094.9" y="2524.9" font-family='"Liberation Sans", sans-serif' font-size="29.5" text-anchor="middle">Window <tspan font-style="italic">F</tspan><tspan font-size="21.5" dy="8.6">ST</tspan></text>
<text transform="translate(786 2398) rotate(-90)" font-family='"Liberation Sans", sans-serif' font-size="29.5" text-anchor="middle">Freq.</text>
<text x="-0.5" y="22.8" font-family='"Liberation Sans", sans-serif' font-weight="bold" font-size="42">a</text>
<text x="-0.8" y="622.1" font-family='"Liberation Sans", sans-serif' font-weight="bold" font-size="42">b</text>
<text x="-0.5" y="888.6" font-family='"Liberation Sans", sans-serif' font-weight="bold" font-size="42">c</text>
<text x="-0.8" y="1476.9" font-family='"Liberation Sans", sans-serif' font-weight="bold" font-size="42">d</text>
<text x="-0.5" y="1743.6" font-family='"Liberation Sans", sans-serif' font-weight="bold" font-size="42">e</text>
<text x="-0.6" y="2345.8" font-family='"Liberation Sans", sans-serif' font-weight="bold" font-size="42">f</text>
<text x="744.3" y="22.6" font-family='"Liberation Sans", sans-serif' font-weight="bold" font-size="42">g</text>
<text x="744.2" y="622.4" font-family='"Liberation Sans", sans-serif' font-weight="bold" font-size="42">h</text>
<text x="744.2" y="888.6" font-family='"Liberation Sans", sans-serif' font-weight="bold" font-size="42">i</text>
<text x="744.2" y="1476.9" font-family='"Liberation Sans", sans-serif' font-weight="bold" font-size="42">j</text>
<text x="744.2" y="1743.7" font-family='"Liberation Sans", sans-serif' font-weight="bold" font-size="42">k</text>
<text x="744.2" y="2345.8" font-family='"Liberation Sans", sans-serif' font-weight="bold" font-size="42">l</text>
</svg></body></html>
